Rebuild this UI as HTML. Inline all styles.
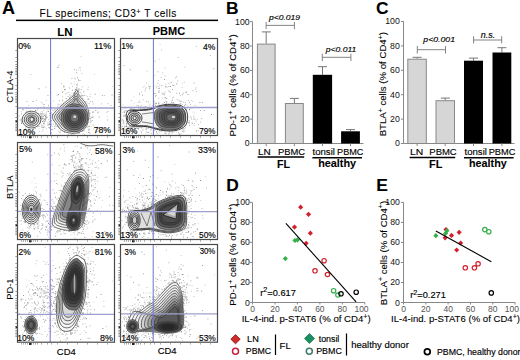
<!DOCTYPE html><html><head><meta charset="utf-8"><style>html,body{margin:0;padding:0;background:#fff;overflow:hidden}svg{display:block}</style></head><body><svg width="520" height="360" viewBox="0 0 520 360" font-family="Liberation Sans">
<style>text{stroke:#000;stroke-width:0.15px}text[font-weight=bold]{stroke-width:0.08px}</style>
<rect width="520" height="360" fill="#fff"/>
<text transform="translate(2.00,13.90)" font-size="18.00" font-weight="bold">A</text>
<text x="39.6" y="17.2" font-size="10.1" letter-spacing="0.5" style="stroke:#000;stroke-width:0.08px">FL specimens; CD3<tspan font-size="7.5" dy="-3.0">+</tspan><tspan dy="3.0"> T cells</tspan></text>
<rect x="16" y="19.6" width="202" height="1.5" fill="#000"/>
<text transform="translate(57.32,35.70) scale(1.077,1)" font-size="10.70" font-weight="bold">LN</text>
<text transform="translate(152.76,35.30) scale(1.049,1)" font-size="10.50" font-weight="bold">PBMC</text>
<path d="M69.2 97.3h0.9v0.9h-0.9zM32.4 116.8h0.9v0.9h-0.9zM78.8 100.5h0.9v0.9h-0.9zM87.7 113.6h0.9v0.9h-0.9zM69.0 94.4h0.9v0.9h-0.9zM74.5 93.9h0.9v0.9h-0.9zM84.9 122.3h0.9v0.9h-0.9zM89.5 112.8h0.9v0.9h-0.9zM58.2 126.9h0.9v0.9h-0.9zM63.4 85.6h0.9v0.9h-0.9zM80.8 89.2h0.9v0.9h-0.9zM86.5 104.8h0.9v0.9h-0.9zM67.4 101.9h0.9v0.9h-0.9zM53.3 110.4h0.9v0.9h-0.9zM72.1 133.3h0.9v0.9h-0.9zM71.5 77.9h0.9v0.9h-0.9zM50.1 117.9h0.9v0.9h-0.9zM85.1 127.1h0.9v0.9h-0.9zM63.1 103.2h0.9v0.9h-0.9zM56.1 111.3h0.9v0.9h-0.9zM63.0 129.5h0.9v0.9h-0.9zM61.9 99.7h0.9v0.9h-0.9zM111.6 94.5h0.9v0.9h-0.9zM55.4 116.9h0.9v0.9h-0.9zM88.4 98.4h0.9v0.9h-0.9zM83.5 127.2h0.9v0.9h-0.9zM64.0 131.0h0.9v0.9h-0.9zM83.7 105.7h0.9v0.9h-0.9zM77.1 77.3h0.9v0.9h-0.9zM85.5 101.3h0.9v0.9h-0.9zM72.2 89.8h0.9v0.9h-0.9zM72.7 131.9h0.9v0.9h-0.9zM58.9 126.6h0.9v0.9h-0.9zM88.8 125.8h0.9v0.9h-0.9zM50.2 132.1h0.9v0.9h-0.9zM97.4 112.3h0.9v0.9h-0.9zM92.7 116.5h0.9v0.9h-0.9zM59.1 128.2h0.9v0.9h-0.9zM87.0 119.5h0.9v0.9h-0.9zM56.6 126.2h0.9v0.9h-0.9zM78.1 79.6h0.9v0.9h-0.9zM78.9 132.7h0.9v0.9h-0.9zM72.6 97.7h0.9v0.9h-0.9zM107.3 119.5h0.9v0.9h-0.9zM86.9 126.7h0.9v0.9h-0.9zM50.7 112.4h0.9v0.9h-0.9zM63.4 86.6h0.9v0.9h-0.9zM51.9 117.3h0.9v0.9h-0.9zM95.0 107.4h0.9v0.9h-0.9zM89.9 118.2h0.9v0.9h-0.9zM55.1 124.5h0.9v0.9h-0.9zM82.3 95.0h0.9v0.9h-0.9zM88.5 131.8h0.9v0.9h-0.9zM59.5 132.3h0.9v0.9h-0.9zM53.4 113.7h0.9v0.9h-0.9zM72.2 133.3h0.9v0.9h-0.9zM70.7 133.9h0.9v0.9h-0.9zM52.2 114.1h0.9v0.9h-0.9zM64.6 89.0h0.9v0.9h-0.9zM58.3 130.7h0.9v0.9h-0.9zM92.6 111.3h0.9v0.9h-0.9z" fill="rgb(150,150,150)"/>
<path d="M79.7 98.6h0.9v0.9h-0.9zM83.4 91.3h0.9v0.9h-0.9zM89.8 118.4h0.9v0.9h-0.9zM96.7 130.9h0.9v0.9h-0.9zM57.2 110.1h0.9v0.9h-0.9zM88.3 132.2h0.9v0.9h-0.9zM70.1 97.9h0.9v0.9h-0.9zM57.8 121.7h0.9v0.9h-0.9zM49.4 114.9h0.9v0.9h-0.9zM73.9 92.5h0.9v0.9h-0.9zM87.8 98.9h0.9v0.9h-0.9zM63.2 130.1h0.9v0.9h-0.9zM48.5 127.0h0.9v0.9h-0.9zM43.6 104.0h0.9v0.9h-0.9zM84.9 125.4h0.9v0.9h-0.9zM54.0 113.5h0.9v0.9h-0.9zM53.8 119.8h0.9v0.9h-0.9zM90.8 120.7h0.9v0.9h-0.9zM48.3 124.3h0.9v0.9h-0.9zM77.6 89.6h0.9v0.9h-0.9zM58.1 94.1h0.9v0.9h-0.9zM49.8 116.3h0.9v0.9h-0.9zM88.3 129.5h0.9v0.9h-0.9zM82.1 130.6h0.9v0.9h-0.9zM78.8 132.1h0.9v0.9h-0.9zM94.9 132.5h0.9v0.9h-0.9zM75.1 89.1h0.9v0.9h-0.9zM85.8 124.3h0.9v0.9h-0.9zM95.4 110.1h0.9v0.9h-0.9zM81.8 97.9h0.9v0.9h-0.9zM49.9 125.6h0.9v0.9h-0.9zM70.0 95.7h0.9v0.9h-0.9zM52.5 114.7h0.9v0.9h-0.9zM76.3 72.4h0.9v0.9h-0.9zM82.2 130.0h0.9v0.9h-0.9zM77.0 90.3h0.9v0.9h-0.9zM64.1 89.3h0.9v0.9h-0.9zM51.7 129.0h0.9v0.9h-0.9zM62.1 91.9h0.9v0.9h-0.9zM49.7 109.7h0.9v0.9h-0.9zM78.2 91.0h0.9v0.9h-0.9zM56.6 94.7h0.9v0.9h-0.9zM94.6 93.8h0.9v0.9h-0.9zM81.9 129.7h0.9v0.9h-0.9zM75.8 88.8h0.9v0.9h-0.9zM78.3 93.9h0.9v0.9h-0.9zM52.9 116.9h0.9v0.9h-0.9zM87.5 89.2h0.9v0.9h-0.9zM45.3 115.3h0.9v0.9h-0.9zM65.7 98.1h0.9v0.9h-0.9z" fill="rgb(135,135,135)"/>
<path d="M54.4 126.0h0.9v0.9h-0.9zM90.8 116.8h0.9v0.9h-0.9zM71.0 100.2h0.9v0.9h-0.9zM69.0 87.5h0.9v0.9h-0.9zM89.9 100.9h0.9v0.9h-0.9zM55.0 112.3h0.9v0.9h-0.9zM73.8 94.2h0.9v0.9h-0.9zM52.3 117.1h0.9v0.9h-0.9zM80.4 131.0h0.9v0.9h-0.9zM53.3 119.3h0.9v0.9h-0.9zM90.3 122.1h0.9v0.9h-0.9zM60.7 108.6h0.9v0.9h-0.9zM77.2 90.1h0.9v0.9h-0.9zM88.2 121.9h0.9v0.9h-0.9zM55.2 122.9h0.9v0.9h-0.9zM51.2 123.4h0.9v0.9h-0.9zM78.3 88.9h0.9v0.9h-0.9zM78.3 80.4h0.9v0.9h-0.9zM49.3 127.9h0.9v0.9h-0.9zM48.4 119.3h0.9v0.9h-0.9zM62.5 90.9h0.9v0.9h-0.9zM83.9 133.9h0.9v0.9h-0.9zM82.5 98.7h0.9v0.9h-0.9zM98.7 116.6h0.9v0.9h-0.9zM76.8 84.6h0.9v0.9h-0.9zM51.1 129.0h0.9v0.9h-0.9zM79.9 91.9h0.9v0.9h-0.9zM42.3 112.7h0.9v0.9h-0.9zM50.5 124.6h0.9v0.9h-0.9zM74.1 92.5h0.9v0.9h-0.9zM45.7 99.7h0.9v0.9h-0.9zM90.4 120.4h0.9v0.9h-0.9zM49.2 122.8h0.9v0.9h-0.9zM41.1 107.1h0.9v0.9h-0.9zM107.7 103.3h0.9v0.9h-0.9zM77.5 90.5h0.9v0.9h-0.9zM87.7 118.8h0.9v0.9h-0.9zM33.9 124.5h0.9v0.9h-0.9zM81.6 99.8h0.9v0.9h-0.9zM92.0 120.2h0.9v0.9h-0.9zM45.5 114.2h0.9v0.9h-0.9zM76.8 132.9h0.9v0.9h-0.9zM65.7 102.2h0.9v0.9h-0.9zM47.5 109.3h0.9v0.9h-0.9zM54.1 128.0h0.9v0.9h-0.9zM91.6 117.1h0.9v0.9h-0.9zM56.6 125.6h0.9v0.9h-0.9zM79.6 80.0h0.9v0.9h-0.9zM88.8 110.1h0.9v0.9h-0.9zM80.5 129.1h0.9v0.9h-0.9zM67.5 96.0h0.9v0.9h-0.9zM82.3 130.5h0.9v0.9h-0.9zM77.6 88.4h0.9v0.9h-0.9zM57.0 106.6h0.9v0.9h-0.9zM53.1 120.1h0.9v0.9h-0.9zM69.2 98.3h0.9v0.9h-0.9zM67.8 133.9h0.9v0.9h-0.9zM50.8 132.6h0.9v0.9h-0.9zM101.2 103.4h0.9v0.9h-0.9zM88.6 132.0h0.9v0.9h-0.9zM47.5 95.1h0.9v0.9h-0.9zM81.6 128.0h0.9v0.9h-0.9zM84.2 129.7h0.9v0.9h-0.9zM62.2 100.2h0.9v0.9h-0.9zM76.1 87.3h0.9v0.9h-0.9zM42.4 129.3h0.9v0.9h-0.9zM80.5 95.3h0.9v0.9h-0.9zM84.0 106.5h0.9v0.9h-0.9zM81.8 86.4h0.9v0.9h-0.9zM86.0 106.3h0.9v0.9h-0.9zM88.6 114.1h0.9v0.9h-0.9zM64.1 131.9h0.9v0.9h-0.9zM76.1 84.6h0.9v0.9h-0.9zM45.7 112.5h0.9v0.9h-0.9zM88.7 129.3h0.9v0.9h-0.9zM56.0 110.5h0.9v0.9h-0.9zM83.7 95.0h0.9v0.9h-0.9zM103.9 94.9h0.9v0.9h-0.9zM101.9 95.0h0.9v0.9h-0.9zM57.7 108.0h0.9v0.9h-0.9zM79.8 98.4h0.9v0.9h-0.9zM86.3 122.9h0.9v0.9h-0.9z" fill="rgb(165,165,165)"/>
<path d="M52.2 126.2h0.9v0.9h-0.9zM75.7 92.8h0.9v0.9h-0.9zM89.5 120.4h0.9v0.9h-0.9zM87.8 86.8h0.9v0.9h-0.9zM42.3 103.2h0.9v0.9h-0.9zM61.6 104.7h0.9v0.9h-0.9zM53.0 114.1h0.9v0.9h-0.9zM93.1 103.6h0.9v0.9h-0.9zM74.8 79.2h0.9v0.9h-0.9zM89.3 115.8h0.9v0.9h-0.9zM78.8 89.7h0.9v0.9h-0.9zM88.8 126.3h0.9v0.9h-0.9zM86.9 96.1h0.9v0.9h-0.9zM78.1 89.3h0.9v0.9h-0.9zM78.7 88.3h0.9v0.9h-0.9zM79.5 131.2h0.9v0.9h-0.9zM49.9 124.9h0.9v0.9h-0.9zM57.7 104.5h0.9v0.9h-0.9zM91.6 117.6h0.9v0.9h-0.9zM89.2 115.4h0.9v0.9h-0.9zM50.8 117.9h0.9v0.9h-0.9zM80.8 93.6h0.9v0.9h-0.9zM31.2 120.7h0.9v0.9h-0.9zM53.9 117.5h0.9v0.9h-0.9zM56.0 110.1h0.9v0.9h-0.9zM87.2 99.1h0.9v0.9h-0.9zM74.1 81.7h0.9v0.9h-0.9zM88.6 112.1h0.9v0.9h-0.9zM92.6 124.1h0.9v0.9h-0.9zM72.9 91.9h0.9v0.9h-0.9zM76.7 86.6h0.9v0.9h-0.9zM61.2 103.6h0.9v0.9h-0.9zM60.7 105.5h0.9v0.9h-0.9zM82.1 128.5h0.9v0.9h-0.9zM77.0 83.2h0.9v0.9h-0.9zM87.3 108.9h0.9v0.9h-0.9zM54.6 127.7h0.9v0.9h-0.9zM42.4 113.3h0.9v0.9h-0.9zM83.1 130.4h0.9v0.9h-0.9zM89.3 118.6h0.9v0.9h-0.9zM81.1 99.3h0.9v0.9h-0.9zM73.8 84.2h0.9v0.9h-0.9zM90.0 93.8h0.9v0.9h-0.9zM65.2 101.7h0.9v0.9h-0.9zM48.3 106.3h0.9v0.9h-0.9zM82.5 103.1h0.9v0.9h-0.9zM52.6 106.7h0.9v0.9h-0.9zM40.7 112.9h0.9v0.9h-0.9zM43.2 120.7h0.9v0.9h-0.9zM52.7 116.0h0.9v0.9h-0.9zM42.6 114.0h0.9v0.9h-0.9zM107.0 116.2h0.9v0.9h-0.9zM85.5 94.9h0.9v0.9h-0.9zM96.3 126.6h0.9v0.9h-0.9zM89.5 96.0h0.9v0.9h-0.9zM47.8 111.1h0.9v0.9h-0.9zM68.0 133.8h0.9v0.9h-0.9zM88.7 103.1h0.9v0.9h-0.9zM67.5 103.2h0.9v0.9h-0.9zM45.1 118.2h0.9v0.9h-0.9zM90.1 107.7h0.9v0.9h-0.9zM57.7 103.5h0.9v0.9h-0.9zM80.6 95.6h0.9v0.9h-0.9z" fill="rgb(195,195,195)"/>
<path d="M98.3 111.6h0.9v0.9h-0.9zM88.6 115.4h0.9v0.9h-0.9zM79.6 96.4h0.9v0.9h-0.9zM81.0 95.5h0.9v0.9h-0.9zM49.4 117.4h0.9v0.9h-0.9zM58.2 110.8h0.9v0.9h-0.9zM40.2 107.0h0.9v0.9h-0.9zM57.8 124.5h0.9v0.9h-0.9zM82.7 127.5h0.9v0.9h-0.9zM70.7 83.1h0.9v0.9h-0.9zM82.2 101.1h0.9v0.9h-0.9zM42.8 116.3h0.9v0.9h-0.9zM38.8 130.8h0.9v0.9h-0.9zM78.7 95.8h0.9v0.9h-0.9zM51.5 112.9h0.9v0.9h-0.9zM72.0 97.7h0.9v0.9h-0.9zM64.1 104.0h0.9v0.9h-0.9zM106.5 111.9h0.9v0.9h-0.9zM52.0 109.7h0.9v0.9h-0.9zM62.1 96.3h0.9v0.9h-0.9zM50.9 120.7h0.9v0.9h-0.9zM43.3 118.1h0.9v0.9h-0.9zM89.3 117.9h0.9v0.9h-0.9zM69.1 131.7h0.9v0.9h-0.9zM93.5 128.6h0.9v0.9h-0.9zM93.5 125.3h0.9v0.9h-0.9zM82.4 133.4h0.9v0.9h-0.9zM62.7 130.6h0.9v0.9h-0.9zM43.7 113.5h0.9v0.9h-0.9zM71.3 94.7h0.9v0.9h-0.9zM73.4 133.8h0.9v0.9h-0.9zM110.6 105.0h0.9v0.9h-0.9zM72.5 93.5h0.9v0.9h-0.9zM49.8 107.8h0.9v0.9h-0.9zM59.4 104.2h0.9v0.9h-0.9zM89.5 132.9h0.9v0.9h-0.9zM78.0 132.5h0.9v0.9h-0.9zM72.1 85.9h0.9v0.9h-0.9zM80.4 99.9h0.9v0.9h-0.9zM107.1 133.9h0.9v0.9h-0.9zM74.4 89.7h0.9v0.9h-0.9zM58.9 100.3h0.9v0.9h-0.9zM75.8 87.7h0.9v0.9h-0.9zM88.8 128.4h0.9v0.9h-0.9zM53.2 100.4h0.9v0.9h-0.9zM55.3 119.6h0.9v0.9h-0.9zM80.5 56.2h0.9v0.9h-0.9zM93.5 111.7h0.9v0.9h-0.9zM85.2 106.2h0.9v0.9h-0.9zM87.4 102.5h0.9v0.9h-0.9zM75.4 91.3h0.9v0.9h-0.9zM56.7 125.3h0.9v0.9h-0.9zM86.5 123.7h0.9v0.9h-0.9zM60.3 129.8h0.9v0.9h-0.9zM87.9 126.0h0.9v0.9h-0.9zM61.0 83.3h0.9v0.9h-0.9zM73.8 92.5h0.9v0.9h-0.9zM74.0 69.1h0.9v0.9h-0.9zM63.0 102.7h0.9v0.9h-0.9zM90.5 125.7h0.9v0.9h-0.9zM52.7 114.0h0.9v0.9h-0.9zM78.4 92.2h0.9v0.9h-0.9zM40.9 117.5h0.9v0.9h-0.9zM50.4 114.6h0.9v0.9h-0.9zM58.7 127.2h0.9v0.9h-0.9zM71.5 132.9h0.9v0.9h-0.9zM78.4 89.6h0.9v0.9h-0.9zM67.9 101.1h0.9v0.9h-0.9zM45.5 86.6h0.9v0.9h-0.9zM82.5 100.4h0.9v0.9h-0.9z" fill="rgb(180,180,180)"/>
<path d="M86.0 118.6h0.9v0.9h-0.9zM94.0 74.0h0.9v0.9h-0.9zM85.9 131.5h0.9v0.9h-0.9zM70.7 92.3h0.9v0.9h-0.9zM68.6 91.7h0.9v0.9h-0.9zM78.8 132.2h0.9v0.9h-0.9zM67.9 92.0h0.9v0.9h-0.9zM89.7 100.7h0.9v0.9h-0.9zM89.4 117.8h0.9v0.9h-0.9zM46.2 128.1h0.9v0.9h-0.9zM76.9 92.7h0.9v0.9h-0.9zM84.1 102.3h0.9v0.9h-0.9zM88.8 103.7h0.9v0.9h-0.9zM74.7 94.0h0.9v0.9h-0.9zM82.5 96.6h0.9v0.9h-0.9zM50.8 108.6h0.9v0.9h-0.9zM53.6 121.4h0.9v0.9h-0.9zM59.9 131.3h0.9v0.9h-0.9zM50.0 114.1h0.9v0.9h-0.9zM98.8 116.4h0.9v0.9h-0.9zM87.2 124.6h0.9v0.9h-0.9zM50.4 125.3h0.9v0.9h-0.9zM88.2 110.2h0.9v0.9h-0.9zM92.2 115.5h0.9v0.9h-0.9zM49.9 114.1h0.9v0.9h-0.9z" fill="rgb(210,210,210)"/>
<path d="M88.9 112.5h0.9v0.9h-0.9zM50.2 103.0h0.9v0.9h-0.9zM50.1 77.9h0.9v0.9h-0.9zM49.9 81.4h0.9v0.9h-0.9zM81.5 73.1h0.9v0.9h-0.9zM81.2 100.7h0.9v0.9h-0.9z" fill="rgb(195,195,195)"/>
<path d="M65.2 93.3h0.9v0.9h-0.9zM78.9 116.0h0.9v0.9h-0.9zM58.7 64.7h0.9v0.9h-0.9zM112.0 85.9h0.9v0.9h-0.9zM58.1 65.4h0.9v0.9h-0.9zM35.8 99.8h0.9v0.9h-0.9zM66.6 92.5h0.9v0.9h-0.9zM30.3 74.1h0.9v0.9h-0.9zM37.9 88.2h0.9v0.9h-0.9zM39.0 88.5h0.9v0.9h-0.9z" fill="rgb(180,180,180)"/>
<path d="M77.9 69.6h0.9v0.9h-0.9z" fill="rgb(210,210,210)"/>
<path d="M57.5 67.1h0.9v0.9h-0.9zM75.9 69.7h0.9v0.9h-0.9zM74.5 77.7h0.9v0.9h-0.9z" fill="rgb(135,135,135)"/>
<path d="M107.4 110.9h0.9v0.9h-0.9zM92.2 111.9h0.9v0.9h-0.9zM79.5 67.3h0.9v0.9h-0.9z" fill="rgb(150,150,150)"/>
<path d="M79.9 69.7h0.9v0.9h-0.9zM64.9 108.1h0.9v0.9h-0.9zM92.0 101.3h0.9v0.9h-0.9zM76.3 100.4h0.9v0.9h-0.9zM24.6 45.6h0.9v0.9h-0.9z" fill="rgb(165,165,165)"/>
<path d="M40.4 121.2h0.9v0.9h-0.9zM42.0 127.2h0.9v0.9h-0.9zM23.6 117.2h0.9v0.9h-0.9zM43.8 121.7h0.9v0.9h-0.9zM26.5 101.1h0.9v0.9h-0.9zM26.2 111.2h0.9v0.9h-0.9zM54.4 109.0h0.9v0.9h-0.9zM25.1 113.4h0.9v0.9h-0.9zM29.4 128.9h0.9v0.9h-0.9zM44.7 119.8h0.9v0.9h-0.9zM35.1 112.0h0.9v0.9h-0.9zM41.5 113.4h0.9v0.9h-0.9zM22.0 118.5h0.9v0.9h-0.9zM40.7 113.8h0.9v0.9h-0.9zM39.7 122.7h0.9v0.9h-0.9zM21.4 118.7h0.9v0.9h-0.9zM22.6 109.4h0.9v0.9h-0.9zM41.5 117.7h0.9v0.9h-0.9zM44.7 119.1h0.9v0.9h-0.9zM22.4 119.1h0.9v0.9h-0.9zM21.2 121.8h0.9v0.9h-0.9zM23.7 117.6h0.9v0.9h-0.9zM23.2 133.2h0.9v0.9h-0.9zM44.0 121.0h0.9v0.9h-0.9zM26.4 129.6h0.9v0.9h-0.9zM24.6 124.2h0.9v0.9h-0.9z" fill="rgb(165,165,165)"/>
<path d="M40.6 113.5h0.9v0.9h-0.9zM41.6 131.2h0.9v0.9h-0.9zM22.2 119.6h0.9v0.9h-0.9zM23.7 131.5h0.9v0.9h-0.9zM29.7 109.9h0.9v0.9h-0.9zM35.6 110.7h0.9v0.9h-0.9zM36.4 124.7h0.9v0.9h-0.9zM34.9 128.0h0.9v0.9h-0.9zM18.8 115.6h0.9v0.9h-0.9zM37.4 125.0h0.9v0.9h-0.9zM43.5 118.6h0.9v0.9h-0.9zM42.1 125.5h0.9v0.9h-0.9zM26.8 112.0h0.9v0.9h-0.9zM40.4 113.8h0.9v0.9h-0.9zM26.6 110.9h0.9v0.9h-0.9zM37.3 107.6h0.9v0.9h-0.9zM28.2 111.2h0.9v0.9h-0.9zM30.8 130.6h0.9v0.9h-0.9z" fill="rgb(180,180,180)"/>
<path d="M37.2 126.4h0.9v0.9h-0.9zM38.2 120.9h0.9v0.9h-0.9zM35.2 128.2h0.9v0.9h-0.9zM26.3 127.2h0.9v0.9h-0.9zM28.2 105.2h0.9v0.9h-0.9zM25.3 112.1h0.9v0.9h-0.9zM37.7 113.5h0.9v0.9h-0.9zM20.9 119.9h0.9v0.9h-0.9zM20.6 111.3h0.9v0.9h-0.9zM39.5 116.4h0.9v0.9h-0.9zM30.8 113.2h0.9v0.9h-0.9zM32.5 130.0h0.9v0.9h-0.9zM41.1 119.7h0.9v0.9h-0.9zM35.6 124.3h0.9v0.9h-0.9zM23.1 116.7h0.9v0.9h-0.9zM30.7 111.5h0.9v0.9h-0.9zM37.8 122.6h0.9v0.9h-0.9zM40.0 115.4h0.9v0.9h-0.9zM40.1 112.8h0.9v0.9h-0.9zM26.1 125.2h0.9v0.9h-0.9zM20.8 118.5h0.9v0.9h-0.9zM36.2 124.8h0.9v0.9h-0.9z" fill="rgb(195,195,195)"/>
<path d="M29.0 114.9h0.9v0.9h-0.9zM42.0 121.1h0.9v0.9h-0.9zM32.7 101.1h0.9v0.9h-0.9zM38.6 125.8h0.9v0.9h-0.9zM22.5 109.3h0.9v0.9h-0.9zM46.5 106.9h0.9v0.9h-0.9zM42.6 115.6h0.9v0.9h-0.9zM28.5 128.6h0.9v0.9h-0.9zM45.1 116.2h0.9v0.9h-0.9zM40.3 117.2h0.9v0.9h-0.9zM21.0 123.1h0.9v0.9h-0.9zM21.4 120.8h0.9v0.9h-0.9zM23.9 129.8h0.9v0.9h-0.9zM26.4 107.5h0.9v0.9h-0.9z" fill="rgb(135,135,135)"/>
<path d="M24.2 129.4h0.9v0.9h-0.9zM20.6 119.4h0.9v0.9h-0.9zM39.0 122.0h0.9v0.9h-0.9zM40.8 124.0h0.9v0.9h-0.9zM35.5 111.6h0.9v0.9h-0.9zM38.7 127.9h0.9v0.9h-0.9zM29.2 110.9h0.9v0.9h-0.9zM46.2 110.9h0.9v0.9h-0.9zM25.6 110.0h0.9v0.9h-0.9z" fill="rgb(210,210,210)"/>
<path d="M40.9 118.6h0.9v0.9h-0.9zM38.3 113.1h0.9v0.9h-0.9zM21.1 113.6h0.9v0.9h-0.9zM40.0 121.9h0.9v0.9h-0.9zM40.9 101.7h0.9v0.9h-0.9zM22.0 117.5h0.9v0.9h-0.9zM19.7 119.6h0.9v0.9h-0.9zM31.2 112.4h0.9v0.9h-0.9zM26.8 125.8h0.9v0.9h-0.9zM40.3 117.6h0.9v0.9h-0.9zM33.5 112.1h0.9v0.9h-0.9zM33.5 128.1h0.9v0.9h-0.9zM25.2 127.7h0.9v0.9h-0.9z" fill="rgb(150,150,150)"/>
<path d="M42.3 118.1h0.9v0.9h-0.9zM39.9 121.1h0.9v0.9h-0.9zM40.5 112.8h0.9v0.9h-0.9zM45.0 114.4h0.9v0.9h-0.9zM40.8 127.1h0.9v0.9h-0.9zM35.5 123.5h0.9v0.9h-0.9z" fill="rgb(195,195,195)"/>
<path d="M41.8 116.4h0.9v0.9h-0.9zM44.2 118.9h0.9v0.9h-0.9zM47.4 122.3h0.9v0.9h-0.9zM42.9 119.8h0.9v0.9h-0.9zM44.9 120.7h0.9v0.9h-0.9zM44.4 118.4h0.9v0.9h-0.9zM43.6 123.0h0.9v0.9h-0.9zM37.7 113.1h0.9v0.9h-0.9zM53.6 117.9h0.9v0.9h-0.9zM38.0 121.2h0.9v0.9h-0.9zM42.8 116.3h0.9v0.9h-0.9zM43.3 125.7h0.9v0.9h-0.9zM37.3 116.0h0.9v0.9h-0.9zM46.5 116.7h0.9v0.9h-0.9z" fill="rgb(165,165,165)"/>
<path d="M45.1 118.4h0.9v0.9h-0.9zM45.3 119.0h0.9v0.9h-0.9zM47.0 124.5h0.9v0.9h-0.9zM48.1 104.8h0.9v0.9h-0.9zM49.1 112.8h0.9v0.9h-0.9zM48.8 127.1h0.9v0.9h-0.9zM37.1 109.3h0.9v0.9h-0.9zM43.4 106.0h0.9v0.9h-0.9zM46.7 117.2h0.9v0.9h-0.9zM40.2 116.8h0.9v0.9h-0.9zM49.7 124.1h0.9v0.9h-0.9zM51.3 107.0h0.9v0.9h-0.9zM43.2 110.2h0.9v0.9h-0.9zM41.5 111.1h0.9v0.9h-0.9zM45.8 115.2h0.9v0.9h-0.9zM48.7 123.9h0.9v0.9h-0.9z" fill="rgb(180,180,180)"/>
<path d="M39.4 115.9h0.9v0.9h-0.9zM47.9 111.1h0.9v0.9h-0.9zM44.4 126.6h0.9v0.9h-0.9zM41.0 115.6h0.9v0.9h-0.9zM50.7 120.0h0.9v0.9h-0.9zM43.0 122.8h0.9v0.9h-0.9zM44.0 107.5h0.9v0.9h-0.9zM44.2 115.1h0.9v0.9h-0.9zM41.0 125.4h0.9v0.9h-0.9zM43.6 123.7h0.9v0.9h-0.9zM45.7 117.6h0.9v0.9h-0.9zM41.7 118.4h0.9v0.9h-0.9z" fill="rgb(150,150,150)"/>
<path d="M38.5 120.2h0.9v0.9h-0.9zM52.8 123.7h0.9v0.9h-0.9zM44.6 108.4h0.9v0.9h-0.9zM44.7 119.4h0.9v0.9h-0.9zM35.1 110.0h0.9v0.9h-0.9zM49.4 121.3h0.9v0.9h-0.9zM46.1 116.7h0.9v0.9h-0.9zM41.8 118.1h0.9v0.9h-0.9zM43.2 126.9h0.9v0.9h-0.9zM39.7 116.1h0.9v0.9h-0.9zM48.8 123.8h0.9v0.9h-0.9zM45.6 117.3h0.9v0.9h-0.9z" fill="rgb(135,135,135)"/>
<ellipse cx="31.5" cy="119.6" rx="9.30" ry="8.40" fill="rgb(245,245,245)" stroke="#2a2a2a" stroke-width="0.7"/>
<ellipse cx="31.5" cy="119.6" rx="7.25" ry="6.55" fill="rgb(225,225,225)" stroke="#2a2a2a" stroke-width="0.7"/>
<ellipse cx="31.5" cy="119.6" rx="5.21" ry="4.70" fill="rgb(210,210,210)" stroke="#2a2a2a" stroke-width="0.7"/>
<ellipse cx="31.5" cy="119.6" rx="3.35" ry="3.02" fill="rgb(200,200,200)" stroke="#2a2a2a" stroke-width="0.7"/>
<ellipse cx="31.8" cy="119.4" rx="1.8" ry="2.2" fill="#eee" stroke="#222" stroke-width="0.7"/>
<path d="M76.5,90.3C77.6,90.3 78.0,93.9 79.5,96.0C81.0,98.1 84.0,100.3 85.5,103.0C87.0,105.7 88.1,109.0 88.6,112.0C89.0,115.0 88.8,118.2 88.2,121.0C87.6,123.8 86.7,126.5 85.0,128.5C83.3,130.4 80.5,131.9 78.0,132.7C75.5,133.4 72.7,133.4 70.0,133.0C67.3,132.6 64.2,131.9 62.0,130.5C59.8,129.1 58.6,126.7 57.0,124.5C55.4,122.3 52.6,119.6 52.3,117.5C52.0,115.4 53.5,113.9 55.0,112.0C56.5,110.1 58.8,108.0 61.0,106.0C63.2,104.0 66.0,101.7 68.0,100.0C70.0,98.3 71.6,97.6 73.0,96.0C74.4,94.4 75.4,90.3 76.5,90.3Z" fill="rgb(248,248,248)" stroke="#2a2a2a" stroke-width="0.65"/>
<path d="M76.3,93.0C77.3,93.0 77.7,96.2 79.0,98.1C80.4,100.0 83.1,102.0 84.4,104.4C85.8,106.8 86.8,109.8 87.2,112.5C87.6,115.2 87.4,118.1 86.9,120.6C86.3,123.1 85.5,125.6 84.0,127.3C82.4,129.1 79.9,130.5 77.7,131.1C75.4,131.8 72.9,131.7 70.5,131.4C68.1,131.1 65.2,130.4 63.3,129.2C61.3,127.9 60.2,125.7 58.8,123.8C57.3,121.8 54.8,119.3 54.5,117.5C54.2,115.6 55.7,114.2 57.0,112.5C58.3,110.8 60.4,108.9 62.4,107.1C64.3,105.3 66.9,103.2 68.7,101.7C70.5,100.2 71.9,99.6 73.2,98.1C74.4,96.6 75.3,93.0 76.3,93.0Z" fill="rgb(232,232,232)" stroke="#2a2a2a" stroke-width="0.65"/>
<path d="M76.1,95.6C77.0,95.6 77.3,98.5 78.5,100.2C79.7,101.9 82.1,103.7 83.3,105.8C84.6,107.9 85.5,110.6 85.8,113.0C86.2,115.4 86.0,118.0 85.5,120.2C85.0,122.4 84.3,124.6 82.9,126.2C81.6,127.8 79.3,129.0 77.3,129.6C75.3,130.2 73.1,130.1 70.9,129.8C68.8,129.5 66.3,128.9 64.5,127.8C62.8,126.7 61.8,124.7 60.5,123.0C59.2,121.3 57.0,119.1 56.8,117.4C56.5,115.7 57.8,114.5 58.9,113.0C60.1,111.5 62.0,109.8 63.7,108.2C65.5,106.6 67.7,104.7 69.3,103.4C70.9,102.1 72.2,101.5 73.3,100.2C74.5,98.9 75.3,95.6 76.1,95.6Z" fill="rgb(210,210,210)" stroke="#2a2a2a" stroke-width="0.65"/>
<path d="M76.0,98.3C76.7,98.3 77.0,100.8 78.1,102.3C79.1,103.8 81.2,105.3 82.3,107.2C83.3,109.1 84.1,111.4 84.4,113.5C84.7,115.6 84.6,117.9 84.2,119.8C83.7,121.7 83.1,123.7 81.9,125.0C80.7,126.4 78.8,127.5 77.0,128.0C75.3,128.5 73.3,128.5 71.4,128.2C69.5,127.9 67.3,127.4 65.8,126.5C64.3,125.5 63.4,123.8 62.3,122.2C61.2,120.7 59.3,118.8 59.0,117.3C58.8,115.9 59.9,114.8 60.9,113.5C61.9,112.2 63.6,110.7 65.1,109.3C66.6,107.9 68.6,106.3 70.0,105.1C71.4,103.9 72.5,103.4 73.5,102.3C74.5,101.2 75.2,98.3 76.0,98.3Z" fill="rgb(185,185,185)" stroke="#2a2a2a" stroke-width="0.65"/>
<ellipse cx="74.5" cy="117.8" rx="13.40" ry="14.00" fill="rgb(140,140,140)" stroke="#2a2a2a" stroke-width="0.6"/>
<ellipse cx="74.5" cy="117.8" rx="11.52" ry="12.04" fill="rgb(112,112,112)" stroke="#2a2a2a" stroke-width="0.6"/>
<ellipse cx="74.5" cy="117.8" rx="9.65" ry="10.08" fill="rgb(92,92,92)" stroke="#2a2a2a" stroke-width="0.6"/>
<ellipse cx="74.5" cy="117.8" rx="7.77" ry="8.12" fill="rgb(82,82,82)" stroke="#2a2a2a" stroke-width="0.6"/>
<ellipse cx="74.5" cy="117.8" rx="5.90" ry="6.16" fill="rgb(86,86,86)" stroke="#2a2a2a" stroke-width="0.6"/>
<ellipse cx="74.5" cy="117.8" rx="4.02" ry="4.20" fill="rgb(110,110,110)" stroke="#2a2a2a" stroke-width="0.6"/>
<ellipse cx="74.8" cy="116.8" rx="1.4" ry="1.2" fill="#ddd"/>
<path d="M17.5 108.0H114.5" stroke="#a0a0cc" stroke-width="1.3"/>
<path d="M50.6 38.5V135.5" stroke="#7070d0" stroke-width="1"/>
<rect x="17.5" y="38.5" width="97.0" height="97.0" fill="none" stroke="#4a4a4a" stroke-width="1.2"/>
<text transform="translate(18.15,48.80) scale(0.986,1)" font-size="8.90">0%</text>
<text transform="translate(93.93,48.80) scale(1.009,1)" font-size="8.90">11%</text>
<text transform="translate(17.96,134.50) scale(0.963,1)" font-size="8.90">10%</text>
<text transform="translate(93.74,133.10) scale(0.975,1)" font-size="8.90">78%</text>
<path d="M21.5 136.1v1.8M23.5 136.1v1.8M25.5 136.1v1.8M27.5 136.1v1.8M29.5 136.1v1.8M31.5 136.1v1.8M33.5 136.1v1.8M35.5 136.1v1.8M37.5 136.1v1.8M41.5 136.1v1.8M47.5 136.1v1.8M51.5 136.1v1.8M57.5 136.1v1.8M67.5 136.1v1.8M77.5 136.1v1.8M87.5 136.1v1.8M97.5 136.1v1.8M107.5 136.1v1.8" stroke="#888" stroke-width="0.7"/>
<rect x="29.0" y="136.3" width="2.4" height="2" fill="#222"/>
<rect x="15.6" y="120.0" width="1.5" height="2" fill="#222"/>
<path d="M15.3 50.5h2.2M15.3 57.5h2.2M15.3 61.5h2.2M15.3 64.5h2.2M15.3 66.5h2.2M15.3 68.5h2.2M15.3 70.0h2.2M15.3 71.5h2.2M15.3 73.0h2.2M15.3 74.5h2.2M15.3 78.5h2.2M15.3 85.5h2.2M15.3 89.5h2.2M15.3 92.5h2.2M15.3 94.5h2.2M15.3 96.5h2.2M15.3 98.0h2.2M15.3 99.5h2.2M15.3 101.0h2.2M15.3 102.5h2.2M15.3 106.5h2.2M15.3 113.5h2.2M15.3 117.5h2.2M15.3 120.5h2.2M15.3 122.5h2.2M15.3 124.5h2.2M15.3 126.0h2.2M15.3 127.5h2.2M15.3 129.0h2.2M15.3 130.5h2.2" stroke="#777" stroke-width="0.7"/>
<path d="M143.6 106.6h0.9v0.9h-0.9zM145.8 127.7h0.9v0.9h-0.9zM179.3 128.1h0.9v0.9h-0.9zM151.1 129.4h0.9v0.9h-0.9zM129.6 128.5h0.9v0.9h-0.9zM145.7 127.8h0.9v0.9h-0.9zM149.8 103.6h0.9v0.9h-0.9zM143.0 110.0h0.9v0.9h-0.9zM182.5 107.1h0.9v0.9h-0.9zM130.6 108.7h0.9v0.9h-0.9zM156.3 132.6h0.9v0.9h-0.9zM155.1 129.6h0.9v0.9h-0.9zM192.7 111.5h0.9v0.9h-0.9zM187.1 107.7h0.9v0.9h-0.9zM193.1 115.3h0.9v0.9h-0.9zM172.4 104.1h0.9v0.9h-0.9zM127.4 123.2h0.9v0.9h-0.9zM140.8 108.9h0.9v0.9h-0.9zM129.7 109.0h0.9v0.9h-0.9zM191.9 122.6h0.9v0.9h-0.9zM140.8 101.9h0.9v0.9h-0.9zM198.6 127.0h0.9v0.9h-0.9zM128.5 109.8h0.9v0.9h-0.9zM133.8 102.6h0.9v0.9h-0.9zM164.6 132.3h0.9v0.9h-0.9zM175.8 131.6h0.9v0.9h-0.9zM143.3 108.3h0.9v0.9h-0.9zM126.0 124.5h0.9v0.9h-0.9zM133.4 96.4h0.9v0.9h-0.9zM144.8 109.2h0.9v0.9h-0.9zM169.8 103.5h0.9v0.9h-0.9zM187.3 105.5h0.9v0.9h-0.9zM127.7 110.4h0.9v0.9h-0.9zM149.7 126.8h0.9v0.9h-0.9zM124.5 110.6h0.9v0.9h-0.9zM134.8 128.7h0.9v0.9h-0.9zM164.5 104.6h0.9v0.9h-0.9zM145.8 125.4h0.9v0.9h-0.9z" fill="rgb(210,210,210)"/>
<path d="M191.6 107.4h0.9v0.9h-0.9zM153.9 130.2h0.9v0.9h-0.9zM128.5 126.9h0.9v0.9h-0.9zM127.3 121.7h0.9v0.9h-0.9zM150.3 107.1h0.9v0.9h-0.9zM146.0 126.7h0.9v0.9h-0.9zM185.1 126.9h0.9v0.9h-0.9zM133.9 108.5h0.9v0.9h-0.9zM162.6 103.2h0.9v0.9h-0.9zM191.3 99.9h0.9v0.9h-0.9zM142.2 107.6h0.9v0.9h-0.9zM159.0 106.0h0.9v0.9h-0.9zM143.6 107.9h0.9v0.9h-0.9zM126.4 123.6h0.9v0.9h-0.9zM128.9 125.7h0.9v0.9h-0.9zM131.9 112.2h0.9v0.9h-0.9zM184.1 105.2h0.9v0.9h-0.9zM184.9 104.4h0.9v0.9h-0.9zM150.7 133.1h0.9v0.9h-0.9zM128.7 125.7h0.9v0.9h-0.9zM156.8 105.5h0.9v0.9h-0.9zM124.0 126.5h0.9v0.9h-0.9zM181.7 103.9h0.9v0.9h-0.9zM135.0 110.5h0.9v0.9h-0.9zM132.6 108.7h0.9v0.9h-0.9zM193.4 118.9h0.9v0.9h-0.9zM129.6 113.2h0.9v0.9h-0.9zM130.3 126.5h0.9v0.9h-0.9zM165.3 105.6h0.9v0.9h-0.9zM121.8 119.5h0.9v0.9h-0.9zM131.5 127.3h0.9v0.9h-0.9zM165.3 83.7h0.9v0.9h-0.9zM146.0 127.7h0.9v0.9h-0.9zM125.6 110.5h0.9v0.9h-0.9zM131.7 123.0h0.9v0.9h-0.9zM142.0 126.5h0.9v0.9h-0.9zM188.1 100.2h0.9v0.9h-0.9zM148.3 127.3h0.9v0.9h-0.9zM127.7 115.8h0.9v0.9h-0.9zM141.2 127.7h0.9v0.9h-0.9zM129.7 110.5h0.9v0.9h-0.9zM169.5 130.8h0.9v0.9h-0.9zM147.4 127.7h0.9v0.9h-0.9zM183.8 105.7h0.9v0.9h-0.9zM158.9 130.3h0.9v0.9h-0.9zM181.0 105.7h0.9v0.9h-0.9zM165.1 104.7h0.9v0.9h-0.9zM189.2 102.0h0.9v0.9h-0.9zM126.6 119.5h0.9v0.9h-0.9zM158.3 107.9h0.9v0.9h-0.9zM128.0 123.7h0.9v0.9h-0.9zM132.6 126.9h0.9v0.9h-0.9zM130.6 111.0h0.9v0.9h-0.9zM181.4 101.2h0.9v0.9h-0.9zM124.0 112.1h0.9v0.9h-0.9zM127.3 112.5h0.9v0.9h-0.9zM165.6 133.1h0.9v0.9h-0.9zM145.4 111.0h0.9v0.9h-0.9zM143.3 107.7h0.9v0.9h-0.9zM150.9 108.8h0.9v0.9h-0.9zM168.9 132.3h0.9v0.9h-0.9zM126.7 128.5h0.9v0.9h-0.9zM182.8 129.7h0.9v0.9h-0.9zM181.6 107.3h0.9v0.9h-0.9zM124.7 130.8h0.9v0.9h-0.9zM146.0 128.9h0.9v0.9h-0.9zM160.4 106.1h0.9v0.9h-0.9zM166.2 102.6h0.9v0.9h-0.9zM137.8 127.9h0.9v0.9h-0.9zM158.8 132.4h0.9v0.9h-0.9zM144.9 106.2h0.9v0.9h-0.9zM154.8 129.1h0.9v0.9h-0.9zM136.5 105.2h0.9v0.9h-0.9zM127.5 126.4h0.9v0.9h-0.9zM149.4 108.3h0.9v0.9h-0.9zM123.3 122.8h0.9v0.9h-0.9zM197.9 129.9h0.9v0.9h-0.9zM188.8 109.6h0.9v0.9h-0.9zM161.6 93.5h0.9v0.9h-0.9z" fill="rgb(165,165,165)"/>
<path d="M150.0 127.0h0.9v0.9h-0.9zM191.2 119.2h0.9v0.9h-0.9zM122.9 115.8h0.9v0.9h-0.9zM184.9 101.8h0.9v0.9h-0.9zM124.2 111.1h0.9v0.9h-0.9zM202.5 128.4h0.9v0.9h-0.9zM164.9 100.5h0.9v0.9h-0.9zM128.5 111.8h0.9v0.9h-0.9zM171.3 132.9h0.9v0.9h-0.9zM138.3 108.2h0.9v0.9h-0.9zM127.0 116.0h0.9v0.9h-0.9zM155.6 103.3h0.9v0.9h-0.9zM145.5 132.4h0.9v0.9h-0.9zM123.7 125.2h0.9v0.9h-0.9zM186.4 125.2h0.9v0.9h-0.9zM127.2 126.7h0.9v0.9h-0.9zM176.7 105.4h0.9v0.9h-0.9zM122.5 112.0h0.9v0.9h-0.9zM125.9 121.4h0.9v0.9h-0.9zM179.4 105.1h0.9v0.9h-0.9zM150.9 128.4h0.9v0.9h-0.9zM193.7 116.7h0.9v0.9h-0.9zM139.6 109.7h0.9v0.9h-0.9zM122.4 119.3h0.9v0.9h-0.9zM172.6 129.7h0.9v0.9h-0.9zM153.0 132.0h0.9v0.9h-0.9zM148.9 104.8h0.9v0.9h-0.9zM147.2 108.1h0.9v0.9h-0.9zM140.0 125.2h0.9v0.9h-0.9zM167.7 104.1h0.9v0.9h-0.9zM185.9 118.4h0.9v0.9h-0.9zM179.0 105.2h0.9v0.9h-0.9zM145.1 128.8h0.9v0.9h-0.9zM124.1 115.2h0.9v0.9h-0.9zM130.6 110.3h0.9v0.9h-0.9zM122.8 122.6h0.9v0.9h-0.9zM136.8 111.9h0.9v0.9h-0.9zM158.6 103.4h0.9v0.9h-0.9zM184.7 130.4h0.9v0.9h-0.9zM136.4 126.3h0.9v0.9h-0.9zM158.1 102.8h0.9v0.9h-0.9zM126.0 118.5h0.9v0.9h-0.9zM145.8 131.3h0.9v0.9h-0.9zM181.6 87.1h0.9v0.9h-0.9zM125.5 121.6h0.9v0.9h-0.9zM188.8 123.2h0.9v0.9h-0.9zM163.2 104.8h0.9v0.9h-0.9zM133.7 126.3h0.9v0.9h-0.9zM178.9 101.2h0.9v0.9h-0.9zM143.4 127.4h0.9v0.9h-0.9zM136.0 132.2h0.9v0.9h-0.9zM134.6 127.3h0.9v0.9h-0.9zM125.6 125.4h0.9v0.9h-0.9zM140.4 108.1h0.9v0.9h-0.9zM196.9 118.8h0.9v0.9h-0.9zM124.3 116.2h0.9v0.9h-0.9zM154.1 105.8h0.9v0.9h-0.9zM123.8 126.3h0.9v0.9h-0.9zM124.5 110.3h0.9v0.9h-0.9zM181.0 130.4h0.9v0.9h-0.9zM180.0 95.1h0.9v0.9h-0.9zM147.8 128.3h0.9v0.9h-0.9zM157.7 107.5h0.9v0.9h-0.9zM194.8 89.2h0.9v0.9h-0.9zM183.9 109.0h0.9v0.9h-0.9zM177.5 104.8h0.9v0.9h-0.9zM140.2 107.5h0.9v0.9h-0.9zM161.2 107.2h0.9v0.9h-0.9zM140.2 130.7h0.9v0.9h-0.9zM122.9 128.5h0.9v0.9h-0.9zM129.0 127.2h0.9v0.9h-0.9zM125.6 130.2h0.9v0.9h-0.9zM157.1 133.3h0.9v0.9h-0.9zM182.8 131.7h0.9v0.9h-0.9zM126.7 129.1h0.9v0.9h-0.9zM194.0 112.7h0.9v0.9h-0.9zM139.5 106.5h0.9v0.9h-0.9zM172.4 129.3h0.9v0.9h-0.9zM169.3 95.7h0.9v0.9h-0.9zM122.6 104.6h0.9v0.9h-0.9zM134.8 110.3h0.9v0.9h-0.9zM153.0 100.9h0.9v0.9h-0.9zM130.0 109.7h0.9v0.9h-0.9z" fill="rgb(195,195,195)"/>
<path d="M166.0 106.7h0.9v0.9h-0.9zM141.1 131.8h0.9v0.9h-0.9zM148.0 109.3h0.9v0.9h-0.9zM191.7 122.8h0.9v0.9h-0.9zM169.4 103.9h0.9v0.9h-0.9zM140.7 105.3h0.9v0.9h-0.9zM147.8 101.5h0.9v0.9h-0.9zM171.4 102.1h0.9v0.9h-0.9zM175.5 105.0h0.9v0.9h-0.9zM140.4 107.9h0.9v0.9h-0.9zM186.4 107.0h0.9v0.9h-0.9zM142.5 129.5h0.9v0.9h-0.9zM149.7 107.3h0.9v0.9h-0.9zM178.1 132.2h0.9v0.9h-0.9zM151.4 126.7h0.9v0.9h-0.9zM178.6 133.5h0.9v0.9h-0.9zM188.7 120.4h0.9v0.9h-0.9zM163.6 105.1h0.9v0.9h-0.9zM186.2 109.3h0.9v0.9h-0.9zM155.3 104.9h0.9v0.9h-0.9zM181.4 125.9h0.9v0.9h-0.9zM195.6 120.7h0.9v0.9h-0.9zM122.9 121.7h0.9v0.9h-0.9zM125.5 133.9h0.9v0.9h-0.9zM138.6 126.2h0.9v0.9h-0.9zM155.2 108.8h0.9v0.9h-0.9zM131.3 110.7h0.9v0.9h-0.9zM185.6 92.1h0.9v0.9h-0.9zM124.8 114.3h0.9v0.9h-0.9zM190.8 117.6h0.9v0.9h-0.9zM194.7 105.2h0.9v0.9h-0.9zM200.2 121.7h0.9v0.9h-0.9zM180.4 102.8h0.9v0.9h-0.9zM166.3 98.1h0.9v0.9h-0.9zM132.9 129.2h0.9v0.9h-0.9zM123.4 115.4h0.9v0.9h-0.9zM150.3 129.5h0.9v0.9h-0.9zM130.0 109.6h0.9v0.9h-0.9zM164.6 132.8h0.9v0.9h-0.9zM185.3 103.8h0.9v0.9h-0.9zM187.9 122.3h0.9v0.9h-0.9zM164.2 104.3h0.9v0.9h-0.9zM126.1 126.0h0.9v0.9h-0.9zM133.3 132.1h0.9v0.9h-0.9zM183.1 92.7h0.9v0.9h-0.9zM140.5 109.7h0.9v0.9h-0.9zM168.4 133.3h0.9v0.9h-0.9zM129.9 127.7h0.9v0.9h-0.9zM136.5 126.8h0.9v0.9h-0.9zM179.3 133.9h0.9v0.9h-0.9zM126.8 110.6h0.9v0.9h-0.9zM151.6 109.1h0.9v0.9h-0.9zM199.5 102.0h0.9v0.9h-0.9zM180.4 100.7h0.9v0.9h-0.9zM131.2 128.0h0.9v0.9h-0.9zM173.0 128.2h0.9v0.9h-0.9zM130.5 126.4h0.9v0.9h-0.9zM124.6 108.2h0.9v0.9h-0.9zM125.4 126.3h0.9v0.9h-0.9zM134.9 111.8h0.9v0.9h-0.9zM155.5 102.6h0.9v0.9h-0.9zM121.8 126.2h0.9v0.9h-0.9zM175.3 105.6h0.9v0.9h-0.9zM130.0 111.0h0.9v0.9h-0.9zM147.1 107.8h0.9v0.9h-0.9zM195.9 91.2h0.9v0.9h-0.9zM175.6 105.4h0.9v0.9h-0.9zM201.9 102.1h0.9v0.9h-0.9zM176.4 104.8h0.9v0.9h-0.9zM189.0 109.1h0.9v0.9h-0.9zM183.5 128.5h0.9v0.9h-0.9zM184.3 112.7h0.9v0.9h-0.9zM184.9 107.9h0.9v0.9h-0.9zM138.1 128.7h0.9v0.9h-0.9z" fill="rgb(150,150,150)"/>
<path d="M166.4 107.0h0.9v0.9h-0.9zM153.0 105.0h0.9v0.9h-0.9zM165.8 103.4h0.9v0.9h-0.9zM147.6 132.1h0.9v0.9h-0.9zM177.2 105.6h0.9v0.9h-0.9zM195.9 130.5h0.9v0.9h-0.9zM160.8 106.2h0.9v0.9h-0.9zM189.1 121.7h0.9v0.9h-0.9zM179.2 126.0h0.9v0.9h-0.9zM138.3 127.6h0.9v0.9h-0.9zM153.7 101.2h0.9v0.9h-0.9zM165.5 104.4h0.9v0.9h-0.9zM183.5 131.2h0.9v0.9h-0.9zM182.4 128.6h0.9v0.9h-0.9zM189.7 107.5h0.9v0.9h-0.9zM137.1 127.9h0.9v0.9h-0.9zM147.1 108.9h0.9v0.9h-0.9zM185.5 119.1h0.9v0.9h-0.9zM125.7 115.4h0.9v0.9h-0.9zM153.5 106.5h0.9v0.9h-0.9zM160.8 130.8h0.9v0.9h-0.9zM126.0 122.9h0.9v0.9h-0.9zM123.1 120.5h0.9v0.9h-0.9zM166.3 101.3h0.9v0.9h-0.9zM194.5 118.7h0.9v0.9h-0.9zM157.3 129.1h0.9v0.9h-0.9zM201.3 118.2h0.9v0.9h-0.9zM132.4 125.9h0.9v0.9h-0.9zM171.9 99.8h0.9v0.9h-0.9zM133.4 109.7h0.9v0.9h-0.9zM146.6 109.8h0.9v0.9h-0.9zM130.7 110.0h0.9v0.9h-0.9zM157.4 106.9h0.9v0.9h-0.9zM143.6 109.6h0.9v0.9h-0.9zM128.9 122.7h0.9v0.9h-0.9zM172.8 96.7h0.9v0.9h-0.9zM156.1 131.6h0.9v0.9h-0.9zM147.0 109.2h0.9v0.9h-0.9zM158.3 103.3h0.9v0.9h-0.9zM136.2 109.7h0.9v0.9h-0.9zM131.4 108.2h0.9v0.9h-0.9zM189.0 124.7h0.9v0.9h-0.9zM170.1 86.1h0.9v0.9h-0.9zM184.0 108.6h0.9v0.9h-0.9zM211.0 114.1h0.9v0.9h-0.9zM164.1 102.1h0.9v0.9h-0.9zM134.3 126.4h0.9v0.9h-0.9zM138.1 112.0h0.9v0.9h-0.9zM200.2 110.2h0.9v0.9h-0.9zM140.6 127.1h0.9v0.9h-0.9z" fill="rgb(135,135,135)"/>
<path d="M182.0 131.1h0.9v0.9h-0.9zM180.7 133.4h0.9v0.9h-0.9zM183.2 108.0h0.9v0.9h-0.9zM158.5 101.7h0.9v0.9h-0.9zM146.0 106.7h0.9v0.9h-0.9zM182.8 126.5h0.9v0.9h-0.9zM172.0 97.7h0.9v0.9h-0.9zM124.7 128.8h0.9v0.9h-0.9zM185.4 121.8h0.9v0.9h-0.9zM179.4 133.8h0.9v0.9h-0.9zM126.5 115.1h0.9v0.9h-0.9zM132.9 126.8h0.9v0.9h-0.9zM135.2 109.5h0.9v0.9h-0.9zM186.0 109.3h0.9v0.9h-0.9zM141.9 124.9h0.9v0.9h-0.9zM161.9 128.3h0.9v0.9h-0.9zM166.9 105.3h0.9v0.9h-0.9zM127.0 112.9h0.9v0.9h-0.9zM126.5 110.0h0.9v0.9h-0.9zM193.2 117.2h0.9v0.9h-0.9zM139.0 126.8h0.9v0.9h-0.9zM174.6 104.8h0.9v0.9h-0.9zM162.1 105.1h0.9v0.9h-0.9zM144.5 126.6h0.9v0.9h-0.9zM128.1 127.5h0.9v0.9h-0.9zM126.6 116.6h0.9v0.9h-0.9zM166.1 105.4h0.9v0.9h-0.9zM185.4 111.7h0.9v0.9h-0.9zM189.8 116.3h0.9v0.9h-0.9zM148.5 131.4h0.9v0.9h-0.9zM176.3 92.8h0.9v0.9h-0.9zM153.4 130.4h0.9v0.9h-0.9zM184.3 128.2h0.9v0.9h-0.9zM129.8 108.2h0.9v0.9h-0.9zM136.2 127.7h0.9v0.9h-0.9zM134.0 128.1h0.9v0.9h-0.9zM157.8 130.4h0.9v0.9h-0.9zM156.1 131.3h0.9v0.9h-0.9zM194.2 123.0h0.9v0.9h-0.9zM176.3 105.0h0.9v0.9h-0.9zM121.5 109.3h0.9v0.9h-0.9zM174.9 128.4h0.9v0.9h-0.9zM189.8 106.9h0.9v0.9h-0.9zM131.3 127.7h0.9v0.9h-0.9zM187.4 120.4h0.9v0.9h-0.9zM127.5 118.9h0.9v0.9h-0.9zM156.1 94.9h0.9v0.9h-0.9zM129.8 110.8h0.9v0.9h-0.9zM126.0 119.9h0.9v0.9h-0.9zM197.9 124.1h0.9v0.9h-0.9zM130.8 100.1h0.9v0.9h-0.9zM143.9 108.2h0.9v0.9h-0.9zM186.6 117.8h0.9v0.9h-0.9zM170.9 101.4h0.9v0.9h-0.9zM192.6 101.4h0.9v0.9h-0.9zM176.8 99.1h0.9v0.9h-0.9zM145.7 106.8h0.9v0.9h-0.9zM123.6 110.7h0.9v0.9h-0.9zM172.3 132.0h0.9v0.9h-0.9zM136.1 110.6h0.9v0.9h-0.9zM178.7 100.0h0.9v0.9h-0.9zM138.5 108.5h0.9v0.9h-0.9zM169.6 129.6h0.9v0.9h-0.9zM126.6 120.9h0.9v0.9h-0.9zM126.1 124.5h0.9v0.9h-0.9zM145.3 108.4h0.9v0.9h-0.9z" fill="rgb(180,180,180)"/>
<path d="M145.7 87.0h0.9v0.9h-0.9zM164.6 109.1h0.9v0.9h-0.9zM146.0 82.5h0.9v0.9h-0.9zM172.2 84.5h0.9v0.9h-0.9zM139.0 100.5h0.9v0.9h-0.9zM162.4 92.2h0.9v0.9h-0.9zM164.1 94.5h0.9v0.9h-0.9zM157.9 91.6h0.9v0.9h-0.9zM176.3 83.9h0.9v0.9h-0.9zM153.0 97.6h0.9v0.9h-0.9zM144.3 85.7h0.9v0.9h-0.9zM169.3 83.7h0.9v0.9h-0.9zM164.8 91.3h0.9v0.9h-0.9zM148.3 84.7h0.9v0.9h-0.9zM168.3 82.8h0.9v0.9h-0.9zM172.7 103.3h0.9v0.9h-0.9zM161.7 97.6h0.9v0.9h-0.9zM142.7 86.5h0.9v0.9h-0.9zM137.8 102.0h0.9v0.9h-0.9zM159.0 112.9h0.9v0.9h-0.9zM141.0 91.8h0.9v0.9h-0.9zM165.2 86.0h0.9v0.9h-0.9zM184.2 112.2h0.9v0.9h-0.9z" fill="rgb(195,195,195)"/>
<path d="M158.2 79.9h0.9v0.9h-0.9zM157.7 85.9h0.9v0.9h-0.9zM179.8 104.4h0.9v0.9h-0.9zM138.9 94.0h0.9v0.9h-0.9zM183.8 81.7h0.9v0.9h-0.9zM177.3 80.6h0.9v0.9h-0.9zM168.4 86.1h0.9v0.9h-0.9zM164.3 105.0h0.9v0.9h-0.9zM144.6 90.3h0.9v0.9h-0.9zM158.5 90.2h0.9v0.9h-0.9zM142.8 99.4h0.9v0.9h-0.9zM162.3 72.4h0.9v0.9h-0.9zM173.2 102.1h0.9v0.9h-0.9zM145.7 101.0h0.9v0.9h-0.9zM148.6 86.0h0.9v0.9h-0.9zM193.5 82.5h0.9v0.9h-0.9zM161.3 85.0h0.9v0.9h-0.9z" fill="rgb(165,165,165)"/>
<path d="M153.8 93.3h0.9v0.9h-0.9zM179.5 103.7h0.9v0.9h-0.9zM158.6 91.6h0.9v0.9h-0.9zM184.8 113.2h0.9v0.9h-0.9zM155.8 102.9h0.9v0.9h-0.9zM168.6 90.6h0.9v0.9h-0.9zM145.4 88.4h0.9v0.9h-0.9zM179.0 92.8h0.9v0.9h-0.9zM164.2 79.0h0.9v0.9h-0.9zM154.5 103.5h0.9v0.9h-0.9zM155.2 95.6h0.9v0.9h-0.9zM169.7 91.7h0.9v0.9h-0.9zM170.7 81.8h0.9v0.9h-0.9zM142.0 94.7h0.9v0.9h-0.9zM157.6 71.4h0.9v0.9h-0.9z" fill="rgb(135,135,135)"/>
<path d="M185.8 91.5h0.9v0.9h-0.9zM187.5 94.1h0.9v0.9h-0.9zM175.2 77.4h0.9v0.9h-0.9zM165.4 86.3h0.9v0.9h-0.9zM137.9 105.6h0.9v0.9h-0.9zM181.9 94.3h0.9v0.9h-0.9zM163.2 106.4h0.9v0.9h-0.9zM172.8 84.9h0.9v0.9h-0.9zM159.0 87.8h0.9v0.9h-0.9zM164.9 97.3h0.9v0.9h-0.9zM155.3 93.2h0.9v0.9h-0.9zM163.4 93.4h0.9v0.9h-0.9zM176.3 83.2h0.9v0.9h-0.9zM160.7 76.9h0.9v0.9h-0.9zM172.1 89.0h0.9v0.9h-0.9z" fill="rgb(150,150,150)"/>
<path d="M149.2 88.3h0.9v0.9h-0.9zM155.7 87.3h0.9v0.9h-0.9zM149.0 87.3h0.9v0.9h-0.9zM162.8 93.8h0.9v0.9h-0.9zM190.1 104.2h0.9v0.9h-0.9zM163.3 106.3h0.9v0.9h-0.9zM149.9 86.1h0.9v0.9h-0.9zM154.5 75.2h0.9v0.9h-0.9zM184.5 107.5h0.9v0.9h-0.9zM164.5 75.6h0.9v0.9h-0.9zM153.4 85.8h0.9v0.9h-0.9zM158.4 97.8h0.9v0.9h-0.9zM164.5 109.1h0.9v0.9h-0.9zM176.0 76.3h0.9v0.9h-0.9zM151.9 104.9h0.9v0.9h-0.9zM166.5 86.8h0.9v0.9h-0.9zM164.0 93.3h0.9v0.9h-0.9zM183.3 101.8h0.9v0.9h-0.9zM173.5 85.0h0.9v0.9h-0.9z" fill="rgb(180,180,180)"/>
<path d="M157.9 91.9h0.9v0.9h-0.9z" fill="rgb(210,210,210)"/>
<path d="M195.6 87.5h0.9v0.9h-0.9zM154.6 60.8h0.9v0.9h-0.9zM164.4 67.7h0.9v0.9h-0.9zM184.4 66.7h0.9v0.9h-0.9zM213.3 68.3h0.9v0.9h-0.9zM196.2 46.2h0.9v0.9h-0.9zM164.5 97.6h0.9v0.9h-0.9zM192.5 90.3h0.9v0.9h-0.9zM158.9 84.7h0.9v0.9h-0.9z" fill="rgb(165,165,165)"/>
<path d="M157.4 82.5h0.9v0.9h-0.9zM139.1 92.6h0.9v0.9h-0.9zM161.2 49.5h0.9v0.9h-0.9zM193.5 124.8h0.9v0.9h-0.9zM146.8 70.7h0.9v0.9h-0.9zM158.8 58.7h0.9v0.9h-0.9zM157.9 88.1h0.9v0.9h-0.9zM159.7 121.9h0.9v0.9h-0.9zM138.8 101.6h0.9v0.9h-0.9z" fill="rgb(180,180,180)"/>
<path d="M186.9 122.1h0.9v0.9h-0.9zM159.6 44.0h0.9v0.9h-0.9zM147.6 113.4h0.9v0.9h-0.9zM155.6 85.3h0.9v0.9h-0.9z" fill="rgb(195,195,195)"/>
<path d="M203.8 110.0h0.9v0.9h-0.9zM177.8 56.9h0.9v0.9h-0.9zM129.8 69.3h0.9v0.9h-0.9zM209.9 54.9h0.9v0.9h-0.9z" fill="rgb(150,150,150)"/>
<path d="M181.9 82.8h0.9v0.9h-0.9z" fill="rgb(210,210,210)"/>
<path d="M123.6 65.2h0.9v0.9h-0.9z" fill="rgb(135,135,135)"/>
<path d="M127.0,112.0C127.8,110.5 129.2,110.3 131.0,110.0C132.8,109.7 135.5,110.1 138.0,110.0C140.5,109.9 143.5,109.8 146.0,109.5C148.5,109.2 150.7,108.7 153.0,108.0C155.3,107.3 157.2,106.1 160.0,105.5C162.8,104.9 166.7,104.3 170.0,104.3C173.3,104.3 177.3,104.3 180.0,105.3C182.7,106.2 184.7,107.9 186.0,110.0C187.3,112.1 187.8,115.3 187.6,118.0C187.4,120.7 186.9,123.9 185.0,126.0C183.1,128.1 179.5,129.7 176.0,130.5C172.5,131.3 167.7,131.0 164.0,130.7C160.3,130.4 157.0,129.2 154.0,128.5C151.0,127.8 148.7,126.9 146.0,126.5C143.3,126.1 140.7,126.5 138.0,126.3C135.3,126.1 131.9,126.7 130.0,125.5C128.1,124.3 127.0,121.2 126.5,119.0C126.0,116.8 126.2,113.5 127.0,112.0Z" fill="rgb(250,250,250)" stroke="#111" stroke-width="0.8"/>
<path d="M129.3,112.4C130.0,111.0 131.3,110.9 133.0,110.5C134.7,110.2 137.2,110.6 139.5,110.5C141.9,110.5 144.7,110.4 147.0,110.1C149.3,109.8 151.3,109.3 153.5,108.7C155.7,108.1 157.4,106.9 160.0,106.4C162.6,105.8 166.2,105.3 169.3,105.2C172.4,105.2 176.1,105.3 178.6,106.2C181.1,107.1 183.0,108.6 184.2,110.5C185.4,112.5 185.8,115.5 185.7,118.0C185.5,120.5 185.0,123.5 183.2,125.4C181.5,127.4 178.1,128.9 174.9,129.6C171.6,130.3 167.1,130.1 163.7,129.8C160.3,129.5 157.2,128.4 154.4,127.8C151.6,127.1 149.5,126.2 147.0,125.9C144.5,125.6 142.0,125.9 139.5,125.7C137.1,125.5 133.9,126.1 132.1,125.0C130.3,123.8 129.3,121.0 128.8,118.9C128.4,116.8 128.6,113.8 129.3,112.4Z" fill="rgb(245,245,245)" stroke="#111" stroke-width="0.8"/>
<ellipse cx="134.6" cy="118.0" rx="7.40" ry="6.60" fill="rgb(235,235,235)" stroke="#111" stroke-width="0.75"/>
<ellipse cx="134.6" cy="118.0" rx="5.55" ry="4.95" fill="rgb(215,215,215)" stroke="#111" stroke-width="0.75"/>
<ellipse cx="134.6" cy="118.0" rx="3.70" ry="3.30" fill="rgb(225,225,225)" stroke="#111" stroke-width="0.75"/>
<ellipse cx="134.6" cy="118" rx="1.7" ry="1.7" fill="#fff" stroke="#111" stroke-width="0.8"/>
<path d="M142,114 C146,113.5 150,113 154,112.5 M142,122 C146,122.5 150,123 154,124" fill="none" stroke="#333" stroke-width="0.6"/>
<path d="M156.0,110.0C157.4,108.8 160.3,107.6 163.0,107.0C165.7,106.4 169.0,106.2 172.0,106.3C175.0,106.4 178.8,106.5 181.0,107.8C183.2,109.1 184.4,111.5 185.0,114.0C185.6,116.5 185.8,120.6 184.6,123.0C183.4,125.4 180.8,127.5 178.0,128.6C175.2,129.7 171.2,129.5 168.0,129.3C164.8,129.1 161.2,128.7 159.0,127.3C156.8,125.9 155.8,123.2 155.0,121.0C154.2,118.8 154.3,115.8 154.5,114.0C154.7,112.2 154.6,111.2 156.0,110.0Z" fill="rgb(135,135,135)" stroke="#2a2a2a" stroke-width="0.6"/>
<path d="M158.2,111.0C159.5,110.0 162.0,109.0 164.3,108.4C166.6,107.9 169.4,107.7 172.0,107.8C174.6,108.0 177.9,108.0 179.7,109.1C181.6,110.2 182.7,112.3 183.2,114.5C183.7,116.6 183.8,120.1 182.8,122.2C181.8,124.3 179.5,126.1 177.2,127.0C174.8,127.9 171.3,127.8 168.6,127.6C165.8,127.4 162.7,127.1 160.8,125.9C159.0,124.7 158.0,122.4 157.4,120.5C156.7,118.6 156.8,116.0 156.9,114.5C157.1,112.9 157.0,112.0 158.2,111.0Z" fill="rgb(108,108,108)" stroke="#2a2a2a" stroke-width="0.6"/>
<path d="M160.5,112.0C161.5,111.2 163.6,110.3 165.5,109.9C167.4,109.4 169.8,109.3 172.0,109.4C174.2,109.5 176.9,109.5 178.5,110.5C180.0,111.4 180.9,113.1 181.4,114.9C181.8,116.7 181.9,119.7 181.1,121.4C180.2,123.2 178.3,124.7 176.3,125.4C174.3,126.2 171.4,126.1 169.1,125.9C166.8,125.8 164.2,125.5 162.6,124.5C161.1,123.5 160.3,121.6 159.8,120.0C159.2,118.4 159.3,116.2 159.4,114.9C159.5,113.6 159.5,112.9 160.5,112.0Z" fill="rgb(88,88,88)" stroke="#2a2a2a" stroke-width="0.6"/>
<path d="M162.7,113.1C163.5,112.4 165.2,111.7 166.8,111.3C168.3,111.0 170.3,110.8 172.0,110.9C173.7,111.0 176.0,111.0 177.2,111.8C178.5,112.5 179.2,113.9 179.5,115.4C179.9,116.9 180.0,119.2 179.3,120.6C178.6,122.0 177.1,123.2 175.5,123.9C173.9,124.5 171.5,124.4 169.7,124.3C167.8,124.1 165.7,123.9 164.5,123.1C163.2,122.3 162.6,120.7 162.1,119.4C161.7,118.2 161.8,116.4 161.8,115.4C161.9,114.3 161.9,113.7 162.7,113.1Z" fill="rgb(78,78,78)" stroke="#2a2a2a" stroke-width="0.6"/>
<path d="M165.0,114.1C165.6,113.6 166.9,113.0 168.0,112.8C169.2,112.5 170.7,112.4 172.0,112.5C173.3,112.5 175.0,112.6 176.0,113.1C176.9,113.7 177.5,114.7 177.7,115.8C178.0,117.0 178.1,118.7 177.5,119.8C177.0,120.9 175.9,121.8 174.6,122.3C173.4,122.7 171.6,122.7 170.2,122.6C168.8,122.5 167.2,122.3 166.3,121.7C165.3,121.1 164.9,119.9 164.5,118.9C164.2,118.0 164.2,116.7 164.3,115.8C164.4,115.0 164.3,114.6 165.0,114.1Z" fill="rgb(82,82,82)" stroke="#2a2a2a" stroke-width="0.6"/>
<path d="M167.2,115.1C167.6,114.8 168.5,114.4 169.3,114.2C170.1,114.0 171.1,114.0 172.0,114.0C172.9,114.0 174.0,114.1 174.7,114.5C175.3,114.8 175.7,115.6 175.9,116.3C176.1,117.1 176.1,118.3 175.8,119.0C175.4,119.7 174.6,120.4 173.8,120.7C173.0,121.0 171.8,121.0 170.8,120.9C169.9,120.8 168.8,120.7 168.1,120.3C167.4,119.9 167.1,119.1 166.9,118.4C166.7,117.7 166.7,116.9 166.8,116.3C166.8,115.8 166.8,115.5 167.2,115.1Z" fill="rgb(105,105,105)" stroke="#2a2a2a" stroke-width="0.6"/>
<ellipse cx="173.5" cy="117" rx="1.8" ry="1.1" fill="#ddd"/>
<path d="M120.5 107.5H217.5" stroke="#a0a0cc" stroke-width="1.3"/>
<path d="M153.4 38.5V135.5" stroke="#7070d0" stroke-width="1"/>
<rect x="120.5" y="38.5" width="97.0" height="97.0" fill="none" stroke="#4a4a4a" stroke-width="1.2"/>
<text transform="translate(121.16,49.00) scale(0.953,1)" font-size="8.90">1%</text>
<text transform="translate(203.11,49.80) scale(0.957,1)" font-size="8.90">4%</text>
<text transform="translate(120.88,134.00) scale(0.933,1)" font-size="8.90">16%</text>
<text transform="translate(199.28,134.00) scale(0.905,1)" font-size="8.90">79%</text>
<path d="M124.5 136.1v1.8M126.5 136.1v1.8M128.5 136.1v1.8M130.5 136.1v1.8M132.5 136.1v1.8M134.5 136.1v1.8M136.5 136.1v1.8M138.5 136.1v1.8M140.5 136.1v1.8M144.5 136.1v1.8M150.5 136.1v1.8M154.5 136.1v1.8M160.5 136.1v1.8M170.5 136.1v1.8M180.5 136.1v1.8M190.5 136.1v1.8M200.5 136.1v1.8M210.5 136.1v1.8" stroke="#888" stroke-width="0.7"/>
<rect x="132.0" y="136.3" width="2.4" height="2" fill="#222"/>
<rect x="118.6" y="120.0" width="1.5" height="2" fill="#222"/>
<path d="M118.3 50.5h2.2M118.3 57.5h2.2M118.3 61.5h2.2M118.3 64.5h2.2M118.3 66.5h2.2M118.3 68.5h2.2M118.3 70.0h2.2M118.3 71.5h2.2M118.3 73.0h2.2M118.3 74.5h2.2M118.3 78.5h2.2M118.3 85.5h2.2M118.3 89.5h2.2M118.3 92.5h2.2M118.3 94.5h2.2M118.3 96.5h2.2M118.3 98.0h2.2M118.3 99.5h2.2M118.3 101.0h2.2M118.3 102.5h2.2M118.3 106.5h2.2M118.3 113.5h2.2M118.3 117.5h2.2M118.3 120.5h2.2M118.3 122.5h2.2M118.3 124.5h2.2M118.3 126.0h2.2M118.3 127.5h2.2M118.3 129.0h2.2M118.3 130.5h2.2" stroke="#777" stroke-width="0.7"/>
<path d="M83.0 170.9h0.9v0.9h-0.9zM92.5 160.3h0.9v0.9h-0.9zM51.5 218.5h0.9v0.9h-0.9zM81.6 171.0h0.9v0.9h-0.9zM63.4 186.2h0.9v0.9h-0.9zM76.6 166.0h0.9v0.9h-0.9zM90.2 209.9h0.9v0.9h-0.9zM52.0 222.0h0.9v0.9h-0.9zM90.3 179.4h0.9v0.9h-0.9zM55.7 214.4h0.9v0.9h-0.9zM69.9 178.9h0.9v0.9h-0.9zM62.9 229.9h0.9v0.9h-0.9zM54.1 202.4h0.9v0.9h-0.9zM66.8 187.7h0.9v0.9h-0.9zM92.3 164.3h0.9v0.9h-0.9zM87.8 174.6h0.9v0.9h-0.9zM76.2 167.7h0.9v0.9h-0.9zM59.4 227.3h0.9v0.9h-0.9zM92.4 215.9h0.9v0.9h-0.9zM75.0 165.7h0.9v0.9h-0.9zM89.7 175.9h0.9v0.9h-0.9zM87.1 227.6h0.9v0.9h-0.9zM83.1 171.9h0.9v0.9h-0.9zM67.1 173.0h0.9v0.9h-0.9zM98.2 160.3h0.9v0.9h-0.9zM58.9 231.0h0.9v0.9h-0.9zM45.0 226.3h0.9v0.9h-0.9zM46.3 227.2h0.9v0.9h-0.9zM88.0 191.6h0.9v0.9h-0.9zM77.4 233.6h0.9v0.9h-0.9zM60.4 199.4h0.9v0.9h-0.9zM56.5 173.6h0.9v0.9h-0.9zM92.3 179.5h0.9v0.9h-0.9zM48.3 236.4h0.9v0.9h-0.9zM98.0 193.7h0.9v0.9h-0.9zM62.6 175.1h0.9v0.9h-0.9zM52.6 200.8h0.9v0.9h-0.9zM78.5 169.9h0.9v0.9h-0.9zM72.8 230.1h0.9v0.9h-0.9zM46.2 226.5h0.9v0.9h-0.9zM53.8 173.0h0.9v0.9h-0.9zM97.1 176.7h0.9v0.9h-0.9zM55.5 212.8h0.9v0.9h-0.9zM89.5 181.7h0.9v0.9h-0.9zM40.0 232.5h0.9v0.9h-0.9zM65.6 187.2h0.9v0.9h-0.9zM69.6 172.6h0.9v0.9h-0.9zM52.8 222.9h0.9v0.9h-0.9zM82.4 167.3h0.9v0.9h-0.9zM79.7 170.6h0.9v0.9h-0.9zM88.5 210.0h0.9v0.9h-0.9zM78.2 166.5h0.9v0.9h-0.9zM60.8 184.4h0.9v0.9h-0.9zM88.1 164.4h0.9v0.9h-0.9zM75.7 169.5h0.9v0.9h-0.9zM55.9 179.8h0.9v0.9h-0.9zM90.1 163.6h0.9v0.9h-0.9zM91.8 221.9h0.9v0.9h-0.9zM93.5 194.6h0.9v0.9h-0.9zM80.1 169.4h0.9v0.9h-0.9zM70.5 155.8h0.9v0.9h-0.9zM82.0 164.1h0.9v0.9h-0.9zM77.8 165.0h0.9v0.9h-0.9zM71.5 161.3h0.9v0.9h-0.9zM46.2 213.2h0.9v0.9h-0.9zM64.2 185.3h0.9v0.9h-0.9zM87.8 171.4h0.9v0.9h-0.9zM56.1 192.2h0.9v0.9h-0.9zM92.6 185.1h0.9v0.9h-0.9zM79.9 225.4h0.9v0.9h-0.9zM91.1 185.0h0.9v0.9h-0.9zM60.1 189.8h0.9v0.9h-0.9zM80.8 168.9h0.9v0.9h-0.9zM88.1 177.7h0.9v0.9h-0.9zM56.6 204.7h0.9v0.9h-0.9zM56.7 211.5h0.9v0.9h-0.9zM72.1 174.4h0.9v0.9h-0.9zM84.5 223.5h0.9v0.9h-0.9zM43.9 215.7h0.9v0.9h-0.9zM66.4 230.4h0.9v0.9h-0.9zM52.2 198.8h0.9v0.9h-0.9zM76.3 229.0h0.9v0.9h-0.9zM55.3 232.8h0.9v0.9h-0.9zM83.0 158.2h0.9v0.9h-0.9zM83.1 228.6h0.9v0.9h-0.9zM87.0 190.9h0.9v0.9h-0.9z" fill="rgb(195,195,195)"/>
<path d="M51.9 221.9h0.9v0.9h-0.9zM80.7 167.9h0.9v0.9h-0.9zM51.8 215.4h0.9v0.9h-0.9zM79.7 167.1h0.9v0.9h-0.9zM98.0 167.5h0.9v0.9h-0.9zM76.9 234.4h0.9v0.9h-0.9zM82.4 227.0h0.9v0.9h-0.9zM75.3 156.7h0.9v0.9h-0.9zM88.7 208.3h0.9v0.9h-0.9zM52.3 208.1h0.9v0.9h-0.9zM92.4 231.4h0.9v0.9h-0.9zM81.2 165.3h0.9v0.9h-0.9zM77.7 229.0h0.9v0.9h-0.9zM80.2 168.4h0.9v0.9h-0.9zM78.5 227.9h0.9v0.9h-0.9zM96.5 210.6h0.9v0.9h-0.9zM66.9 180.0h0.9v0.9h-0.9zM75.5 169.9h0.9v0.9h-0.9zM89.0 193.0h0.9v0.9h-0.9zM74.2 170.0h0.9v0.9h-0.9zM69.2 172.7h0.9v0.9h-0.9zM55.1 206.4h0.9v0.9h-0.9zM77.8 169.3h0.9v0.9h-0.9zM89.3 174.4h0.9v0.9h-0.9zM93.5 189.0h0.9v0.9h-0.9zM85.8 206.3h0.9v0.9h-0.9zM65.5 187.6h0.9v0.9h-0.9zM88.0 169.9h0.9v0.9h-0.9zM51.1 226.6h0.9v0.9h-0.9zM73.8 231.7h0.9v0.9h-0.9zM91.7 236.2h0.9v0.9h-0.9zM62.3 228.2h0.9v0.9h-0.9zM91.0 193.6h0.9v0.9h-0.9zM59.3 200.1h0.9v0.9h-0.9zM58.9 198.4h0.9v0.9h-0.9zM50.9 210.3h0.9v0.9h-0.9zM88.5 199.0h0.9v0.9h-0.9zM82.4 168.8h0.9v0.9h-0.9zM64.8 187.2h0.9v0.9h-0.9zM73.8 177.1h0.9v0.9h-0.9zM79.2 232.3h0.9v0.9h-0.9zM88.3 175.5h0.9v0.9h-0.9zM49.3 224.2h0.9v0.9h-0.9zM50.8 230.2h0.9v0.9h-0.9zM58.6 230.0h0.9v0.9h-0.9zM58.3 208.8h0.9v0.9h-0.9zM89.2 176.0h0.9v0.9h-0.9zM109.2 204.8h0.9v0.9h-0.9zM80.0 164.7h0.9v0.9h-0.9zM61.6 176.5h0.9v0.9h-0.9zM56.4 231.3h0.9v0.9h-0.9zM39.1 231.3h0.9v0.9h-0.9zM77.3 170.2h0.9v0.9h-0.9zM104.5 231.1h0.9v0.9h-0.9zM88.5 221.8h0.9v0.9h-0.9zM94.7 166.9h0.9v0.9h-0.9zM47.5 219.9h0.9v0.9h-0.9zM94.9 162.3h0.9v0.9h-0.9zM93.2 211.7h0.9v0.9h-0.9zM81.9 166.2h0.9v0.9h-0.9zM87.2 176.8h0.9v0.9h-0.9zM83.5 218.3h0.9v0.9h-0.9zM90.3 200.3h0.9v0.9h-0.9zM61.3 199.6h0.9v0.9h-0.9zM82.3 230.9h0.9v0.9h-0.9zM68.0 174.5h0.9v0.9h-0.9zM53.7 226.7h0.9v0.9h-0.9zM88.9 208.1h0.9v0.9h-0.9zM73.3 170.8h0.9v0.9h-0.9zM38.3 225.4h0.9v0.9h-0.9zM63.1 167.5h0.9v0.9h-0.9zM94.1 203.0h0.9v0.9h-0.9zM86.4 223.9h0.9v0.9h-0.9zM82.2 226.4h0.9v0.9h-0.9zM89.2 193.1h0.9v0.9h-0.9zM54.4 222.5h0.9v0.9h-0.9zM89.0 211.2h0.9v0.9h-0.9zM53.4 206.3h0.9v0.9h-0.9zM91.9 174.7h0.9v0.9h-0.9zM81.0 232.8h0.9v0.9h-0.9zM86.4 207.4h0.9v0.9h-0.9zM83.2 171.9h0.9v0.9h-0.9z" fill="rgb(165,165,165)"/>
<path d="M74.5 229.6h0.9v0.9h-0.9zM79.3 160.8h0.9v0.9h-0.9zM43.4 209.1h0.9v0.9h-0.9zM47.4 229.5h0.9v0.9h-0.9zM97.0 191.3h0.9v0.9h-0.9zM65.8 186.2h0.9v0.9h-0.9zM50.0 226.1h0.9v0.9h-0.9zM81.9 171.4h0.9v0.9h-0.9zM55.2 223.7h0.9v0.9h-0.9zM87.2 193.4h0.9v0.9h-0.9zM93.6 174.8h0.9v0.9h-0.9zM56.3 226.4h0.9v0.9h-0.9zM68.1 228.5h0.9v0.9h-0.9zM82.8 233.0h0.9v0.9h-0.9zM87.3 153.4h0.9v0.9h-0.9zM60.6 233.4h0.9v0.9h-0.9zM50.9 229.1h0.9v0.9h-0.9zM98.7 197.4h0.9v0.9h-0.9zM85.6 213.2h0.9v0.9h-0.9zM64.5 182.6h0.9v0.9h-0.9zM85.7 163.4h0.9v0.9h-0.9zM95.9 196.1h0.9v0.9h-0.9zM50.4 218.3h0.9v0.9h-0.9zM94.8 199.7h0.9v0.9h-0.9zM72.6 155.0h0.9v0.9h-0.9zM91.1 154.1h0.9v0.9h-0.9zM72.3 160.5h0.9v0.9h-0.9zM94.7 179.1h0.9v0.9h-0.9zM55.9 212.3h0.9v0.9h-0.9zM95.1 183.4h0.9v0.9h-0.9zM91.8 162.8h0.9v0.9h-0.9zM94.5 218.8h0.9v0.9h-0.9zM84.4 221.9h0.9v0.9h-0.9zM52.3 189.4h0.9v0.9h-0.9zM84.7 162.5h0.9v0.9h-0.9zM100.1 213.4h0.9v0.9h-0.9zM89.2 193.8h0.9v0.9h-0.9zM85.2 146.0h0.9v0.9h-0.9zM51.9 222.7h0.9v0.9h-0.9zM60.4 233.6h0.9v0.9h-0.9zM76.6 145.7h0.9v0.9h-0.9zM86.1 216.7h0.9v0.9h-0.9zM83.9 213.8h0.9v0.9h-0.9zM59.0 154.7h0.9v0.9h-0.9zM48.9 227.6h0.9v0.9h-0.9zM81.0 158.2h0.9v0.9h-0.9zM50.4 221.0h0.9v0.9h-0.9zM78.0 228.8h0.9v0.9h-0.9zM72.5 175.4h0.9v0.9h-0.9zM69.7 180.1h0.9v0.9h-0.9zM77.1 230.4h0.9v0.9h-0.9zM92.4 190.3h0.9v0.9h-0.9zM55.4 205.7h0.9v0.9h-0.9zM67.9 231.2h0.9v0.9h-0.9zM79.7 168.8h0.9v0.9h-0.9zM57.3 230.3h0.9v0.9h-0.9zM60.0 228.8h0.9v0.9h-0.9zM63.4 185.5h0.9v0.9h-0.9zM60.3 196.6h0.9v0.9h-0.9zM47.0 204.1h0.9v0.9h-0.9zM51.5 223.4h0.9v0.9h-0.9zM62.6 173.2h0.9v0.9h-0.9zM90.8 205.5h0.9v0.9h-0.9zM72.5 174.7h0.9v0.9h-0.9zM63.4 187.5h0.9v0.9h-0.9zM51.6 225.5h0.9v0.9h-0.9zM52.2 220.9h0.9v0.9h-0.9zM49.4 208.6h0.9v0.9h-0.9zM54.7 235.8h0.9v0.9h-0.9zM86.4 210.8h0.9v0.9h-0.9zM73.8 167.0h0.9v0.9h-0.9zM94.8 187.3h0.9v0.9h-0.9zM52.1 206.8h0.9v0.9h-0.9zM90.9 172.1h0.9v0.9h-0.9z" fill="rgb(150,150,150)"/>
<path d="M91.0 184.5h0.9v0.9h-0.9zM72.6 232.4h0.9v0.9h-0.9zM90.3 204.6h0.9v0.9h-0.9zM60.7 170.8h0.9v0.9h-0.9zM63.6 233.3h0.9v0.9h-0.9zM80.6 163.8h0.9v0.9h-0.9zM58.7 190.0h0.9v0.9h-0.9zM81.7 168.0h0.9v0.9h-0.9zM84.9 220.7h0.9v0.9h-0.9zM90.0 192.3h0.9v0.9h-0.9zM89.2 151.9h0.9v0.9h-0.9zM54.1 220.8h0.9v0.9h-0.9zM47.9 230.4h0.9v0.9h-0.9zM81.7 163.9h0.9v0.9h-0.9zM86.2 162.4h0.9v0.9h-0.9zM73.2 164.6h0.9v0.9h-0.9zM93.7 186.7h0.9v0.9h-0.9zM90.2 211.3h0.9v0.9h-0.9zM64.9 184.4h0.9v0.9h-0.9zM84.9 220.4h0.9v0.9h-0.9zM65.0 181.9h0.9v0.9h-0.9zM57.6 231.2h0.9v0.9h-0.9zM83.0 228.7h0.9v0.9h-0.9zM52.7 218.7h0.9v0.9h-0.9zM74.4 226.6h0.9v0.9h-0.9zM57.3 232.2h0.9v0.9h-0.9zM57.6 197.8h0.9v0.9h-0.9zM84.4 172.6h0.9v0.9h-0.9zM74.4 161.3h0.9v0.9h-0.9zM86.7 174.7h0.9v0.9h-0.9zM78.2 167.3h0.9v0.9h-0.9zM78.2 167.3h0.9v0.9h-0.9zM54.0 180.5h0.9v0.9h-0.9zM70.6 231.3h0.9v0.9h-0.9zM82.6 229.1h0.9v0.9h-0.9zM91.0 186.1h0.9v0.9h-0.9zM81.9 171.3h0.9v0.9h-0.9zM91.1 180.6h0.9v0.9h-0.9zM92.7 212.8h0.9v0.9h-0.9zM75.8 172.8h0.9v0.9h-0.9zM87.4 212.7h0.9v0.9h-0.9zM46.2 189.8h0.9v0.9h-0.9zM64.8 233.0h0.9v0.9h-0.9zM83.3 219.7h0.9v0.9h-0.9zM56.5 198.8h0.9v0.9h-0.9zM87.8 223.2h0.9v0.9h-0.9zM70.0 180.0h0.9v0.9h-0.9zM60.0 230.6h0.9v0.9h-0.9zM58.4 197.8h0.9v0.9h-0.9zM81.1 159.3h0.9v0.9h-0.9zM90.2 201.7h0.9v0.9h-0.9zM106.5 176.6h0.9v0.9h-0.9zM80.2 159.8h0.9v0.9h-0.9zM53.3 203.2h0.9v0.9h-0.9zM53.5 224.7h0.9v0.9h-0.9zM80.8 146.7h0.9v0.9h-0.9zM54.6 226.6h0.9v0.9h-0.9zM91.2 180.1h0.9v0.9h-0.9zM90.5 176.4h0.9v0.9h-0.9zM74.6 237.5h0.9v0.9h-0.9zM89.4 195.9h0.9v0.9h-0.9zM75.9 168.9h0.9v0.9h-0.9zM60.9 185.5h0.9v0.9h-0.9zM88.5 180.5h0.9v0.9h-0.9zM91.1 178.3h0.9v0.9h-0.9zM55.0 223.2h0.9v0.9h-0.9zM91.4 170.2h0.9v0.9h-0.9zM53.1 212.7h0.9v0.9h-0.9zM79.6 232.7h0.9v0.9h-0.9zM60.9 193.5h0.9v0.9h-0.9zM104.8 177.0h0.9v0.9h-0.9zM69.7 173.9h0.9v0.9h-0.9zM97.4 180.9h0.9v0.9h-0.9zM85.3 223.5h0.9v0.9h-0.9zM94.5 180.7h0.9v0.9h-0.9zM46.9 234.3h0.9v0.9h-0.9zM81.9 158.5h0.9v0.9h-0.9zM74.3 229.4h0.9v0.9h-0.9zM50.9 199.5h0.9v0.9h-0.9zM73.1 165.6h0.9v0.9h-0.9z" fill="rgb(180,180,180)"/>
<path d="M89.5 178.7h0.9v0.9h-0.9zM74.0 234.0h0.9v0.9h-0.9zM57.0 230.6h0.9v0.9h-0.9zM86.0 169.9h0.9v0.9h-0.9zM36.9 218.3h0.9v0.9h-0.9zM58.9 225.6h0.9v0.9h-0.9zM75.2 164.4h0.9v0.9h-0.9zM79.9 162.3h0.9v0.9h-0.9zM59.9 198.3h0.9v0.9h-0.9zM62.9 231.6h0.9v0.9h-0.9zM55.4 235.1h0.9v0.9h-0.9zM76.2 229.0h0.9v0.9h-0.9zM70.0 234.5h0.9v0.9h-0.9zM80.5 164.9h0.9v0.9h-0.9zM85.4 223.9h0.9v0.9h-0.9zM95.5 180.4h0.9v0.9h-0.9zM76.5 163.2h0.9v0.9h-0.9zM80.3 225.0h0.9v0.9h-0.9zM85.7 229.0h0.9v0.9h-0.9zM80.5 158.6h0.9v0.9h-0.9zM93.7 198.5h0.9v0.9h-0.9zM86.0 220.8h0.9v0.9h-0.9zM52.8 216.9h0.9v0.9h-0.9zM84.2 171.9h0.9v0.9h-0.9zM101.0 206.6h0.9v0.9h-0.9zM89.6 159.4h0.9v0.9h-0.9zM74.9 231.3h0.9v0.9h-0.9z" fill="rgb(210,210,210)"/>
<path d="M48.0 222.8h0.9v0.9h-0.9zM93.3 178.9h0.9v0.9h-0.9zM84.1 225.6h0.9v0.9h-0.9zM106.8 160.6h0.9v0.9h-0.9zM84.2 219.9h0.9v0.9h-0.9zM88.4 166.9h0.9v0.9h-0.9zM87.7 173.9h0.9v0.9h-0.9zM55.1 196.8h0.9v0.9h-0.9zM87.6 169.8h0.9v0.9h-0.9zM60.6 190.0h0.9v0.9h-0.9zM80.6 166.3h0.9v0.9h-0.9zM50.9 205.8h0.9v0.9h-0.9zM69.1 230.8h0.9v0.9h-0.9zM55.8 215.3h0.9v0.9h-0.9zM79.2 161.6h0.9v0.9h-0.9zM77.8 171.3h0.9v0.9h-0.9zM77.8 231.9h0.9v0.9h-0.9zM81.8 158.2h0.9v0.9h-0.9zM92.5 220.6h0.9v0.9h-0.9zM46.5 220.8h0.9v0.9h-0.9zM83.5 171.4h0.9v0.9h-0.9zM58.5 201.4h0.9v0.9h-0.9zM40.6 228.8h0.9v0.9h-0.9zM50.7 209.9h0.9v0.9h-0.9zM44.9 216.4h0.9v0.9h-0.9zM49.0 231.5h0.9v0.9h-0.9zM45.2 229.3h0.9v0.9h-0.9zM84.1 223.1h0.9v0.9h-0.9zM81.3 169.7h0.9v0.9h-0.9zM64.0 229.9h0.9v0.9h-0.9zM65.5 165.2h0.9v0.9h-0.9zM95.8 166.7h0.9v0.9h-0.9zM88.2 199.6h0.9v0.9h-0.9zM83.8 168.9h0.9v0.9h-0.9zM47.3 231.7h0.9v0.9h-0.9zM60.9 190.9h0.9v0.9h-0.9zM54.7 206.0h0.9v0.9h-0.9zM91.1 172.8h0.9v0.9h-0.9zM89.6 200.8h0.9v0.9h-0.9zM87.9 192.5h0.9v0.9h-0.9zM84.4 236.8h0.9v0.9h-0.9zM83.4 172.0h0.9v0.9h-0.9zM52.6 208.6h0.9v0.9h-0.9zM57.9 200.0h0.9v0.9h-0.9z" fill="rgb(135,135,135)"/>
<path d="M62.0 171.8h0.9v0.9h-0.9zM74.5 145.9h0.9v0.9h-0.9zM57.2 184.2h0.9v0.9h-0.9zM89.5 159.2h0.9v0.9h-0.9zM64.0 163.0h0.9v0.9h-0.9zM68.8 163.9h0.9v0.9h-0.9zM80.8 159.4h0.9v0.9h-0.9zM76.5 163.2h0.9v0.9h-0.9z" fill="rgb(195,195,195)"/>
<path d="M73.1 150.5h0.9v0.9h-0.9zM78.5 159.3h0.9v0.9h-0.9zM80.8 147.6h0.9v0.9h-0.9zM77.2 172.1h0.9v0.9h-0.9zM71.8 156.8h0.9v0.9h-0.9zM80.7 165.3h0.9v0.9h-0.9zM74.5 167.2h0.9v0.9h-0.9zM71.3 173.9h0.9v0.9h-0.9zM72.6 151.1h0.9v0.9h-0.9zM68.7 163.0h0.9v0.9h-0.9zM63.8 164.1h0.9v0.9h-0.9zM62.7 187.5h0.9v0.9h-0.9zM73.6 162.4h0.9v0.9h-0.9zM77.3 171.5h0.9v0.9h-0.9z" fill="rgb(135,135,135)"/>
<path d="M64.8 163.9h0.9v0.9h-0.9zM72.0 158.5h0.9v0.9h-0.9zM71.0 174.0h0.9v0.9h-0.9zM78.7 153.1h0.9v0.9h-0.9zM64.3 147.4h0.9v0.9h-0.9zM86.0 158.0h0.9v0.9h-0.9zM78.9 166.2h0.9v0.9h-0.9zM53.9 152.5h0.9v0.9h-0.9zM75.2 171.4h0.9v0.9h-0.9zM69.5 159.4h0.9v0.9h-0.9zM75.3 157.5h0.9v0.9h-0.9zM79.6 156.3h0.9v0.9h-0.9z" fill="rgb(165,165,165)"/>
<path d="M71.4 155.6h0.9v0.9h-0.9zM63.4 144.3h0.9v0.9h-0.9zM77.4 151.0h0.9v0.9h-0.9zM77.3 151.6h0.9v0.9h-0.9zM73.7 154.5h0.9v0.9h-0.9zM71.0 159.2h0.9v0.9h-0.9zM87.4 145.7h0.9v0.9h-0.9zM86.8 147.5h0.9v0.9h-0.9z" fill="rgb(150,150,150)"/>
<path d="M74.2 183.9h0.9v0.9h-0.9zM58.9 165.0h0.9v0.9h-0.9zM63.9 150.6h0.9v0.9h-0.9zM59.9 148.6h0.9v0.9h-0.9zM70.8 176.8h0.9v0.9h-0.9zM80.5 170.8h0.9v0.9h-0.9zM79.4 154.5h0.9v0.9h-0.9zM72.2 160.4h0.9v0.9h-0.9zM58.0 153.0h0.9v0.9h-0.9zM76.3 153.5h0.9v0.9h-0.9zM74.6 167.8h0.9v0.9h-0.9z" fill="rgb(180,180,180)"/>
<path d="M87.1 220.4h0.9v0.9h-0.9zM51.3 154.9h0.9v0.9h-0.9zM51.8 164.4h0.9v0.9h-0.9zM41.7 227.5h0.9v0.9h-0.9zM95.1 174.7h0.9v0.9h-0.9zM46.2 226.5h0.9v0.9h-0.9z" fill="rgb(150,150,150)"/>
<path d="M101.8 199.9h0.9v0.9h-0.9zM36.1 186.4h0.9v0.9h-0.9zM50.4 234.7h0.9v0.9h-0.9zM50.7 181.0h0.9v0.9h-0.9zM45.5 203.4h0.9v0.9h-0.9zM68.7 176.9h0.9v0.9h-0.9zM109.5 186.9h0.9v0.9h-0.9zM68.7 186.8h0.9v0.9h-0.9zM79.8 147.5h0.9v0.9h-0.9z" fill="rgb(195,195,195)"/>
<path d="M112.3 205.2h0.9v0.9h-0.9zM23.1 195.2h0.9v0.9h-0.9zM89.7 149.6h0.9v0.9h-0.9zM60.0 199.0h0.9v0.9h-0.9zM96.0 196.1h0.9v0.9h-0.9zM47.4 173.8h0.9v0.9h-0.9zM54.2 192.8h0.9v0.9h-0.9zM108.9 196.0h0.9v0.9h-0.9zM56.2 183.1h0.9v0.9h-0.9z" fill="rgb(165,165,165)"/>
<path d="M41.6 223.0h0.9v0.9h-0.9zM47.3 154.3h0.9v0.9h-0.9zM31.8 161.6h0.9v0.9h-0.9z" fill="rgb(180,180,180)"/>
<path d="M43.6 214.8h0.9v0.9h-0.9zM100.8 163.1h0.9v0.9h-0.9zM87.7 209.3h0.9v0.9h-0.9z" fill="rgb(135,135,135)"/>
<path d="M33.7 228.8h0.9v0.9h-0.9zM43.0 214.4h0.9v0.9h-0.9zM27.4 227.1h0.9v0.9h-0.9zM46.5 202.2h0.9v0.9h-0.9zM38.8 205.8h0.9v0.9h-0.9zM36.9 235.8h0.9v0.9h-0.9zM20.9 198.0h0.9v0.9h-0.9zM35.9 192.5h0.9v0.9h-0.9zM41.6 208.0h0.9v0.9h-0.9zM43.2 218.7h0.9v0.9h-0.9zM39.7 194.2h0.9v0.9h-0.9zM29.9 196.1h0.9v0.9h-0.9zM33.9 224.3h0.9v0.9h-0.9zM24.8 222.1h0.9v0.9h-0.9zM38.0 200.3h0.9v0.9h-0.9zM43.2 216.9h0.9v0.9h-0.9zM23.0 215.3h0.9v0.9h-0.9zM25.2 216.2h0.9v0.9h-0.9zM38.1 227.8h0.9v0.9h-0.9zM23.9 201.4h0.9v0.9h-0.9zM28.6 227.9h0.9v0.9h-0.9zM36.2 198.7h0.9v0.9h-0.9zM40.4 196.3h0.9v0.9h-0.9z" fill="rgb(165,165,165)"/>
<path d="M26.8 197.0h0.9v0.9h-0.9zM30.6 195.1h0.9v0.9h-0.9zM41.1 203.3h0.9v0.9h-0.9zM50.1 196.8h0.9v0.9h-0.9zM35.2 227.3h0.9v0.9h-0.9zM27.8 224.5h0.9v0.9h-0.9zM43.4 199.5h0.9v0.9h-0.9zM23.0 217.6h0.9v0.9h-0.9zM31.0 193.9h0.9v0.9h-0.9zM45.5 221.3h0.9v0.9h-0.9zM37.5 223.2h0.9v0.9h-0.9zM26.0 197.3h0.9v0.9h-0.9zM34.3 177.6h0.9v0.9h-0.9zM33.1 193.5h0.9v0.9h-0.9zM35.3 182.9h0.9v0.9h-0.9zM38.5 224.4h0.9v0.9h-0.9zM20.9 223.8h0.9v0.9h-0.9zM19.7 210.7h0.9v0.9h-0.9zM22.9 218.2h0.9v0.9h-0.9zM26.0 195.2h0.9v0.9h-0.9zM21.3 205.2h0.9v0.9h-0.9zM24.6 214.9h0.9v0.9h-0.9zM35.3 191.1h0.9v0.9h-0.9zM32.9 225.9h0.9v0.9h-0.9zM30.2 226.4h0.9v0.9h-0.9zM27.1 196.1h0.9v0.9h-0.9zM34.0 224.0h0.9v0.9h-0.9zM23.0 221.3h0.9v0.9h-0.9zM20.3 205.1h0.9v0.9h-0.9zM47.3 224.7h0.9v0.9h-0.9zM40.9 215.1h0.9v0.9h-0.9zM42.2 214.2h0.9v0.9h-0.9zM24.7 219.9h0.9v0.9h-0.9z" fill="rgb(195,195,195)"/>
<path d="M33.3 224.0h0.9v0.9h-0.9zM34.8 197.2h0.9v0.9h-0.9zM34.5 186.9h0.9v0.9h-0.9zM37.1 223.5h0.9v0.9h-0.9zM34.6 196.3h0.9v0.9h-0.9zM39.7 199.5h0.9v0.9h-0.9zM37.2 226.7h0.9v0.9h-0.9zM41.6 211.3h0.9v0.9h-0.9zM25.4 197.0h0.9v0.9h-0.9zM38.2 202.3h0.9v0.9h-0.9zM27.8 201.3h0.9v0.9h-0.9zM36.7 221.7h0.9v0.9h-0.9zM41.4 201.7h0.9v0.9h-0.9zM22.2 218.2h0.9v0.9h-0.9zM53.9 209.3h0.9v0.9h-0.9zM22.0 195.3h0.9v0.9h-0.9zM53.5 214.8h0.9v0.9h-0.9zM37.6 201.1h0.9v0.9h-0.9zM36.5 222.5h0.9v0.9h-0.9zM22.4 229.6h0.9v0.9h-0.9zM40.4 194.5h0.9v0.9h-0.9zM37.5 226.0h0.9v0.9h-0.9zM26.9 231.1h0.9v0.9h-0.9zM19.7 211.0h0.9v0.9h-0.9zM21.1 220.3h0.9v0.9h-0.9zM36.1 196.3h0.9v0.9h-0.9zM36.7 228.2h0.9v0.9h-0.9z" fill="rgb(180,180,180)"/>
<path d="M30.0 225.0h0.9v0.9h-0.9zM44.6 199.9h0.9v0.9h-0.9zM22.2 203.4h0.9v0.9h-0.9zM24.1 218.7h0.9v0.9h-0.9zM36.7 219.4h0.9v0.9h-0.9zM25.0 220.6h0.9v0.9h-0.9zM40.8 204.6h0.9v0.9h-0.9zM22.5 199.4h0.9v0.9h-0.9zM29.1 193.4h0.9v0.9h-0.9zM21.4 209.0h0.9v0.9h-0.9zM24.0 221.5h0.9v0.9h-0.9zM24.8 192.9h0.9v0.9h-0.9zM27.6 196.2h0.9v0.9h-0.9zM58.0 225.2h0.9v0.9h-0.9zM38.6 213.7h0.9v0.9h-0.9zM20.2 213.7h0.9v0.9h-0.9zM38.4 221.6h0.9v0.9h-0.9zM38.2 219.9h0.9v0.9h-0.9zM35.1 221.5h0.9v0.9h-0.9zM21.8 214.7h0.9v0.9h-0.9zM29.0 226.3h0.9v0.9h-0.9zM41.6 225.0h0.9v0.9h-0.9zM42.2 215.6h0.9v0.9h-0.9zM24.8 221.6h0.9v0.9h-0.9zM21.9 216.6h0.9v0.9h-0.9zM42.4 224.3h0.9v0.9h-0.9zM47.2 214.6h0.9v0.9h-0.9z" fill="rgb(150,150,150)"/>
<path d="M19.6 220.4h0.9v0.9h-0.9zM33.7 228.0h0.9v0.9h-0.9zM24.4 201.5h0.9v0.9h-0.9zM22.8 204.9h0.9v0.9h-0.9zM26.5 199.4h0.9v0.9h-0.9zM24.2 215.6h0.9v0.9h-0.9zM48.2 222.9h0.9v0.9h-0.9zM24.8 220.6h0.9v0.9h-0.9zM34.1 224.4h0.9v0.9h-0.9zM36.6 223.5h0.9v0.9h-0.9zM18.8 191.7h0.9v0.9h-0.9zM39.0 199.2h0.9v0.9h-0.9z" fill="rgb(135,135,135)"/>
<path d="M40.0 216.0h0.9v0.9h-0.9zM30.8 226.4h0.9v0.9h-0.9zM31.5 181.8h0.9v0.9h-0.9zM32.9 189.5h0.9v0.9h-0.9zM32.0 196.9h0.9v0.9h-0.9z" fill="rgb(210,210,210)"/>
<ellipse cx="31.3" cy="209.6" rx="9.20" ry="14.50" fill="rgb(250,250,250)" stroke="#1a1a1a" stroke-width="0.7"/>
<ellipse cx="31.3" cy="209.6" rx="7.91" ry="12.47" fill="rgb(238,238,238)" stroke="#1a1a1a" stroke-width="0.7"/>
<ellipse cx="31.3" cy="209.6" rx="6.62" ry="10.44" fill="rgb(226,226,226)" stroke="#1a1a1a" stroke-width="0.7"/>
<ellipse cx="31.3" cy="209.6" rx="5.34" ry="8.41" fill="rgb(214,214,214)" stroke="#1a1a1a" stroke-width="0.7"/>
<ellipse cx="31.3" cy="209.6" rx="4.05" ry="6.38" fill="rgb(204,204,204)" stroke="#1a1a1a" stroke-width="0.7"/>
<ellipse cx="31.3" cy="209.6" rx="2.76" ry="4.35" fill="rgb(200,200,200)" stroke="#1a1a1a" stroke-width="0.7"/>
<ellipse cx="31.3" cy="209.6" rx="1.2" ry="1.8" fill="#333"/>
<path d="M80.0,169.5C81.8,169.3 83.2,170.1 84.5,171.0C85.8,171.9 86.8,173.2 87.5,175.0C88.2,176.8 88.6,179.2 88.8,182.0C89.0,184.8 88.8,188.2 88.5,192.0C88.2,195.8 87.6,201.0 87.0,205.0C86.4,209.0 85.8,212.7 85.0,216.0C84.2,219.3 83.7,222.8 82.5,225.0C81.3,227.2 80.1,228.6 78.0,229.5C75.9,230.4 73.0,230.6 70.0,230.5C67.0,230.4 62.8,229.8 60.0,229.0C57.2,228.2 54.8,227.3 53.5,226.0C52.2,224.7 52.2,223.3 52.5,221.0C52.8,218.7 53.9,215.3 55.0,212.0C56.1,208.7 57.7,204.7 59.0,201.0C60.3,197.3 61.5,193.5 63.0,190.0C64.5,186.5 66.2,183.0 68.0,180.0C69.8,177.0 72.0,173.8 74.0,172.0C76.0,170.2 78.2,169.7 80.0,169.5Z" fill="rgb(250,250,250)" stroke="#2a2a2a" stroke-width="0.65"/>
<path d="M79.8,172.0C81.4,171.9 82.8,172.6 83.9,173.4C85.1,174.2 86.0,175.4 86.7,177.1C87.3,178.8 87.7,180.9 87.9,183.5C88.0,186.1 87.9,189.2 87.6,192.7C87.3,196.2 86.7,201.0 86.2,204.7C85.7,208.4 85.0,211.7 84.4,214.8C83.7,217.9 83.1,221.0 82.1,223.1C81.0,225.2 79.8,226.4 77.9,227.2C76.0,228.1 73.3,228.2 70.6,228.1C67.8,228.1 63.9,227.4 61.4,226.8C58.8,226.1 56.5,225.2 55.4,224.0C54.2,222.8 54.2,221.5 54.5,219.4C54.7,217.3 55.8,214.2 56.8,211.1C57.8,208.1 59.2,204.4 60.4,201.0C61.7,197.6 62.7,194.1 64.1,190.9C65.5,187.7 67.0,184.4 68.7,181.7C70.4,178.9 72.4,175.9 74.2,174.3C76.1,172.7 78.2,172.2 79.8,172.0Z" fill="rgb(244,244,244)" stroke="#2a2a2a" stroke-width="0.65"/>
<path d="M79.5,174.5C81.0,174.4 82.2,175.0 83.3,175.8C84.3,176.6 85.2,177.6 85.8,179.2C86.4,180.7 86.8,182.7 86.9,185.0C87.1,187.4 86.9,190.2 86.7,193.4C86.4,196.7 85.9,201.0 85.4,204.4C84.9,207.7 84.3,210.8 83.7,213.6C83.1,216.4 82.6,219.3 81.6,221.2C80.6,223.1 79.6,224.2 77.8,224.9C76.1,225.7 73.6,225.8 71.1,225.8C68.6,225.7 65.0,225.2 62.7,224.5C60.4,223.9 58.3,223.1 57.3,222.0C56.2,220.9 56.2,219.8 56.4,217.8C56.6,215.8 57.6,213.0 58.5,210.2C59.4,207.4 60.8,204.1 61.9,201.0C63.0,197.9 64.0,194.7 65.2,191.8C66.5,188.8 67.9,185.9 69.4,183.4C71.0,180.8 72.8,178.1 74.5,176.6C76.2,175.2 78.0,174.7 79.5,174.5Z" fill="rgb(232,232,232)" stroke="#2a2a2a" stroke-width="0.65"/>
<path d="M79.3,177.1C80.6,176.9 81.8,177.5 82.7,178.2C83.7,178.9 84.4,179.8 85.0,181.2C85.5,182.6 85.8,184.4 86.0,186.6C86.1,188.7 86.0,191.2 85.7,194.2C85.5,197.1 85.0,201.0 84.6,204.0C84.2,207.1 83.6,209.9 83.1,212.4C82.5,214.9 82.1,217.5 81.2,219.2C80.3,221.0 79.3,222.0 77.8,222.7C76.2,223.4 74.0,223.5 71.7,223.4C69.4,223.4 66.2,222.8 64.1,222.3C62.0,221.7 60.1,221.0 59.1,220.0C58.2,219.0 58.2,218.0 58.4,216.2C58.6,214.4 59.5,211.9 60.3,209.4C61.1,206.8 62.3,203.8 63.3,201.0C64.3,198.2 65.2,195.3 66.4,192.6C67.5,190.0 68.8,187.3 70.2,185.0C71.6,182.8 73.2,180.3 74.7,179.0C76.2,177.6 78.0,177.2 79.3,177.1Z" fill="rgb(200,200,200)" stroke="#2a2a2a" stroke-width="0.65"/>
<path d="M79.0,179.6C80.2,179.5 81.2,180.0 82.1,180.6C82.9,181.2 83.7,182.1 84.1,183.3C84.6,184.6 84.9,186.2 85.0,188.1C85.1,190.0 85.0,192.3 84.8,194.9C84.6,197.5 84.2,201.0 83.8,203.7C83.4,206.4 83.0,208.9 82.4,211.2C81.9,213.5 81.5,215.8 80.7,217.3C79.9,218.8 79.1,219.8 77.7,220.4C76.3,221.0 74.3,221.1 72.2,221.1C70.2,221.0 67.3,220.5 65.4,220.0C63.6,219.5 61.9,218.9 61.0,218.0C60.2,217.1 60.2,216.2 60.3,214.6C60.5,213.0 61.3,210.7 62.0,208.5C62.8,206.2 63.9,203.5 64.8,201.0C65.7,198.5 66.5,195.9 67.5,193.5C68.5,191.1 69.6,188.8 70.9,186.7C72.1,184.7 73.6,182.5 75.0,181.3C76.3,180.1 77.9,179.7 79.0,179.6Z" fill="rgb(165,165,165)" stroke="#2a2a2a" stroke-width="0.65"/>
<path d="M78.8,182.1C79.8,182.0 80.8,182.4 81.5,183.0C82.2,183.6 82.9,184.3 83.3,185.4C83.7,186.5 84.0,187.9 84.1,189.6C84.2,191.3 84.1,193.3 83.9,195.6C83.7,197.9 83.3,201.0 83.0,203.4C82.7,205.8 82.2,208.0 81.8,210.0C81.3,212.0 81.0,214.1 80.3,215.4C79.6,216.8 78.8,217.6 77.6,218.1C76.3,218.6 74.6,218.8 72.8,218.7C71.0,218.6 68.5,218.2 66.8,217.8C65.1,217.4 63.6,216.8 62.9,216.0C62.1,215.2 62.1,214.4 62.3,213.0C62.4,211.6 63.1,209.6 63.8,207.6C64.5,205.6 65.4,203.2 66.2,201.0C67.0,198.8 67.7,196.5 68.6,194.4C69.5,192.3 70.5,190.2 71.6,188.4C72.7,186.6 74.0,184.7 75.2,183.6C76.4,182.5 77.8,182.2 78.8,182.1Z" fill="rgb(135,135,135)" stroke="#2a2a2a" stroke-width="0.65"/>
<path d="M79.0,176.0C80.8,176.0 82.2,178.8 83.0,182.0C83.8,185.2 83.8,191.2 83.5,195.0C83.2,198.8 81.6,202.2 81.0,205.0C80.4,207.8 80.1,209.2 80.0,212.0C79.9,214.8 80.8,219.2 80.5,222.0C80.2,224.8 79.8,227.7 78.0,229.0C76.2,230.3 71.9,230.8 70.0,230.0C68.1,229.2 66.9,226.7 66.5,224.0C66.1,221.3 66.8,217.2 67.5,214.0C68.2,210.8 70.4,208.2 71.0,205.0C71.6,201.8 70.8,198.8 71.0,195.0C71.2,191.2 70.7,185.2 72.0,182.0C73.3,178.8 77.2,176.0 79.0,176.0Z" fill="rgb(105,105,105)" stroke="#2a2a2a" stroke-width="0.5"/>
<path d="M78.5,180.3C80.0,180.3 81.2,182.8 81.9,185.4C82.5,188.1 82.6,193.2 82.3,196.5C82.0,199.8 80.7,202.6 80.2,205.0C79.7,207.4 79.4,208.5 79.3,210.9C79.3,213.4 80.0,217.0 79.8,219.4C79.5,221.9 79.1,224.3 77.6,225.4C76.1,226.5 72.5,227.0 70.8,226.2C69.2,225.5 68.2,223.4 67.8,221.2C67.5,218.9 68.1,215.3 68.7,212.7C69.3,210.0 71.2,207.7 71.7,205.0C72.2,202.3 71.5,199.8 71.7,196.5C71.8,193.2 71.4,188.1 72.5,185.4C73.7,182.8 76.9,180.3 78.5,180.3Z" fill="rgb(88,88,88)" stroke="#2a2a2a" stroke-width="0.5"/>
<ellipse cx="77.2" cy="191.0" rx="5.50" ry="13.00" transform="rotate(8 77.2 191.0)" fill="rgb(72,72,72)" stroke="#2a2a2a" stroke-width="0.5"/>
<ellipse cx="77.2" cy="191.0" rx="3.85" ry="9.10" transform="rotate(8 77.2 191.0)" fill="rgb(52,52,52)" stroke="#2a2a2a" stroke-width="0.5"/>
<ellipse cx="77.2" cy="191.0" rx="2.20" ry="5.20" transform="rotate(8 77.2 191.0)" fill="rgb(70,70,70)" stroke="#2a2a2a" stroke-width="0.5"/>
<ellipse cx="73.6" cy="221.0" rx="6.00" ry="8.50" fill="rgb(72,72,72)" stroke="#2a2a2a" stroke-width="0.5"/>
<ellipse cx="73.6" cy="221.0" rx="4.20" ry="5.95" fill="rgb(52,52,52)" stroke="#2a2a2a" stroke-width="0.5"/>
<ellipse cx="73.6" cy="221.0" rx="2.40" ry="3.40" fill="rgb(70,70,70)" stroke="#2a2a2a" stroke-width="0.5"/>
<ellipse cx="77.2" cy="189" rx="0.9" ry="3.5" fill="#aaa" transform="rotate(8 77.2 189)"/>
<ellipse cx="73.6" cy="220" rx="1" ry="1.6" fill="#aaa"/>
<path d="M80,142.6 C84,146 92,146.5 98,145 C104,143.8 108,146 113,146" fill="none" stroke="#333" stroke-width="0.7"/>
<path d="M17.5 211.3H114.5" stroke="#a0a0cc" stroke-width="1.3"/>
<path d="M50.2 142.5V239.5" stroke="#7070d0" stroke-width="1"/>
<rect x="17.5" y="142.5" width="97.0" height="97.0" fill="none" stroke="#4a4a4a" stroke-width="1.2"/>
<text transform="translate(18.94,151.80) scale(1.019,1)" font-size="8.90">5%</text>
<text transform="translate(95.06,153.80) scale(0.969,1)" font-size="8.90">58%</text>
<text transform="translate(18.88,237.80) scale(0.944,1)" font-size="8.90">6%</text>
<text transform="translate(95.47,237.80) scale(0.979,1)" font-size="8.90">31%</text>
<path d="M21.5 240.1v1.8M23.5 240.1v1.8M25.5 240.1v1.8M27.5 240.1v1.8M29.5 240.1v1.8M31.5 240.1v1.8M33.5 240.1v1.8M35.5 240.1v1.8M37.5 240.1v1.8M41.5 240.1v1.8M47.5 240.1v1.8M51.5 240.1v1.8M57.5 240.1v1.8M67.5 240.1v1.8M77.5 240.1v1.8M87.5 240.1v1.8M97.5 240.1v1.8M107.5 240.1v1.8" stroke="#888" stroke-width="0.7"/>
<rect x="29.0" y="240.3" width="2.4" height="2" fill="#222"/>
<rect x="15.6" y="224.0" width="1.5" height="2" fill="#222"/>
<path d="M15.3 154.5h2.2M15.3 161.5h2.2M15.3 165.5h2.2M15.3 168.5h2.2M15.3 170.5h2.2M15.3 172.5h2.2M15.3 174.0h2.2M15.3 175.5h2.2M15.3 177.0h2.2M15.3 178.5h2.2M15.3 182.5h2.2M15.3 189.5h2.2M15.3 193.5h2.2M15.3 196.5h2.2M15.3 198.5h2.2M15.3 200.5h2.2M15.3 202.0h2.2M15.3 203.5h2.2M15.3 205.0h2.2M15.3 206.5h2.2M15.3 210.5h2.2M15.3 217.5h2.2M15.3 221.5h2.2M15.3 224.5h2.2M15.3 226.5h2.2M15.3 228.5h2.2M15.3 230.0h2.2M15.3 231.5h2.2M15.3 233.0h2.2M15.3 234.5h2.2" stroke="#777" stroke-width="0.7"/>
<path d="M175.7 196.3h0.9v0.9h-0.9zM154.0 233.2h0.9v0.9h-0.9zM133.9 231.8h0.9v0.9h-0.9zM149.0 230.5h0.9v0.9h-0.9zM148.8 233.1h0.9v0.9h-0.9zM133.4 210.0h0.9v0.9h-0.9zM188.3 225.3h0.9v0.9h-0.9zM148.7 232.4h0.9v0.9h-0.9zM188.5 194.8h0.9v0.9h-0.9zM162.4 234.2h0.9v0.9h-0.9zM132.3 237.4h0.9v0.9h-0.9zM195.3 210.8h0.9v0.9h-0.9zM154.1 201.2h0.9v0.9h-0.9zM167.3 196.8h0.9v0.9h-0.9zM149.2 180.2h0.9v0.9h-0.9zM185.4 232.2h0.9v0.9h-0.9zM174.9 182.4h0.9v0.9h-0.9zM163.3 234.4h0.9v0.9h-0.9zM129.4 209.4h0.9v0.9h-0.9zM124.5 223.7h0.9v0.9h-0.9zM182.4 228.4h0.9v0.9h-0.9zM128.0 209.2h0.9v0.9h-0.9zM127.4 206.3h0.9v0.9h-0.9zM170.5 232.9h0.9v0.9h-0.9zM180.4 234.1h0.9v0.9h-0.9zM165.9 191.6h0.9v0.9h-0.9zM145.4 207.3h0.9v0.9h-0.9zM171.5 173.5h0.9v0.9h-0.9zM181.0 194.7h0.9v0.9h-0.9zM128.1 210.6h0.9v0.9h-0.9zM174.4 231.4h0.9v0.9h-0.9zM142.6 229.8h0.9v0.9h-0.9zM156.3 200.0h0.9v0.9h-0.9zM147.7 236.9h0.9v0.9h-0.9zM148.8 206.9h0.9v0.9h-0.9zM187.4 227.8h0.9v0.9h-0.9zM158.0 232.5h0.9v0.9h-0.9zM192.9 231.6h0.9v0.9h-0.9zM135.4 229.2h0.9v0.9h-0.9zM125.5 216.7h0.9v0.9h-0.9zM184.8 197.9h0.9v0.9h-0.9zM192.6 186.4h0.9v0.9h-0.9zM129.9 227.4h0.9v0.9h-0.9zM125.6 221.4h0.9v0.9h-0.9zM122.2 209.6h0.9v0.9h-0.9zM136.1 230.7h0.9v0.9h-0.9zM182.8 193.4h0.9v0.9h-0.9zM190.1 197.1h0.9v0.9h-0.9zM143.6 204.6h0.9v0.9h-0.9zM188.6 209.6h0.9v0.9h-0.9zM178.3 187.4h0.9v0.9h-0.9zM180.7 233.2h0.9v0.9h-0.9zM143.8 208.1h0.9v0.9h-0.9zM191.8 217.1h0.9v0.9h-0.9zM182.2 228.6h0.9v0.9h-0.9zM191.6 185.0h0.9v0.9h-0.9zM135.2 233.9h0.9v0.9h-0.9zM125.7 212.0h0.9v0.9h-0.9zM160.4 202.2h0.9v0.9h-0.9zM133.8 209.5h0.9v0.9h-0.9zM191.0 190.7h0.9v0.9h-0.9zM175.1 231.2h0.9v0.9h-0.9zM143.4 235.9h0.9v0.9h-0.9zM152.0 233.5h0.9v0.9h-0.9zM188.5 201.6h0.9v0.9h-0.9zM191.7 195.0h0.9v0.9h-0.9zM144.0 232.4h0.9v0.9h-0.9zM181.3 184.4h0.9v0.9h-0.9zM206.0 187.5h0.9v0.9h-0.9zM183.3 234.2h0.9v0.9h-0.9zM175.2 187.7h0.9v0.9h-0.9zM141.1 230.3h0.9v0.9h-0.9zM186.4 192.4h0.9v0.9h-0.9zM158.0 231.0h0.9v0.9h-0.9zM182.9 236.4h0.9v0.9h-0.9zM149.7 202.1h0.9v0.9h-0.9zM191.7 189.7h0.9v0.9h-0.9zM133.8 203.8h0.9v0.9h-0.9z" fill="rgb(165,165,165)"/>
<path d="M135.1 209.5h0.9v0.9h-0.9zM170.1 184.5h0.9v0.9h-0.9zM125.2 214.7h0.9v0.9h-0.9zM143.1 232.5h0.9v0.9h-0.9zM129.0 213.1h0.9v0.9h-0.9zM151.8 207.3h0.9v0.9h-0.9zM182.5 195.4h0.9v0.9h-0.9zM140.7 230.0h0.9v0.9h-0.9zM148.7 229.0h0.9v0.9h-0.9zM152.7 233.6h0.9v0.9h-0.9zM188.3 212.8h0.9v0.9h-0.9zM143.9 198.4h0.9v0.9h-0.9zM186.8 218.0h0.9v0.9h-0.9zM165.9 198.9h0.9v0.9h-0.9zM154.5 196.0h0.9v0.9h-0.9zM202.5 218.0h0.9v0.9h-0.9zM129.8 213.8h0.9v0.9h-0.9zM167.7 198.1h0.9v0.9h-0.9zM169.2 197.9h0.9v0.9h-0.9zM185.7 228.5h0.9v0.9h-0.9zM175.3 195.8h0.9v0.9h-0.9zM127.1 224.9h0.9v0.9h-0.9zM149.9 204.6h0.9v0.9h-0.9zM143.1 236.1h0.9v0.9h-0.9zM164.0 232.2h0.9v0.9h-0.9zM148.4 204.4h0.9v0.9h-0.9zM160.0 201.5h0.9v0.9h-0.9zM137.1 230.2h0.9v0.9h-0.9zM152.8 203.6h0.9v0.9h-0.9zM160.8 202.1h0.9v0.9h-0.9zM138.4 212.3h0.9v0.9h-0.9zM129.2 210.5h0.9v0.9h-0.9zM197.8 222.9h0.9v0.9h-0.9zM124.5 224.4h0.9v0.9h-0.9zM174.1 233.4h0.9v0.9h-0.9zM128.3 221.0h0.9v0.9h-0.9zM188.6 222.0h0.9v0.9h-0.9zM138.6 211.0h0.9v0.9h-0.9zM141.5 229.4h0.9v0.9h-0.9zM167.6 232.7h0.9v0.9h-0.9zM159.6 233.5h0.9v0.9h-0.9zM140.6 210.6h0.9v0.9h-0.9zM182.3 231.3h0.9v0.9h-0.9zM135.5 232.2h0.9v0.9h-0.9zM123.0 194.9h0.9v0.9h-0.9zM145.7 193.1h0.9v0.9h-0.9zM185.0 197.4h0.9v0.9h-0.9zM188.7 224.9h0.9v0.9h-0.9zM125.8 218.0h0.9v0.9h-0.9zM129.9 231.1h0.9v0.9h-0.9zM188.4 206.1h0.9v0.9h-0.9zM185.0 214.0h0.9v0.9h-0.9zM138.7 229.4h0.9v0.9h-0.9zM145.2 202.4h0.9v0.9h-0.9zM186.3 232.0h0.9v0.9h-0.9zM121.7 212.3h0.9v0.9h-0.9zM151.2 208.9h0.9v0.9h-0.9zM134.0 229.3h0.9v0.9h-0.9zM125.7 216.2h0.9v0.9h-0.9zM178.2 190.1h0.9v0.9h-0.9zM131.1 210.5h0.9v0.9h-0.9zM168.6 182.4h0.9v0.9h-0.9zM186.1 207.6h0.9v0.9h-0.9zM130.1 209.9h0.9v0.9h-0.9zM149.9 204.5h0.9v0.9h-0.9zM135.1 208.0h0.9v0.9h-0.9zM128.2 215.7h0.9v0.9h-0.9zM169.2 196.0h0.9v0.9h-0.9zM127.4 230.0h0.9v0.9h-0.9zM174.4 164.2h0.9v0.9h-0.9z" fill="rgb(195,195,195)"/>
<path d="M171.1 193.3h0.9v0.9h-0.9zM205.4 176.4h0.9v0.9h-0.9zM183.5 193.0h0.9v0.9h-0.9zM169.8 197.2h0.9v0.9h-0.9zM156.3 204.1h0.9v0.9h-0.9zM195.1 201.1h0.9v0.9h-0.9zM190.5 200.7h0.9v0.9h-0.9zM176.7 229.1h0.9v0.9h-0.9zM202.0 215.3h0.9v0.9h-0.9zM137.2 213.0h0.9v0.9h-0.9zM131.7 228.7h0.9v0.9h-0.9zM184.6 192.2h0.9v0.9h-0.9zM128.9 211.6h0.9v0.9h-0.9zM128.2 210.3h0.9v0.9h-0.9zM126.0 210.2h0.9v0.9h-0.9zM188.5 227.4h0.9v0.9h-0.9zM127.4 213.2h0.9v0.9h-0.9zM186.1 190.9h0.9v0.9h-0.9zM183.0 236.5h0.9v0.9h-0.9zM127.7 220.2h0.9v0.9h-0.9zM136.8 233.1h0.9v0.9h-0.9zM148.5 208.5h0.9v0.9h-0.9zM133.0 237.3h0.9v0.9h-0.9zM200.3 200.2h0.9v0.9h-0.9zM144.3 208.3h0.9v0.9h-0.9zM152.8 236.2h0.9v0.9h-0.9zM184.0 189.5h0.9v0.9h-0.9zM157.9 198.4h0.9v0.9h-0.9zM121.6 211.8h0.9v0.9h-0.9zM190.5 204.7h0.9v0.9h-0.9zM185.6 192.9h0.9v0.9h-0.9zM151.8 231.5h0.9v0.9h-0.9zM191.0 213.8h0.9v0.9h-0.9zM185.5 219.5h0.9v0.9h-0.9zM147.3 207.9h0.9v0.9h-0.9zM140.3 211.0h0.9v0.9h-0.9zM135.2 228.9h0.9v0.9h-0.9zM131.6 234.4h0.9v0.9h-0.9zM165.8 193.9h0.9v0.9h-0.9zM142.9 233.2h0.9v0.9h-0.9zM144.1 229.9h0.9v0.9h-0.9zM167.9 235.9h0.9v0.9h-0.9zM130.4 210.1h0.9v0.9h-0.9zM182.6 193.9h0.9v0.9h-0.9zM148.0 232.5h0.9v0.9h-0.9zM166.0 195.0h0.9v0.9h-0.9zM194.3 218.3h0.9v0.9h-0.9zM181.9 232.3h0.9v0.9h-0.9zM137.4 208.3h0.9v0.9h-0.9zM188.5 194.9h0.9v0.9h-0.9zM175.6 195.7h0.9v0.9h-0.9zM199.1 195.1h0.9v0.9h-0.9zM132.8 230.1h0.9v0.9h-0.9zM186.2 189.5h0.9v0.9h-0.9zM139.3 199.0h0.9v0.9h-0.9zM189.7 190.2h0.9v0.9h-0.9zM182.7 227.3h0.9v0.9h-0.9zM139.7 201.6h0.9v0.9h-0.9zM173.2 193.6h0.9v0.9h-0.9zM194.6 214.9h0.9v0.9h-0.9zM194.9 231.0h0.9v0.9h-0.9zM152.3 183.5h0.9v0.9h-0.9zM169.2 184.3h0.9v0.9h-0.9zM152.0 200.9h0.9v0.9h-0.9zM141.8 237.1h0.9v0.9h-0.9zM135.5 210.6h0.9v0.9h-0.9zM182.3 192.6h0.9v0.9h-0.9zM130.1 230.0h0.9v0.9h-0.9zM201.5 208.0h0.9v0.9h-0.9zM147.0 197.4h0.9v0.9h-0.9zM132.3 231.3h0.9v0.9h-0.9zM130.3 227.4h0.9v0.9h-0.9zM193.6 189.0h0.9v0.9h-0.9zM166.5 198.9h0.9v0.9h-0.9zM163.0 230.1h0.9v0.9h-0.9zM129.4 229.4h0.9v0.9h-0.9zM134.1 230.9h0.9v0.9h-0.9zM131.2 213.0h0.9v0.9h-0.9zM138.5 209.7h0.9v0.9h-0.9zM131.8 206.6h0.9v0.9h-0.9zM158.9 204.8h0.9v0.9h-0.9zM190.0 192.8h0.9v0.9h-0.9zM183.6 189.9h0.9v0.9h-0.9zM151.0 201.6h0.9v0.9h-0.9zM151.1 204.0h0.9v0.9h-0.9zM192.8 211.4h0.9v0.9h-0.9zM150.1 228.1h0.9v0.9h-0.9zM183.7 196.3h0.9v0.9h-0.9zM166.9 188.8h0.9v0.9h-0.9zM153.6 195.8h0.9v0.9h-0.9zM188.3 216.1h0.9v0.9h-0.9zM170.9 235.9h0.9v0.9h-0.9zM121.7 220.3h0.9v0.9h-0.9zM138.1 229.8h0.9v0.9h-0.9zM153.2 206.0h0.9v0.9h-0.9zM139.5 234.0h0.9v0.9h-0.9zM180.0 192.1h0.9v0.9h-0.9zM123.0 226.1h0.9v0.9h-0.9z" fill="rgb(180,180,180)"/>
<path d="M160.0 190.0h0.9v0.9h-0.9zM188.8 202.1h0.9v0.9h-0.9zM132.2 236.9h0.9v0.9h-0.9zM129.4 212.6h0.9v0.9h-0.9zM150.8 227.2h0.9v0.9h-0.9zM185.1 216.3h0.9v0.9h-0.9zM145.1 193.2h0.9v0.9h-0.9zM155.0 199.9h0.9v0.9h-0.9zM137.2 207.8h0.9v0.9h-0.9zM148.6 233.2h0.9v0.9h-0.9zM131.9 211.9h0.9v0.9h-0.9zM142.0 199.7h0.9v0.9h-0.9zM130.3 209.6h0.9v0.9h-0.9zM128.6 219.5h0.9v0.9h-0.9zM152.1 202.6h0.9v0.9h-0.9zM170.0 195.3h0.9v0.9h-0.9zM184.6 199.3h0.9v0.9h-0.9zM158.1 236.5h0.9v0.9h-0.9zM169.1 234.8h0.9v0.9h-0.9zM190.4 217.4h0.9v0.9h-0.9zM187.1 199.8h0.9v0.9h-0.9zM180.3 194.5h0.9v0.9h-0.9zM197.3 229.2h0.9v0.9h-0.9zM151.4 203.1h0.9v0.9h-0.9zM145.0 208.7h0.9v0.9h-0.9zM167.1 187.7h0.9v0.9h-0.9zM122.5 209.7h0.9v0.9h-0.9zM184.9 227.9h0.9v0.9h-0.9zM187.8 197.7h0.9v0.9h-0.9zM162.5 191.5h0.9v0.9h-0.9zM151.3 231.0h0.9v0.9h-0.9zM150.9 206.5h0.9v0.9h-0.9zM136.8 209.6h0.9v0.9h-0.9zM184.2 187.3h0.9v0.9h-0.9zM191.1 198.8h0.9v0.9h-0.9zM129.4 197.5h0.9v0.9h-0.9zM186.8 213.2h0.9v0.9h-0.9zM187.5 226.8h0.9v0.9h-0.9zM147.7 204.6h0.9v0.9h-0.9zM140.5 228.8h0.9v0.9h-0.9zM186.3 198.4h0.9v0.9h-0.9zM121.6 232.7h0.9v0.9h-0.9zM139.4 210.8h0.9v0.9h-0.9zM124.0 210.0h0.9v0.9h-0.9zM166.8 199.2h0.9v0.9h-0.9zM188.8 198.8h0.9v0.9h-0.9zM187.9 180.1h0.9v0.9h-0.9zM143.6 233.5h0.9v0.9h-0.9zM167.3 197.8h0.9v0.9h-0.9zM190.6 200.4h0.9v0.9h-0.9zM148.0 199.0h0.9v0.9h-0.9zM182.5 196.6h0.9v0.9h-0.9zM181.1 192.7h0.9v0.9h-0.9zM152.9 231.0h0.9v0.9h-0.9zM185.4 227.9h0.9v0.9h-0.9zM168.7 198.2h0.9v0.9h-0.9zM153.7 198.3h0.9v0.9h-0.9zM183.2 185.0h0.9v0.9h-0.9zM153.1 206.7h0.9v0.9h-0.9zM190.8 200.5h0.9v0.9h-0.9zM188.1 210.9h0.9v0.9h-0.9zM151.6 204.2h0.9v0.9h-0.9zM133.3 207.3h0.9v0.9h-0.9zM183.8 229.3h0.9v0.9h-0.9zM164.9 197.0h0.9v0.9h-0.9zM131.6 221.8h0.9v0.9h-0.9zM143.9 210.4h0.9v0.9h-0.9zM151.8 205.2h0.9v0.9h-0.9zM167.5 195.5h0.9v0.9h-0.9zM127.3 217.2h0.9v0.9h-0.9zM122.0 227.5h0.9v0.9h-0.9zM137.8 208.3h0.9v0.9h-0.9zM192.2 224.4h0.9v0.9h-0.9zM184.1 190.4h0.9v0.9h-0.9z" fill="rgb(150,150,150)"/>
<path d="M196.7 228.5h0.9v0.9h-0.9zM131.9 209.4h0.9v0.9h-0.9zM152.5 203.2h0.9v0.9h-0.9zM125.9 210.8h0.9v0.9h-0.9zM129.6 213.7h0.9v0.9h-0.9zM154.4 201.4h0.9v0.9h-0.9zM125.8 222.1h0.9v0.9h-0.9zM137.1 197.9h0.9v0.9h-0.9zM152.0 200.4h0.9v0.9h-0.9zM139.2 233.1h0.9v0.9h-0.9zM155.8 194.1h0.9v0.9h-0.9zM165.9 191.2h0.9v0.9h-0.9zM135.2 232.2h0.9v0.9h-0.9zM195.9 187.0h0.9v0.9h-0.9zM155.7 204.7h0.9v0.9h-0.9zM171.7 235.3h0.9v0.9h-0.9zM133.5 212.8h0.9v0.9h-0.9zM185.4 220.6h0.9v0.9h-0.9zM194.6 223.3h0.9v0.9h-0.9zM144.6 233.7h0.9v0.9h-0.9zM164.8 233.9h0.9v0.9h-0.9zM192.6 236.0h0.9v0.9h-0.9zM130.7 228.9h0.9v0.9h-0.9zM144.3 205.0h0.9v0.9h-0.9zM138.6 211.8h0.9v0.9h-0.9zM131.3 231.3h0.9v0.9h-0.9zM181.4 229.0h0.9v0.9h-0.9zM135.5 206.7h0.9v0.9h-0.9zM188.1 223.9h0.9v0.9h-0.9zM190.8 226.9h0.9v0.9h-0.9zM186.4 202.3h0.9v0.9h-0.9zM127.3 207.0h0.9v0.9h-0.9zM190.6 207.9h0.9v0.9h-0.9zM165.6 236.2h0.9v0.9h-0.9zM123.3 231.9h0.9v0.9h-0.9zM128.1 218.0h0.9v0.9h-0.9zM176.6 234.4h0.9v0.9h-0.9zM184.9 197.8h0.9v0.9h-0.9zM190.6 233.6h0.9v0.9h-0.9zM180.7 229.6h0.9v0.9h-0.9zM168.5 195.6h0.9v0.9h-0.9zM151.3 204.7h0.9v0.9h-0.9zM162.7 199.0h0.9v0.9h-0.9zM127.5 217.1h0.9v0.9h-0.9zM187.7 231.9h0.9v0.9h-0.9zM131.2 212.7h0.9v0.9h-0.9zM139.6 210.5h0.9v0.9h-0.9zM127.4 208.1h0.9v0.9h-0.9zM200.1 180.0h0.9v0.9h-0.9zM128.1 221.0h0.9v0.9h-0.9zM144.5 206.8h0.9v0.9h-0.9zM166.4 235.4h0.9v0.9h-0.9zM186.9 237.0h0.9v0.9h-0.9zM188.2 231.0h0.9v0.9h-0.9zM180.5 192.2h0.9v0.9h-0.9z" fill="rgb(135,135,135)"/>
<path d="M158.3 200.9h0.9v0.9h-0.9zM159.8 194.6h0.9v0.9h-0.9zM159.3 200.8h0.9v0.9h-0.9zM146.6 196.0h0.9v0.9h-0.9zM147.3 192.3h0.9v0.9h-0.9zM177.8 191.9h0.9v0.9h-0.9zM185.9 193.3h0.9v0.9h-0.9zM195.1 211.1h0.9v0.9h-0.9zM171.0 185.6h0.9v0.9h-0.9zM193.5 181.3h0.9v0.9h-0.9zM132.3 212.0h0.9v0.9h-0.9zM162.6 193.6h0.9v0.9h-0.9zM131.6 223.7h0.9v0.9h-0.9zM164.4 181.6h0.9v0.9h-0.9zM178.7 187.4h0.9v0.9h-0.9zM124.6 212.6h0.9v0.9h-0.9zM169.2 188.6h0.9v0.9h-0.9zM158.4 234.3h0.9v0.9h-0.9zM123.2 208.6h0.9v0.9h-0.9zM186.8 212.4h0.9v0.9h-0.9zM159.5 192.3h0.9v0.9h-0.9zM156.4 230.9h0.9v0.9h-0.9zM156.1 202.9h0.9v0.9h-0.9z" fill="rgb(210,210,210)"/>
<path d="M153.5 208.6h0.9v0.9h-0.9zM156.1 187.5h0.9v0.9h-0.9zM136.7 203.3h0.9v0.9h-0.9zM143.1 178.1h0.9v0.9h-0.9zM163.3 216.5h0.9v0.9h-0.9zM140.8 194.6h0.9v0.9h-0.9zM136.1 208.1h0.9v0.9h-0.9zM145.8 185.0h0.9v0.9h-0.9zM140.0 211.1h0.9v0.9h-0.9zM150.7 196.0h0.9v0.9h-0.9zM132.0 204.9h0.9v0.9h-0.9zM142.8 205.7h0.9v0.9h-0.9z" fill="rgb(135,135,135)"/>
<path d="M144.5 202.8h0.9v0.9h-0.9zM146.2 200.7h0.9v0.9h-0.9zM143.3 205.9h0.9v0.9h-0.9zM137.2 207.3h0.9v0.9h-0.9zM123.4 190.2h0.9v0.9h-0.9zM128.2 190.9h0.9v0.9h-0.9zM134.4 187.9h0.9v0.9h-0.9zM153.8 203.6h0.9v0.9h-0.9zM143.0 193.8h0.9v0.9h-0.9zM124.4 202.1h0.9v0.9h-0.9zM152.3 198.0h0.9v0.9h-0.9zM134.7 208.1h0.9v0.9h-0.9zM142.3 210.8h0.9v0.9h-0.9zM143.4 219.5h0.9v0.9h-0.9zM154.9 186.4h0.9v0.9h-0.9zM152.3 204.3h0.9v0.9h-0.9zM143.2 202.1h0.9v0.9h-0.9z" fill="rgb(195,195,195)"/>
<path d="M144.7 203.3h0.9v0.9h-0.9zM127.5 199.7h0.9v0.9h-0.9zM124.8 216.1h0.9v0.9h-0.9zM139.2 211.2h0.9v0.9h-0.9zM147.2 206.2h0.9v0.9h-0.9zM164.1 202.6h0.9v0.9h-0.9zM142.5 203.7h0.9v0.9h-0.9zM146.4 198.0h0.9v0.9h-0.9zM142.4 186.4h0.9v0.9h-0.9zM141.8 204.5h0.9v0.9h-0.9zM130.5 201.9h0.9v0.9h-0.9zM147.8 189.1h0.9v0.9h-0.9zM151.4 195.3h0.9v0.9h-0.9zM139.4 195.7h0.9v0.9h-0.9zM145.2 189.8h0.9v0.9h-0.9zM134.9 196.9h0.9v0.9h-0.9zM127.5 204.0h0.9v0.9h-0.9zM154.2 214.1h0.9v0.9h-0.9zM167.0 202.9h0.9v0.9h-0.9zM125.4 200.1h0.9v0.9h-0.9zM125.3 206.5h0.9v0.9h-0.9zM131.0 210.5h0.9v0.9h-0.9zM148.1 211.1h0.9v0.9h-0.9zM142.4 196.6h0.9v0.9h-0.9zM158.0 194.7h0.9v0.9h-0.9zM132.0 210.9h0.9v0.9h-0.9zM136.7 202.2h0.9v0.9h-0.9z" fill="rgb(180,180,180)"/>
<path d="M152.1 199.7h0.9v0.9h-0.9zM151.4 192.3h0.9v0.9h-0.9zM143.7 191.0h0.9v0.9h-0.9zM132.5 205.8h0.9v0.9h-0.9zM141.4 192.8h0.9v0.9h-0.9zM138.9 192.6h0.9v0.9h-0.9zM135.5 197.2h0.9v0.9h-0.9zM151.1 208.0h0.9v0.9h-0.9zM143.0 205.1h0.9v0.9h-0.9zM135.0 207.6h0.9v0.9h-0.9z" fill="rgb(165,165,165)"/>
<path d="M136.1 203.5h0.9v0.9h-0.9zM151.6 208.2h0.9v0.9h-0.9zM146.9 197.6h0.9v0.9h-0.9zM132.3 195.9h0.9v0.9h-0.9zM147.1 211.4h0.9v0.9h-0.9zM138.1 176.9h0.9v0.9h-0.9zM137.0 219.7h0.9v0.9h-0.9zM152.5 174.9h0.9v0.9h-0.9zM129.6 205.4h0.9v0.9h-0.9zM131.6 216.6h0.9v0.9h-0.9zM142.2 207.5h0.9v0.9h-0.9zM149.2 188.9h0.9v0.9h-0.9zM136.5 199.6h0.9v0.9h-0.9zM152.1 199.4h0.9v0.9h-0.9zM147.8 206.0h0.9v0.9h-0.9zM143.9 210.5h0.9v0.9h-0.9zM124.4 201.4h0.9v0.9h-0.9zM141.5 196.8h0.9v0.9h-0.9z" fill="rgb(150,150,150)"/>
<path d="M158.3 196.3h0.9v0.9h-0.9z" fill="rgb(210,210,210)"/>
<path d="M160.7 170.3h0.9v0.9h-0.9zM160.8 234.4h0.9v0.9h-0.9zM171.8 180.6h0.9v0.9h-0.9zM148.0 167.2h0.9v0.9h-0.9zM126.7 169.4h0.9v0.9h-0.9zM133.3 175.1h0.9v0.9h-0.9zM188.7 151.6h0.9v0.9h-0.9z" fill="rgb(165,165,165)"/>
<path d="M170.8 186.7h0.9v0.9h-0.9zM152.4 204.1h0.9v0.9h-0.9zM157.4 177.5h0.9v0.9h-0.9zM176.6 186.5h0.9v0.9h-0.9zM137.1 150.6h0.9v0.9h-0.9z" fill="rgb(195,195,195)"/>
<path d="M139.2 182.9h0.9v0.9h-0.9zM171.1 237.8h0.9v0.9h-0.9zM154.8 199.2h0.9v0.9h-0.9zM132.9 161.2h0.9v0.9h-0.9zM192.1 180.5h0.9v0.9h-0.9zM152.5 192.3h0.9v0.9h-0.9zM179.7 199.1h0.9v0.9h-0.9zM170.7 195.1h0.9v0.9h-0.9zM195.1 172.8h0.9v0.9h-0.9zM149.4 189.2h0.9v0.9h-0.9zM170.8 198.5h0.9v0.9h-0.9zM136.8 214.3h0.9v0.9h-0.9zM152.8 183.9h0.9v0.9h-0.9zM149.2 198.0h0.9v0.9h-0.9z" fill="rgb(150,150,150)"/>
<path d="M148.6 219.4h0.9v0.9h-0.9zM139.8 174.4h0.9v0.9h-0.9zM169.2 144.8h0.9v0.9h-0.9zM193.5 224.6h0.9v0.9h-0.9zM123.1 196.6h0.9v0.9h-0.9zM160.6 215.4h0.9v0.9h-0.9z" fill="rgb(180,180,180)"/>
<path d="M157.5 156.5h0.9v0.9h-0.9zM144.8 159.7h0.9v0.9h-0.9zM149.9 176.3h0.9v0.9h-0.9z" fill="rgb(135,135,135)"/>
<path d="M176.1 234.5h0.9v0.9h-0.9z" fill="rgb(210,210,210)"/>
<path d="M129.0,213.0C129.8,211.2 130.8,211.5 133.0,211.0C135.2,210.5 139.2,210.6 142.0,210.0C144.8,209.4 147.3,208.8 150.0,207.5C152.7,206.2 155.0,203.6 158.0,202.0C161.0,200.4 164.7,199.1 168.0,198.0C171.3,196.9 175.3,195.8 178.0,195.5C180.7,195.2 182.6,195.1 184.0,196.5C185.4,197.9 186.2,200.9 186.6,204.0C187.0,207.1 186.7,211.3 186.6,215.0C186.5,218.7 187.1,223.3 186.0,226.0C184.9,228.7 183.0,229.9 180.0,231.0C177.0,232.1 172.0,232.8 168.0,232.8C164.0,232.8 159.3,231.6 156.0,231.0C152.7,230.4 150.7,229.7 148.0,229.5C145.3,229.3 142.8,230.0 140.0,230.0C137.2,230.0 133.0,230.8 131.0,229.5C129.0,228.2 128.3,224.8 128.0,222.0C127.7,219.2 128.2,214.8 129.0,213.0Z" fill="rgb(248,248,248)" stroke="#111" stroke-width="0.7"/>
<path d="M131.2,213.3C131.9,211.6 132.9,211.9 134.9,211.4C137.0,210.9 140.7,211.0 143.4,210.5C146.0,209.9 148.4,209.4 150.9,208.1C153.4,206.9 155.6,204.4 158.4,203.0C161.2,201.5 164.7,200.2 167.8,199.2C171.0,198.2 174.7,197.1 177.2,196.8C179.7,196.6 181.5,196.5 182.9,197.8C184.2,199.1 184.9,201.9 185.3,204.8C185.7,207.7 185.4,211.7 185.3,215.2C185.2,218.6 185.8,223.0 184.7,225.5C183.7,228.0 181.9,229.2 179.1,230.2C176.3,231.3 171.6,231.9 167.8,231.9C164.1,231.9 159.7,230.7 156.5,230.2C153.4,229.7 151.5,229.0 149.0,228.8C146.5,228.7 144.2,229.3 141.5,229.3C138.8,229.3 134.9,230.1 133.0,228.8C131.2,227.6 130.5,224.3 130.2,221.8C129.9,219.2 130.4,215.0 131.2,213.3Z" fill="rgb(235,235,235)" stroke="#111" stroke-width="0.7"/>
<path d="M133.3,213.6C134.1,212.0 134.9,212.3 136.8,211.8C138.7,211.4 142.3,211.5 144.8,211.0C147.3,210.4 149.5,209.9 151.8,208.8C154.1,207.6 156.2,205.3 158.8,203.9C161.5,202.5 164.7,201.4 167.6,200.4C170.6,199.4 174.1,198.4 176.4,198.2C178.8,198.0 180.5,197.8 181.7,199.1C183.0,200.3 183.6,203.0 184.0,205.7C184.4,208.4 184.1,212.1 184.0,215.4C183.9,218.6 184.4,222.7 183.5,225.0C182.5,227.4 180.8,228.4 178.2,229.4C175.6,230.4 171.2,231.0 167.6,231.0C164.1,231.0 160.0,229.9 157.1,229.4C154.1,229.0 152.4,228.3 150.0,228.1C147.7,228.0 145.5,228.6 143.0,228.6C140.5,228.6 136.8,229.3 135.1,228.1C133.3,226.9 132.7,223.9 132.4,221.5C132.1,219.1 132.6,215.2 133.3,213.6Z" fill="rgb(222,222,222)" stroke="#111" stroke-width="0.7"/>
<ellipse cx="134.6" cy="220.2" rx="5.60" ry="9.20" fill="rgb(230,230,230)" stroke="#111" stroke-width="0.7"/>
<ellipse cx="134.6" cy="220.2" rx="4.48" ry="7.36" fill="rgb(210,210,210)" stroke="#111" stroke-width="0.7"/>
<ellipse cx="134.6" cy="220.2" rx="3.36" ry="5.52" fill="rgb(195,195,195)" stroke="#111" stroke-width="0.7"/>
<ellipse cx="134.6" cy="220.2" rx="2.24" ry="3.68" fill="rgb(205,205,205)" stroke="#111" stroke-width="0.7"/>
<path d="M141,213 L147,226 L151,212 L155,226" fill="none" stroke="#333" stroke-width="0.6"/>
<path d="M156.0,207.0C157.5,204.7 161.3,203.3 164.0,202.0C166.7,200.7 169.3,199.8 172.0,199.0C174.7,198.2 178.0,197.0 180.0,197.3C182.0,197.6 183.4,198.6 184.2,201.0C185.0,203.4 184.6,208.3 184.6,212.0C184.6,215.7 185.1,220.2 184.0,223.0C182.9,225.8 181.0,227.6 178.0,228.7C175.0,229.8 169.5,230.0 166.0,229.6C162.5,229.2 158.8,228.3 157.0,226.0C155.2,223.7 155.2,219.2 155.0,216.0C154.8,212.8 154.5,209.3 156.0,207.0Z" fill="rgb(120,120,120)" stroke="#2a2a2a" stroke-width="0.6"/>
<path d="M158.1,207.8C159.4,205.8 162.7,204.7 165.0,203.5C167.3,202.4 169.6,201.6 171.9,201.0C174.2,200.3 177.0,199.2 178.7,199.5C180.5,199.8 181.7,200.6 182.4,202.7C183.0,204.8 182.7,209.0 182.7,212.1C182.7,215.3 183.1,219.2 182.2,221.6C181.2,224.0 179.6,225.6 177.0,226.5C174.4,227.4 169.7,227.7 166.7,227.3C163.7,226.9 160.5,226.1 159.0,224.2C157.4,222.2 157.4,218.3 157.2,215.6C157.1,212.9 156.8,209.8 158.1,207.8Z" fill="rgb(85,85,85)" stroke="#2a2a2a" stroke-width="0.6"/>
<path d="M160.2,208.7C161.3,207.0 164.0,206.0 166.0,205.1C167.9,204.1 169.8,203.5 171.7,202.9C173.6,202.4 176.0,201.5 177.5,201.7C178.9,201.9 180.0,202.6 180.5,204.4C181.1,206.1 180.8,209.6 180.8,212.3C180.8,214.9 181.2,218.2 180.4,220.2C179.6,222.2 178.2,223.5 176.0,224.3C173.9,225.1 169.9,225.3 167.4,225.0C164.9,224.6 162.2,224.0 160.9,222.4C159.6,220.7 159.6,217.4 159.5,215.2C159.4,212.9 159.1,210.4 160.2,208.7Z" fill="rgb(65,65,65)" stroke="#2a2a2a" stroke-width="0.6"/>
<path d="M162.3,209.5C163.2,208.2 165.4,207.4 166.9,206.6C168.5,205.8 170.0,205.3 171.6,204.9C173.1,204.4 175.0,203.7 176.2,203.9C177.4,204.1 178.2,204.6 178.7,206.0C179.1,207.5 178.9,210.3 178.9,212.4C178.9,214.5 179.2,217.2 178.5,218.8C177.9,220.4 176.8,221.5 175.1,222.1C173.3,222.7 170.1,222.9 168.1,222.6C166.1,222.4 163.9,221.9 162.9,220.5C161.8,219.2 161.8,216.6 161.7,214.7C161.6,212.9 161.4,210.9 162.3,209.5Z" fill="rgb(75,75,75)" stroke="#2a2a2a" stroke-width="0.6"/>
<path d="M163,215 L178,203.5 L176,219 Z" fill="#a8a8a8" stroke="#111" stroke-width="0.7"/>
<path d="M167.5,213.5 L175.5,208 L174.5,216 Z" fill="#d8d8d8"/>
<path d="M120.5 211.6H217.5" stroke="#a0a0cc" stroke-width="1.3"/>
<path d="M153.2 142.5V239.5" stroke="#7070d0" stroke-width="1"/>
<rect x="120.5" y="142.5" width="97.0" height="97.0" fill="none" stroke="#4a4a4a" stroke-width="1.2"/>
<text transform="translate(122.58,152.80) scale(0.968,1)" font-size="8.90">3%</text>
<text transform="translate(198.07,152.80) scale(0.997,1)" font-size="8.90">33%</text>
<text transform="translate(120.24,237.80) scale(0.993,1)" font-size="8.90">13%</text>
<text transform="translate(199.07,237.80) scale(0.940,1)" font-size="8.90">50%</text>
<path d="M124.5 240.1v1.8M126.5 240.1v1.8M128.5 240.1v1.8M130.5 240.1v1.8M132.5 240.1v1.8M134.5 240.1v1.8M136.5 240.1v1.8M138.5 240.1v1.8M140.5 240.1v1.8M144.5 240.1v1.8M150.5 240.1v1.8M154.5 240.1v1.8M160.5 240.1v1.8M170.5 240.1v1.8M180.5 240.1v1.8M190.5 240.1v1.8M200.5 240.1v1.8M210.5 240.1v1.8" stroke="#888" stroke-width="0.7"/>
<rect x="132.0" y="240.3" width="2.4" height="2" fill="#222"/>
<rect x="118.6" y="224.0" width="1.5" height="2" fill="#222"/>
<path d="M118.3 154.5h2.2M118.3 161.5h2.2M118.3 165.5h2.2M118.3 168.5h2.2M118.3 170.5h2.2M118.3 172.5h2.2M118.3 174.0h2.2M118.3 175.5h2.2M118.3 177.0h2.2M118.3 178.5h2.2M118.3 182.5h2.2M118.3 189.5h2.2M118.3 193.5h2.2M118.3 196.5h2.2M118.3 198.5h2.2M118.3 200.5h2.2M118.3 202.0h2.2M118.3 203.5h2.2M118.3 205.0h2.2M118.3 206.5h2.2M118.3 210.5h2.2M118.3 217.5h2.2M118.3 221.5h2.2M118.3 224.5h2.2M118.3 226.5h2.2M118.3 228.5h2.2M118.3 230.0h2.2M118.3 231.5h2.2M118.3 233.0h2.2M118.3 234.5h2.2" stroke="#777" stroke-width="0.7"/>
<path d="M66.6 333.9h0.9v0.9h-0.9zM81.9 311.9h0.9v0.9h-0.9zM88.0 286.9h0.9v0.9h-0.9zM58.9 337.2h0.9v0.9h-0.9zM56.5 314.6h0.9v0.9h-0.9zM79.0 257.1h0.9v0.9h-0.9zM84.0 309.1h0.9v0.9h-0.9zM58.8 324.8h0.9v0.9h-0.9zM85.2 265.9h0.9v0.9h-0.9zM97.2 282.2h0.9v0.9h-0.9zM57.4 321.8h0.9v0.9h-0.9zM76.7 325.4h0.9v0.9h-0.9zM54.7 323.1h0.9v0.9h-0.9zM69.0 262.7h0.9v0.9h-0.9zM77.3 247.8h0.9v0.9h-0.9zM60.4 329.7h0.9v0.9h-0.9zM56.2 317.7h0.9v0.9h-0.9zM72.5 329.6h0.9v0.9h-0.9zM82.2 318.8h0.9v0.9h-0.9zM46.3 314.5h0.9v0.9h-0.9zM57.8 321.2h0.9v0.9h-0.9zM66.8 337.7h0.9v0.9h-0.9zM89.2 272.9h0.9v0.9h-0.9zM57.6 334.0h0.9v0.9h-0.9zM86.1 304.2h0.9v0.9h-0.9zM65.2 334.5h0.9v0.9h-0.9zM80.6 312.5h0.9v0.9h-0.9zM61.2 328.1h0.9v0.9h-0.9zM82.7 258.1h0.9v0.9h-0.9zM86.9 311.7h0.9v0.9h-0.9zM47.8 264.0h0.9v0.9h-0.9zM54.6 319.6h0.9v0.9h-0.9zM82.9 262.0h0.9v0.9h-0.9zM80.8 257.5h0.9v0.9h-0.9zM46.0 282.1h0.9v0.9h-0.9zM73.4 258.4h0.9v0.9h-0.9zM91.7 247.2h0.9v0.9h-0.9zM90.5 260.8h0.9v0.9h-0.9zM62.6 334.0h0.9v0.9h-0.9zM55.2 323.8h0.9v0.9h-0.9zM87.3 310.0h0.9v0.9h-0.9zM79.7 333.8h0.9v0.9h-0.9zM89.8 337.9h0.9v0.9h-0.9zM83.9 330.4h0.9v0.9h-0.9zM83.2 250.1h0.9v0.9h-0.9zM50.7 331.3h0.9v0.9h-0.9zM61.8 333.7h0.9v0.9h-0.9zM43.5 286.2h0.9v0.9h-0.9zM78.7 321.0h0.9v0.9h-0.9zM86.4 289.6h0.9v0.9h-0.9zM70.1 330.8h0.9v0.9h-0.9zM73.7 252.3h0.9v0.9h-0.9zM83.5 260.1h0.9v0.9h-0.9zM64.1 331.5h0.9v0.9h-0.9zM69.4 329.3h0.9v0.9h-0.9zM54.2 308.5h0.9v0.9h-0.9zM85.0 301.5h0.9v0.9h-0.9zM76.6 254.8h0.9v0.9h-0.9zM73.2 328.0h0.9v0.9h-0.9zM61.2 278.7h0.9v0.9h-0.9zM86.9 313.5h0.9v0.9h-0.9zM86.6 271.9h0.9v0.9h-0.9zM77.0 325.8h0.9v0.9h-0.9zM57.9 282.4h0.9v0.9h-0.9zM52.2 325.0h0.9v0.9h-0.9zM48.6 330.9h0.9v0.9h-0.9zM45.4 306.3h0.9v0.9h-0.9zM89.6 251.1h0.9v0.9h-0.9zM35.4 263.4h0.9v0.9h-0.9zM81.2 245.6h0.9v0.9h-0.9zM57.6 330.7h0.9v0.9h-0.9zM51.6 286.4h0.9v0.9h-0.9zM84.1 261.2h0.9v0.9h-0.9z" fill="rgb(180,180,180)"/>
<path d="M78.7 326.3h0.9v0.9h-0.9zM48.2 327.8h0.9v0.9h-0.9zM85.6 251.2h0.9v0.9h-0.9zM93.5 301.8h0.9v0.9h-0.9zM31.4 306.4h0.9v0.9h-0.9zM76.9 258.0h0.9v0.9h-0.9zM52.2 260.0h0.9v0.9h-0.9zM88.6 251.5h0.9v0.9h-0.9zM65.6 258.9h0.9v0.9h-0.9zM62.7 269.6h0.9v0.9h-0.9zM83.2 258.4h0.9v0.9h-0.9zM60.4 329.5h0.9v0.9h-0.9zM87.2 267.8h0.9v0.9h-0.9zM92.2 251.8h0.9v0.9h-0.9zM56.1 281.4h0.9v0.9h-0.9zM87.0 275.6h0.9v0.9h-0.9zM112.1 280.5h0.9v0.9h-0.9zM78.3 325.4h0.9v0.9h-0.9zM63.2 262.9h0.9v0.9h-0.9zM58.3 252.2h0.9v0.9h-0.9zM50.2 306.2h0.9v0.9h-0.9zM68.7 330.6h0.9v0.9h-0.9zM63.5 339.3h0.9v0.9h-0.9zM87.9 302.0h0.9v0.9h-0.9zM74.1 324.5h0.9v0.9h-0.9zM85.1 266.3h0.9v0.9h-0.9zM81.9 315.0h0.9v0.9h-0.9z" fill="rgb(210,210,210)"/>
<path d="M77.4 247.6h0.9v0.9h-0.9zM71.7 332.4h0.9v0.9h-0.9zM65.1 329.7h0.9v0.9h-0.9zM86.0 276.2h0.9v0.9h-0.9zM59.8 271.8h0.9v0.9h-0.9zM83.5 254.1h0.9v0.9h-0.9zM85.0 294.8h0.9v0.9h-0.9zM54.1 300.7h0.9v0.9h-0.9zM62.8 271.5h0.9v0.9h-0.9zM70.8 333.8h0.9v0.9h-0.9zM67.3 338.4h0.9v0.9h-0.9zM43.4 306.0h0.9v0.9h-0.9zM80.9 254.9h0.9v0.9h-0.9zM70.7 260.8h0.9v0.9h-0.9zM86.4 303.3h0.9v0.9h-0.9zM82.6 267.5h0.9v0.9h-0.9zM77.0 326.1h0.9v0.9h-0.9zM50.2 325.3h0.9v0.9h-0.9zM85.6 281.5h0.9v0.9h-0.9zM90.6 308.9h0.9v0.9h-0.9zM70.3 260.3h0.9v0.9h-0.9zM59.3 323.8h0.9v0.9h-0.9zM78.1 326.4h0.9v0.9h-0.9zM96.2 284.2h0.9v0.9h-0.9zM73.3 252.7h0.9v0.9h-0.9zM58.3 281.8h0.9v0.9h-0.9zM79.3 313.8h0.9v0.9h-0.9zM66.0 262.5h0.9v0.9h-0.9zM70.2 332.5h0.9v0.9h-0.9zM55.0 322.6h0.9v0.9h-0.9zM74.4 330.2h0.9v0.9h-0.9zM80.2 316.4h0.9v0.9h-0.9zM90.0 271.1h0.9v0.9h-0.9zM58.7 316.2h0.9v0.9h-0.9zM78.1 252.6h0.9v0.9h-0.9zM53.9 297.1h0.9v0.9h-0.9zM86.1 266.5h0.9v0.9h-0.9zM70.2 326.2h0.9v0.9h-0.9zM75.4 327.1h0.9v0.9h-0.9zM77.7 325.4h0.9v0.9h-0.9zM59.1 289.7h0.9v0.9h-0.9zM92.8 261.4h0.9v0.9h-0.9zM94.1 309.3h0.9v0.9h-0.9zM72.6 249.2h0.9v0.9h-0.9zM84.1 247.0h0.9v0.9h-0.9zM77.2 249.9h0.9v0.9h-0.9zM56.7 319.9h0.9v0.9h-0.9zM93.2 284.5h0.9v0.9h-0.9zM59.6 297.6h0.9v0.9h-0.9zM49.2 314.1h0.9v0.9h-0.9zM54.8 293.0h0.9v0.9h-0.9zM83.9 275.9h0.9v0.9h-0.9zM68.6 261.9h0.9v0.9h-0.9zM100.7 294.0h0.9v0.9h-0.9zM86.4 282.0h0.9v0.9h-0.9zM90.3 263.4h0.9v0.9h-0.9zM88.9 279.4h0.9v0.9h-0.9zM85.9 318.0h0.9v0.9h-0.9zM59.5 288.9h0.9v0.9h-0.9zM82.4 323.7h0.9v0.9h-0.9zM87.8 280.6h0.9v0.9h-0.9zM82.4 313.3h0.9v0.9h-0.9zM87.5 277.8h0.9v0.9h-0.9zM55.4 303.5h0.9v0.9h-0.9zM54.8 311.1h0.9v0.9h-0.9zM86.6 270.4h0.9v0.9h-0.9zM89.7 305.5h0.9v0.9h-0.9zM44.1 310.1h0.9v0.9h-0.9zM59.5 328.8h0.9v0.9h-0.9zM88.7 281.7h0.9v0.9h-0.9zM58.8 322.7h0.9v0.9h-0.9zM89.5 279.8h0.9v0.9h-0.9zM72.5 259.4h0.9v0.9h-0.9zM85.9 269.4h0.9v0.9h-0.9zM78.8 251.0h0.9v0.9h-0.9z" fill="rgb(150,150,150)"/>
<path d="M102.4 328.1h0.9v0.9h-0.9zM93.8 274.4h0.9v0.9h-0.9zM87.5 263.8h0.9v0.9h-0.9zM83.3 308.1h0.9v0.9h-0.9zM69.0 258.8h0.9v0.9h-0.9zM84.5 259.3h0.9v0.9h-0.9zM58.9 266.8h0.9v0.9h-0.9zM86.8 263.2h0.9v0.9h-0.9zM53.1 326.4h0.9v0.9h-0.9zM65.0 328.9h0.9v0.9h-0.9zM70.3 333.6h0.9v0.9h-0.9zM82.7 312.5h0.9v0.9h-0.9zM69.2 254.9h0.9v0.9h-0.9zM75.7 324.6h0.9v0.9h-0.9zM70.5 332.3h0.9v0.9h-0.9zM85.7 318.4h0.9v0.9h-0.9zM44.9 263.7h0.9v0.9h-0.9zM81.4 253.1h0.9v0.9h-0.9zM50.8 288.4h0.9v0.9h-0.9zM87.8 289.0h0.9v0.9h-0.9zM89.7 263.6h0.9v0.9h-0.9zM79.8 257.4h0.9v0.9h-0.9zM62.4 278.0h0.9v0.9h-0.9zM85.9 301.9h0.9v0.9h-0.9zM56.8 311.6h0.9v0.9h-0.9zM52.0 280.3h0.9v0.9h-0.9zM55.4 309.4h0.9v0.9h-0.9zM75.8 325.0h0.9v0.9h-0.9zM91.7 281.4h0.9v0.9h-0.9zM60.3 280.0h0.9v0.9h-0.9zM61.4 276.7h0.9v0.9h-0.9zM75.6 252.1h0.9v0.9h-0.9zM70.1 258.9h0.9v0.9h-0.9zM59.9 340.5h0.9v0.9h-0.9zM84.0 254.7h0.9v0.9h-0.9zM85.1 296.3h0.9v0.9h-0.9zM85.8 326.6h0.9v0.9h-0.9zM87.7 337.8h0.9v0.9h-0.9zM63.5 268.8h0.9v0.9h-0.9zM88.5 289.6h0.9v0.9h-0.9zM76.5 246.6h0.9v0.9h-0.9zM87.4 293.3h0.9v0.9h-0.9zM57.5 278.4h0.9v0.9h-0.9zM86.9 281.0h0.9v0.9h-0.9zM24.4 330.1h0.9v0.9h-0.9zM55.3 268.1h0.9v0.9h-0.9zM71.4 329.8h0.9v0.9h-0.9zM82.3 261.0h0.9v0.9h-0.9zM56.4 284.2h0.9v0.9h-0.9zM69.7 257.3h0.9v0.9h-0.9zM83.9 259.2h0.9v0.9h-0.9zM70.3 329.9h0.9v0.9h-0.9zM79.4 257.8h0.9v0.9h-0.9z" fill="rgb(135,135,135)"/>
<path d="M80.0 339.1h0.9v0.9h-0.9zM65.2 266.3h0.9v0.9h-0.9zM48.5 306.3h0.9v0.9h-0.9zM54.8 309.5h0.9v0.9h-0.9zM74.4 332.5h0.9v0.9h-0.9zM76.1 327.5h0.9v0.9h-0.9zM87.6 257.2h0.9v0.9h-0.9zM47.0 285.6h0.9v0.9h-0.9zM56.9 314.5h0.9v0.9h-0.9zM86.4 270.8h0.9v0.9h-0.9zM92.8 270.3h0.9v0.9h-0.9zM75.0 257.0h0.9v0.9h-0.9zM64.9 274.7h0.9v0.9h-0.9zM66.5 263.2h0.9v0.9h-0.9zM63.7 331.6h0.9v0.9h-0.9zM71.7 263.1h0.9v0.9h-0.9zM76.7 329.8h0.9v0.9h-0.9zM77.1 324.5h0.9v0.9h-0.9zM88.9 302.0h0.9v0.9h-0.9zM75.3 257.1h0.9v0.9h-0.9zM89.4 280.6h0.9v0.9h-0.9zM76.1 254.5h0.9v0.9h-0.9zM83.4 250.5h0.9v0.9h-0.9zM56.6 291.5h0.9v0.9h-0.9zM76.7 318.1h0.9v0.9h-0.9zM87.4 295.7h0.9v0.9h-0.9zM82.6 260.1h0.9v0.9h-0.9zM60.0 331.7h0.9v0.9h-0.9zM78.8 256.2h0.9v0.9h-0.9zM57.1 322.2h0.9v0.9h-0.9zM87.1 270.3h0.9v0.9h-0.9zM51.9 306.0h0.9v0.9h-0.9zM54.5 332.0h0.9v0.9h-0.9zM58.6 290.0h0.9v0.9h-0.9zM77.2 249.4h0.9v0.9h-0.9zM56.8 326.8h0.9v0.9h-0.9zM73.4 257.6h0.9v0.9h-0.9zM82.7 248.1h0.9v0.9h-0.9zM67.9 248.1h0.9v0.9h-0.9zM65.7 339.4h0.9v0.9h-0.9zM84.9 283.2h0.9v0.9h-0.9zM95.8 254.4h0.9v0.9h-0.9zM65.4 270.4h0.9v0.9h-0.9zM72.0 332.7h0.9v0.9h-0.9zM59.3 316.0h0.9v0.9h-0.9zM86.0 271.8h0.9v0.9h-0.9zM63.6 265.8h0.9v0.9h-0.9zM69.5 247.4h0.9v0.9h-0.9zM52.8 292.5h0.9v0.9h-0.9zM77.0 323.3h0.9v0.9h-0.9zM47.8 296.1h0.9v0.9h-0.9zM51.6 270.5h0.9v0.9h-0.9zM84.7 317.4h0.9v0.9h-0.9zM87.6 297.3h0.9v0.9h-0.9zM58.7 279.3h0.9v0.9h-0.9zM83.1 317.3h0.9v0.9h-0.9zM57.9 299.1h0.9v0.9h-0.9zM82.5 258.2h0.9v0.9h-0.9zM84.2 254.6h0.9v0.9h-0.9zM90.2 313.2h0.9v0.9h-0.9zM68.2 253.0h0.9v0.9h-0.9zM77.2 256.6h0.9v0.9h-0.9zM67.1 329.9h0.9v0.9h-0.9zM57.6 281.8h0.9v0.9h-0.9zM79.0 251.4h0.9v0.9h-0.9zM58.7 278.5h0.9v0.9h-0.9zM80.7 262.7h0.9v0.9h-0.9zM85.3 303.7h0.9v0.9h-0.9zM56.2 325.5h0.9v0.9h-0.9zM91.6 281.3h0.9v0.9h-0.9z" fill="rgb(165,165,165)"/>
<path d="M87.7 258.9h0.9v0.9h-0.9zM74.8 331.8h0.9v0.9h-0.9zM68.4 259.8h0.9v0.9h-0.9zM36.3 280.0h0.9v0.9h-0.9zM76.5 253.6h0.9v0.9h-0.9zM84.5 253.6h0.9v0.9h-0.9zM81.8 256.6h0.9v0.9h-0.9zM59.9 295.3h0.9v0.9h-0.9zM78.9 314.6h0.9v0.9h-0.9zM91.5 273.6h0.9v0.9h-0.9zM66.2 332.8h0.9v0.9h-0.9zM90.0 311.9h0.9v0.9h-0.9zM58.5 321.8h0.9v0.9h-0.9zM86.7 285.0h0.9v0.9h-0.9zM54.9 323.4h0.9v0.9h-0.9zM89.6 313.0h0.9v0.9h-0.9zM75.7 324.7h0.9v0.9h-0.9zM85.8 253.6h0.9v0.9h-0.9zM55.7 335.4h0.9v0.9h-0.9zM85.5 263.1h0.9v0.9h-0.9zM86.6 263.3h0.9v0.9h-0.9zM84.6 323.2h0.9v0.9h-0.9zM57.7 291.2h0.9v0.9h-0.9zM69.8 246.3h0.9v0.9h-0.9zM60.6 275.1h0.9v0.9h-0.9zM85.4 282.7h0.9v0.9h-0.9zM70.3 329.8h0.9v0.9h-0.9zM87.3 306.0h0.9v0.9h-0.9zM87.5 252.6h0.9v0.9h-0.9zM63.1 275.6h0.9v0.9h-0.9zM62.1 328.6h0.9v0.9h-0.9zM61.5 333.3h0.9v0.9h-0.9zM88.0 294.3h0.9v0.9h-0.9zM75.4 330.3h0.9v0.9h-0.9zM84.4 318.3h0.9v0.9h-0.9zM67.2 250.9h0.9v0.9h-0.9zM87.5 308.5h0.9v0.9h-0.9zM56.9 312.8h0.9v0.9h-0.9zM57.5 331.0h0.9v0.9h-0.9zM56.0 306.6h0.9v0.9h-0.9zM54.9 309.3h0.9v0.9h-0.9zM91.5 274.2h0.9v0.9h-0.9zM93.2 267.4h0.9v0.9h-0.9zM66.6 330.0h0.9v0.9h-0.9zM81.6 314.7h0.9v0.9h-0.9zM86.5 293.4h0.9v0.9h-0.9zM55.4 278.2h0.9v0.9h-0.9zM58.7 301.7h0.9v0.9h-0.9zM66.4 337.0h0.9v0.9h-0.9zM88.0 282.5h0.9v0.9h-0.9zM58.8 289.2h0.9v0.9h-0.9zM57.7 321.9h0.9v0.9h-0.9zM69.7 258.7h0.9v0.9h-0.9zM93.8 277.8h0.9v0.9h-0.9zM87.7 291.9h0.9v0.9h-0.9zM86.7 296.3h0.9v0.9h-0.9zM94.7 264.2h0.9v0.9h-0.9z" fill="rgb(195,195,195)"/>
<path d="M37.6 308.2h0.9v0.9h-0.9zM28.1 298.1h0.9v0.9h-0.9zM51.1 303.5h0.9v0.9h-0.9zM55.0 298.5h0.9v0.9h-0.9zM55.1 307.3h0.9v0.9h-0.9zM50.2 300.9h0.9v0.9h-0.9zM49.4 280.3h0.9v0.9h-0.9zM36.6 305.1h0.9v0.9h-0.9zM46.4 287.7h0.9v0.9h-0.9zM26.1 286.6h0.9v0.9h-0.9zM27.0 284.7h0.9v0.9h-0.9zM45.2 293.2h0.9v0.9h-0.9zM31.5 298.2h0.9v0.9h-0.9zM49.6 307.5h0.9v0.9h-0.9zM48.3 302.1h0.9v0.9h-0.9zM28.6 280.4h0.9v0.9h-0.9zM60.3 302.8h0.9v0.9h-0.9zM35.1 303.6h0.9v0.9h-0.9zM46.9 289.1h0.9v0.9h-0.9zM47.6 312.3h0.9v0.9h-0.9zM31.7 298.7h0.9v0.9h-0.9zM41.6 291.4h0.9v0.9h-0.9zM33.7 295.0h0.9v0.9h-0.9zM45.3 312.0h0.9v0.9h-0.9zM38.3 289.1h0.9v0.9h-0.9zM41.2 310.5h0.9v0.9h-0.9zM20.4 300.5h0.9v0.9h-0.9zM32.2 289.0h0.9v0.9h-0.9zM49.6 306.0h0.9v0.9h-0.9zM65.4 283.4h0.9v0.9h-0.9zM67.4 296.6h0.9v0.9h-0.9zM54.4 305.6h0.9v0.9h-0.9zM46.4 273.9h0.9v0.9h-0.9zM48.4 302.6h0.9v0.9h-0.9zM67.2 299.1h0.9v0.9h-0.9zM43.0 291.4h0.9v0.9h-0.9zM31.2 295.8h0.9v0.9h-0.9zM51.3 298.2h0.9v0.9h-0.9zM36.8 304.3h0.9v0.9h-0.9zM59.4 310.7h0.9v0.9h-0.9zM50.9 304.8h0.9v0.9h-0.9zM55.1 295.5h0.9v0.9h-0.9zM51.3 284.6h0.9v0.9h-0.9zM45.1 295.5h0.9v0.9h-0.9zM41.4 307.9h0.9v0.9h-0.9zM69.3 293.6h0.9v0.9h-0.9zM43.6 293.1h0.9v0.9h-0.9zM60.1 295.5h0.9v0.9h-0.9zM29.2 294.6h0.9v0.9h-0.9zM46.9 302.8h0.9v0.9h-0.9zM35.4 308.1h0.9v0.9h-0.9zM65.0 286.5h0.9v0.9h-0.9z" fill="rgb(195,195,195)"/>
<path d="M37.1 288.3h0.9v0.9h-0.9zM41.4 308.3h0.9v0.9h-0.9zM63.0 304.8h0.9v0.9h-0.9zM42.4 308.4h0.9v0.9h-0.9zM64.2 297.9h0.9v0.9h-0.9zM39.1 287.8h0.9v0.9h-0.9zM53.3 286.0h0.9v0.9h-0.9zM56.3 296.3h0.9v0.9h-0.9zM43.8 302.0h0.9v0.9h-0.9zM33.6 292.5h0.9v0.9h-0.9zM49.0 294.0h0.9v0.9h-0.9zM43.5 289.9h0.9v0.9h-0.9zM51.4 279.0h0.9v0.9h-0.9zM59.1 283.6h0.9v0.9h-0.9zM34.4 275.2h0.9v0.9h-0.9zM50.3 303.6h0.9v0.9h-0.9zM42.9 300.7h0.9v0.9h-0.9zM31.1 282.9h0.9v0.9h-0.9zM59.0 296.4h0.9v0.9h-0.9zM64.6 307.8h0.9v0.9h-0.9zM39.5 296.3h0.9v0.9h-0.9zM36.3 286.6h0.9v0.9h-0.9zM43.8 304.7h0.9v0.9h-0.9zM37.5 290.2h0.9v0.9h-0.9zM47.0 297.5h0.9v0.9h-0.9zM55.1 293.4h0.9v0.9h-0.9zM45.2 286.2h0.9v0.9h-0.9zM46.5 311.2h0.9v0.9h-0.9zM28.8 311.9h0.9v0.9h-0.9zM66.4 312.2h0.9v0.9h-0.9zM25.3 304.9h0.9v0.9h-0.9zM39.6 296.8h0.9v0.9h-0.9zM36.9 295.0h0.9v0.9h-0.9zM50.1 305.6h0.9v0.9h-0.9z" fill="rgb(135,135,135)"/>
<path d="M43.0 274.8h0.9v0.9h-0.9zM29.3 288.7h0.9v0.9h-0.9zM40.9 295.4h0.9v0.9h-0.9zM49.3 298.7h0.9v0.9h-0.9zM33.1 285.4h0.9v0.9h-0.9zM33.8 302.3h0.9v0.9h-0.9zM43.7 293.3h0.9v0.9h-0.9zM56.1 284.2h0.9v0.9h-0.9zM71.7 302.7h0.9v0.9h-0.9zM39.9 315.5h0.9v0.9h-0.9zM35.1 307.6h0.9v0.9h-0.9zM48.9 305.5h0.9v0.9h-0.9zM46.4 292.7h0.9v0.9h-0.9zM54.1 313.7h0.9v0.9h-0.9zM40.1 311.9h0.9v0.9h-0.9zM53.1 309.0h0.9v0.9h-0.9zM43.9 296.5h0.9v0.9h-0.9zM77.6 318.2h0.9v0.9h-0.9zM45.5 291.5h0.9v0.9h-0.9zM50.6 301.8h0.9v0.9h-0.9zM64.7 285.5h0.9v0.9h-0.9zM72.0 282.3h0.9v0.9h-0.9zM32.8 326.5h0.9v0.9h-0.9zM52.9 301.8h0.9v0.9h-0.9zM53.1 303.1h0.9v0.9h-0.9zM47.3 307.3h0.9v0.9h-0.9zM38.2 303.2h0.9v0.9h-0.9zM40.0 296.4h0.9v0.9h-0.9zM42.9 319.0h0.9v0.9h-0.9zM48.5 312.4h0.9v0.9h-0.9zM48.1 292.1h0.9v0.9h-0.9zM53.2 301.5h0.9v0.9h-0.9zM51.3 305.1h0.9v0.9h-0.9zM52.6 288.1h0.9v0.9h-0.9zM35.4 276.2h0.9v0.9h-0.9zM59.4 307.8h0.9v0.9h-0.9zM38.7 308.7h0.9v0.9h-0.9zM61.6 313.2h0.9v0.9h-0.9zM44.6 319.7h0.9v0.9h-0.9zM42.2 305.3h0.9v0.9h-0.9zM56.7 314.3h0.9v0.9h-0.9zM57.5 318.4h0.9v0.9h-0.9zM37.7 301.6h0.9v0.9h-0.9zM51.1 296.1h0.9v0.9h-0.9zM41.7 288.8h0.9v0.9h-0.9zM61.2 303.6h0.9v0.9h-0.9zM55.4 292.8h0.9v0.9h-0.9zM47.4 317.7h0.9v0.9h-0.9zM50.7 285.1h0.9v0.9h-0.9zM40.6 289.5h0.9v0.9h-0.9zM33.8 309.0h0.9v0.9h-0.9zM25.4 299.8h0.9v0.9h-0.9zM34.9 288.9h0.9v0.9h-0.9zM36.7 293.6h0.9v0.9h-0.9zM51.7 292.1h0.9v0.9h-0.9zM27.8 301.9h0.9v0.9h-0.9z" fill="rgb(165,165,165)"/>
<path d="M63.7 297.2h0.9v0.9h-0.9zM28.9 299.4h0.9v0.9h-0.9zM46.7 301.9h0.9v0.9h-0.9zM71.1 288.9h0.9v0.9h-0.9zM60.2 289.7h0.9v0.9h-0.9zM48.9 290.4h0.9v0.9h-0.9zM55.5 299.0h0.9v0.9h-0.9zM43.1 302.6h0.9v0.9h-0.9zM46.5 297.9h0.9v0.9h-0.9zM34.7 303.0h0.9v0.9h-0.9zM51.1 300.2h0.9v0.9h-0.9zM41.6 289.7h0.9v0.9h-0.9zM69.4 293.5h0.9v0.9h-0.9zM51.9 309.8h0.9v0.9h-0.9zM34.0 292.5h0.9v0.9h-0.9zM45.4 295.0h0.9v0.9h-0.9zM55.1 291.1h0.9v0.9h-0.9zM44.1 309.1h0.9v0.9h-0.9zM32.0 283.5h0.9v0.9h-0.9zM44.8 306.1h0.9v0.9h-0.9zM30.3 298.6h0.9v0.9h-0.9zM49.7 286.8h0.9v0.9h-0.9zM64.0 299.0h0.9v0.9h-0.9zM65.6 322.1h0.9v0.9h-0.9zM51.8 288.9h0.9v0.9h-0.9zM36.9 329.4h0.9v0.9h-0.9zM51.5 311.3h0.9v0.9h-0.9zM45.6 291.6h0.9v0.9h-0.9zM59.1 287.7h0.9v0.9h-0.9zM46.6 295.3h0.9v0.9h-0.9zM55.1 305.6h0.9v0.9h-0.9zM42.4 299.5h0.9v0.9h-0.9zM37.2 275.3h0.9v0.9h-0.9zM32.7 294.2h0.9v0.9h-0.9zM42.5 302.4h0.9v0.9h-0.9zM40.6 310.0h0.9v0.9h-0.9zM41.2 293.3h0.9v0.9h-0.9zM69.0 291.9h0.9v0.9h-0.9zM58.2 290.9h0.9v0.9h-0.9zM52.9 292.2h0.9v0.9h-0.9zM58.1 295.0h0.9v0.9h-0.9zM37.1 310.8h0.9v0.9h-0.9zM59.5 291.2h0.9v0.9h-0.9zM41.6 280.8h0.9v0.9h-0.9zM69.5 310.3h0.9v0.9h-0.9zM22.6 298.7h0.9v0.9h-0.9z" fill="rgb(180,180,180)"/>
<path d="M60.6 290.2h0.9v0.9h-0.9zM48.8 297.2h0.9v0.9h-0.9zM61.8 287.1h0.9v0.9h-0.9zM40.8 288.1h0.9v0.9h-0.9zM30.6 283.1h0.9v0.9h-0.9zM35.1 292.0h0.9v0.9h-0.9zM74.6 289.5h0.9v0.9h-0.9zM62.1 278.1h0.9v0.9h-0.9zM59.3 277.7h0.9v0.9h-0.9zM23.1 295.1h0.9v0.9h-0.9zM47.0 291.7h0.9v0.9h-0.9zM27.6 302.9h0.9v0.9h-0.9zM35.3 292.9h0.9v0.9h-0.9zM33.3 293.3h0.9v0.9h-0.9zM24.2 302.5h0.9v0.9h-0.9zM26.4 304.5h0.9v0.9h-0.9zM43.8 307.0h0.9v0.9h-0.9zM34.0 311.6h0.9v0.9h-0.9zM55.0 297.2h0.9v0.9h-0.9zM45.1 287.7h0.9v0.9h-0.9zM43.8 291.6h0.9v0.9h-0.9zM51.3 296.2h0.9v0.9h-0.9zM51.8 289.0h0.9v0.9h-0.9zM53.5 318.1h0.9v0.9h-0.9zM21.2 298.7h0.9v0.9h-0.9zM32.5 289.8h0.9v0.9h-0.9zM29.5 324.9h0.9v0.9h-0.9zM59.7 301.6h0.9v0.9h-0.9zM54.3 303.3h0.9v0.9h-0.9zM66.7 289.6h0.9v0.9h-0.9zM56.4 296.8h0.9v0.9h-0.9zM33.9 307.5h0.9v0.9h-0.9zM20.6 298.8h0.9v0.9h-0.9zM50.3 289.9h0.9v0.9h-0.9zM30.3 310.1h0.9v0.9h-0.9zM35.8 309.7h0.9v0.9h-0.9zM45.4 319.8h0.9v0.9h-0.9zM42.5 296.6h0.9v0.9h-0.9zM27.1 302.3h0.9v0.9h-0.9zM66.8 278.9h0.9v0.9h-0.9zM39.8 292.3h0.9v0.9h-0.9zM23.7 307.0h0.9v0.9h-0.9zM43.1 310.4h0.9v0.9h-0.9zM34.1 301.4h0.9v0.9h-0.9zM63.7 305.1h0.9v0.9h-0.9zM49.9 284.6h0.9v0.9h-0.9zM68.3 282.8h0.9v0.9h-0.9zM42.4 314.7h0.9v0.9h-0.9zM40.2 285.9h0.9v0.9h-0.9zM58.7 284.7h0.9v0.9h-0.9zM65.6 297.6h0.9v0.9h-0.9zM67.1 299.7h0.9v0.9h-0.9zM55.6 297.3h0.9v0.9h-0.9zM50.9 312.8h0.9v0.9h-0.9zM56.7 278.9h0.9v0.9h-0.9zM47.6 289.3h0.9v0.9h-0.9zM31.6 302.4h0.9v0.9h-0.9zM71.9 301.0h0.9v0.9h-0.9zM54.7 299.4h0.9v0.9h-0.9zM54.2 286.3h0.9v0.9h-0.9zM44.1 321.6h0.9v0.9h-0.9zM39.7 306.9h0.9v0.9h-0.9zM65.3 288.6h0.9v0.9h-0.9zM51.6 285.6h0.9v0.9h-0.9z" fill="rgb(150,150,150)"/>
<path d="M48.3 295.8h0.9v0.9h-0.9zM25.8 279.4h0.9v0.9h-0.9zM53.5 300.2h0.9v0.9h-0.9zM41.9 282.0h0.9v0.9h-0.9zM38.7 294.4h0.9v0.9h-0.9zM40.9 308.9h0.9v0.9h-0.9zM26.2 304.6h0.9v0.9h-0.9z" fill="rgb(210,210,210)"/>
<path d="M82.9 313.0h0.9v0.9h-0.9zM41.1 276.9h0.9v0.9h-0.9zM55.7 330.6h0.9v0.9h-0.9zM103.4 300.7h0.9v0.9h-0.9zM65.4 290.6h0.9v0.9h-0.9zM43.4 260.9h0.9v0.9h-0.9zM41.6 276.9h0.9v0.9h-0.9zM32.2 330.7h0.9v0.9h-0.9zM85.6 332.0h0.9v0.9h-0.9zM51.8 319.7h0.9v0.9h-0.9zM46.5 261.7h0.9v0.9h-0.9zM46.9 334.3h0.9v0.9h-0.9z" fill="rgb(165,165,165)"/>
<path d="M36.4 260.3h0.9v0.9h-0.9zM66.7 283.0h0.9v0.9h-0.9zM52.7 265.1h0.9v0.9h-0.9zM69.8 300.5h0.9v0.9h-0.9zM19.1 312.8h0.9v0.9h-0.9zM89.5 268.6h0.9v0.9h-0.9zM44.8 246.9h0.9v0.9h-0.9zM103.5 306.0h0.9v0.9h-0.9z" fill="rgb(180,180,180)"/>
<path d="M42.8 281.1h0.9v0.9h-0.9zM49.4 293.6h0.9v0.9h-0.9zM28.0 291.5h0.9v0.9h-0.9zM76.5 279.0h0.9v0.9h-0.9zM78.1 319.0h0.9v0.9h-0.9zM30.9 331.3h0.9v0.9h-0.9zM67.6 306.6h0.9v0.9h-0.9zM84.9 273.3h0.9v0.9h-0.9zM21.1 299.4h0.9v0.9h-0.9zM63.4 330.6h0.9v0.9h-0.9zM56.5 272.9h0.9v0.9h-0.9z" fill="rgb(150,150,150)"/>
<path d="M54.3 322.7h0.9v0.9h-0.9zM96.1 296.7h0.9v0.9h-0.9zM89.6 325.4h0.9v0.9h-0.9zM49.4 319.7h0.9v0.9h-0.9z" fill="rgb(135,135,135)"/>
<path d="M45.8 336.2h0.9v0.9h-0.9zM80.0 318.9h0.9v0.9h-0.9zM68.7 322.2h0.9v0.9h-0.9zM106.2 326.0h0.9v0.9h-0.9zM24.0 306.0h0.9v0.9h-0.9zM42.9 312.0h0.9v0.9h-0.9z" fill="rgb(195,195,195)"/>
<path d="M22.9 326.7h0.9v0.9h-0.9zM26.4 325.4h0.9v0.9h-0.9zM33.0 317.0h0.9v0.9h-0.9zM49.8 328.3h0.9v0.9h-0.9zM29.6 335.0h0.9v0.9h-0.9zM28.2 331.8h0.9v0.9h-0.9zM24.8 325.6h0.9v0.9h-0.9zM31.6 315.0h0.9v0.9h-0.9zM26.4 323.6h0.9v0.9h-0.9zM32.0 316.5h0.9v0.9h-0.9zM30.7 312.3h0.9v0.9h-0.9zM31.2 336.9h0.9v0.9h-0.9zM37.9 319.7h0.9v0.9h-0.9zM26.7 337.6h0.9v0.9h-0.9zM23.4 321.0h0.9v0.9h-0.9zM30.1 331.8h0.9v0.9h-0.9zM37.4 328.1h0.9v0.9h-0.9zM36.9 325.9h0.9v0.9h-0.9zM22.0 334.3h0.9v0.9h-0.9zM24.1 330.8h0.9v0.9h-0.9z" fill="rgb(150,150,150)"/>
<path d="M26.1 332.4h0.9v0.9h-0.9zM26.5 333.3h0.9v0.9h-0.9zM30.9 339.3h0.9v0.9h-0.9zM29.2 317.4h0.9v0.9h-0.9zM29.0 335.3h0.9v0.9h-0.9zM36.2 314.0h0.9v0.9h-0.9zM20.1 316.3h0.9v0.9h-0.9zM39.4 333.0h0.9v0.9h-0.9zM36.2 324.4h0.9v0.9h-0.9zM37.1 328.7h0.9v0.9h-0.9zM39.1 329.2h0.9v0.9h-0.9zM26.1 308.6h0.9v0.9h-0.9zM36.4 313.9h0.9v0.9h-0.9zM35.2 333.1h0.9v0.9h-0.9z" fill="rgb(180,180,180)"/>
<path d="M24.8 317.4h0.9v0.9h-0.9zM35.1 315.5h0.9v0.9h-0.9zM35.4 303.8h0.9v0.9h-0.9zM23.8 325.9h0.9v0.9h-0.9zM29.3 334.8h0.9v0.9h-0.9zM32.5 334.0h0.9v0.9h-0.9zM31.0 314.8h0.9v0.9h-0.9zM36.3 321.8h0.9v0.9h-0.9zM32.6 316.8h0.9v0.9h-0.9zM40.4 314.0h0.9v0.9h-0.9zM29.1 332.2h0.9v0.9h-0.9zM32.7 321.7h0.9v0.9h-0.9zM44.5 331.2h0.9v0.9h-0.9zM23.9 325.2h0.9v0.9h-0.9zM23.2 326.2h0.9v0.9h-0.9zM35.7 319.6h0.9v0.9h-0.9zM30.5 339.2h0.9v0.9h-0.9zM41.5 326.2h0.9v0.9h-0.9z" fill="rgb(195,195,195)"/>
<path d="M39.0 327.2h0.9v0.9h-0.9zM22.2 325.4h0.9v0.9h-0.9zM34.6 322.7h0.9v0.9h-0.9zM20.9 317.5h0.9v0.9h-0.9zM34.5 329.2h0.9v0.9h-0.9z" fill="rgb(135,135,135)"/>
<path d="M34.0 315.1h0.9v0.9h-0.9zM23.0 332.6h0.9v0.9h-0.9zM28.6 315.5h0.9v0.9h-0.9z" fill="rgb(210,210,210)"/>
<path d="M25.0 323.9h0.9v0.9h-0.9zM24.6 330.0h0.9v0.9h-0.9zM24.4 319.1h0.9v0.9h-0.9zM28.0 332.6h0.9v0.9h-0.9zM36.4 324.6h0.9v0.9h-0.9zM26.5 316.4h0.9v0.9h-0.9zM24.6 326.0h0.9v0.9h-0.9zM41.5 334.2h0.9v0.9h-0.9zM39.2 328.3h0.9v0.9h-0.9zM25.1 319.8h0.9v0.9h-0.9zM36.0 333.5h0.9v0.9h-0.9zM32.1 315.2h0.9v0.9h-0.9zM36.9 332.8h0.9v0.9h-0.9zM34.8 332.1h0.9v0.9h-0.9zM28.0 313.5h0.9v0.9h-0.9zM33.2 314.8h0.9v0.9h-0.9zM30.8 313.9h0.9v0.9h-0.9zM29.4 337.5h0.9v0.9h-0.9zM29.6 335.8h0.9v0.9h-0.9zM25.1 325.1h0.9v0.9h-0.9z" fill="rgb(165,165,165)"/>
<ellipse cx="31.0" cy="325.0" rx="6.30" ry="9.00" fill="rgb(180,180,180)" stroke="#2a2a2a" stroke-width="0.7"/>
<ellipse cx="31.0" cy="325.0" rx="5.04" ry="7.20" fill="rgb(120,120,120)" stroke="#2a2a2a" stroke-width="0.7"/>
<ellipse cx="31.0" cy="325.0" rx="3.78" ry="5.40" fill="rgb(80,80,80)" stroke="#2a2a2a" stroke-width="0.7"/>
<ellipse cx="31.0" cy="325.0" rx="2.52" ry="3.60" fill="rgb(95,95,95)" stroke="#2a2a2a" stroke-width="0.7"/>
<path d="M75.7,255.5C77.7,254.8 79.4,256.2 81.0,257.5C82.6,258.8 84.6,259.2 85.5,263.0C86.4,266.8 86.5,274.2 86.4,280.0C86.3,285.8 85.9,292.7 85.0,298.0C84.1,303.3 82.5,307.7 81.0,312.0C79.5,316.3 77.8,320.9 76.0,324.0C74.2,327.1 72.3,329.7 70.0,330.7C67.7,331.7 64.1,331.6 62.0,330.2C59.9,328.8 58.4,326.2 57.5,322.0C56.6,317.8 56.3,310.3 56.5,305.0C56.7,299.7 57.4,295.0 58.5,290.0C59.6,285.0 61.2,279.7 63.0,275.0C64.8,270.3 66.9,265.2 69.0,262.0C71.1,258.8 73.7,256.2 75.7,255.5Z" fill="rgb(250,250,250)" stroke="#2a2a2a" stroke-width="0.7"/>
<path d="M75.2,259.6C77.0,258.9 78.5,260.2 80.0,261.4C81.5,262.5 83.2,262.9 84.0,266.3C84.9,269.7 84.9,276.4 84.9,281.6C84.8,286.9 84.4,293.0 83.6,297.8C82.8,302.6 81.3,306.5 80.0,310.4C78.7,314.3 77.2,318.4 75.5,321.2C73.8,324.0 72.2,326.3 70.1,327.2C68.0,328.2 64.8,328.1 62.9,326.8C61.0,325.5 59.7,323.2 58.9,319.4C58.0,315.6 57.8,308.9 58.0,304.1C58.1,299.3 58.8,295.1 59.8,290.6C60.7,286.1 62.2,281.3 63.8,277.1C65.4,272.9 67.3,268.3 69.2,265.4C71.1,262.5 73.4,260.2 75.2,259.6Z" fill="rgb(246,246,246)" stroke="#2a2a2a" stroke-width="0.7"/>
<path d="M74.8,263.6C76.4,263.0 77.7,264.2 79.0,265.2C80.3,266.2 81.9,266.6 82.6,269.6C83.3,272.6 83.4,278.5 83.3,283.2C83.3,287.9 82.9,293.3 82.2,297.6C81.5,301.9 80.2,305.3 79.0,308.8C77.8,312.3 76.5,315.9 75.0,318.4C73.5,320.9 72.1,322.9 70.2,323.8C68.3,324.6 65.5,324.5 63.8,323.4C62.1,322.2 60.9,320.2 60.2,316.8C59.5,313.4 59.3,307.5 59.4,303.2C59.5,298.9 60.1,295.2 61.0,291.2C61.9,287.2 63.2,282.9 64.6,279.2C66.0,275.5 67.7,271.4 69.4,268.8C71.1,266.2 73.2,264.2 74.8,263.6Z" fill="rgb(240,240,240)" stroke="#2a2a2a" stroke-width="0.7"/>
<path d="M74.3,267.6C75.7,267.1 76.9,268.2 78.0,269.1C79.1,269.9 80.5,270.3 81.2,272.9C81.8,275.5 81.8,280.7 81.8,284.8C81.7,288.9 81.4,293.7 80.8,297.4C80.2,301.1 79.0,304.2 78.0,307.2C77.0,310.2 75.8,313.4 74.5,315.6C73.2,317.8 71.9,319.6 70.3,320.3C68.7,321.0 66.2,321.0 64.7,319.9C63.2,318.9 62.2,317.1 61.5,314.2C60.9,311.3 60.7,306.0 60.9,302.3C61.0,298.6 61.5,295.3 62.2,291.8C63.0,288.3 64.2,284.6 65.4,281.3C66.6,278.0 68.1,274.5 69.6,272.2C71.1,269.9 72.9,268.2 74.3,267.6Z" fill="rgb(230,230,230)" stroke="#2a2a2a" stroke-width="0.7"/>
<path d="M73.8,271.7C75.0,271.2 76.0,272.1 77.0,272.9C78.0,273.6 79.2,273.9 79.7,276.2C80.2,278.4 80.3,282.9 80.2,286.4C80.2,289.9 79.9,294.0 79.4,297.2C78.9,300.4 77.9,303.0 77.0,305.6C76.1,308.2 75.1,310.9 74.0,312.8C72.9,314.7 71.8,316.2 70.4,316.8C69.0,317.4 66.8,317.4 65.6,316.5C64.3,315.6 63.4,314.1 62.9,311.6C62.4,309.1 62.2,304.6 62.3,301.4C62.4,298.2 62.9,295.4 63.5,292.4C64.2,289.4 65.2,286.2 66.2,283.4C67.2,280.6 68.5,277.6 69.8,275.6C71.1,273.7 72.6,272.1 73.8,271.7Z" fill="rgb(215,215,215)" stroke="#2a2a2a" stroke-width="0.7"/>
<path d="M76.0,258.5C77.8,258.2 79.2,259.6 80.5,261.5C81.8,263.4 83.0,266.1 83.5,270.0C84.0,273.9 83.8,280.3 83.6,285.0C83.4,289.7 83.1,294.5 82.5,298.0C81.9,301.5 81.2,304.0 80.0,306.0C78.8,308.0 77.2,309.7 75.0,310.0C72.8,310.3 69.0,309.7 67.0,308.0C65.0,306.3 63.8,303.3 63.0,300.0C62.2,296.7 62.2,292.2 62.5,288.0C62.8,283.8 63.8,279.2 65.0,275.0C66.2,270.8 68.2,265.8 70.0,263.0C71.8,260.2 74.2,258.8 76.0,258.5Z" fill="rgb(110,110,110)" stroke="#2a2a2a" stroke-width="0.6"/>
<path d="M75.8,261.6C77.4,261.3 78.7,262.5 79.8,264.2C80.9,265.9 82.0,268.2 82.4,271.7C82.9,275.1 82.7,280.8 82.5,284.9C82.4,289.0 82.1,293.2 81.5,296.3C81.0,299.4 80.4,301.6 79.3,303.4C78.2,305.1 76.8,306.6 74.9,306.9C73.0,307.2 69.7,306.6 67.9,305.1C66.1,303.7 65.0,301.0 64.4,298.1C63.7,295.1 63.6,291.2 63.9,287.5C64.2,283.9 65.0,279.7 66.1,276.1C67.2,272.4 68.9,267.9 70.5,265.5C72.2,263.1 74.3,261.8 75.8,261.6Z" fill="rgb(80,80,80)" stroke="#2a2a2a" stroke-width="0.6"/>
<path d="M75.6,264.6C77.0,264.4 78.1,265.4 79.1,266.9C80.0,268.4 80.9,270.4 81.3,273.4C81.7,276.3 81.5,281.2 81.4,284.8C81.3,288.3 81.0,292.0 80.6,294.6C80.1,297.3 79.6,299.2 78.7,300.7C77.7,302.2 76.5,303.5 74.9,303.8C73.2,304.0 70.3,303.5 68.8,302.2C67.3,301.0 66.3,298.7 65.8,296.2C65.2,293.6 65.1,290.2 65.4,287.0C65.6,283.9 66.3,280.3 67.3,277.2C68.2,274.0 69.7,270.1 71.1,268.0C72.5,266.0 74.3,264.8 75.6,264.6Z" fill="rgb(62,62,62)" stroke="#2a2a2a" stroke-width="0.6"/>
<path d="M75.5,267.7C76.6,267.5 77.5,268.4 78.3,269.6C79.1,270.8 79.9,272.5 80.3,275.0C80.6,277.5 80.4,281.7 80.3,284.6C80.2,287.6 80.0,290.7 79.6,293.0C79.2,295.2 78.8,296.8 78.0,298.1C77.2,299.4 76.2,300.4 74.8,300.6C73.4,300.9 71.0,300.4 69.7,299.4C68.4,298.3 67.6,296.4 67.1,294.2C66.7,292.1 66.6,289.2 66.8,286.6C67.0,283.9 67.6,280.9 68.4,278.2C69.2,275.6 70.4,272.3 71.6,270.6C72.8,268.8 74.3,267.8 75.5,267.7Z" fill="rgb(52,52,52)" stroke="#2a2a2a" stroke-width="0.6"/>
<path d="M75.2,271.2C76.1,271.1 76.9,271.8 77.5,272.8C78.1,273.7 78.7,275.0 79.0,277.0C79.3,279.0 79.1,282.2 79.0,284.5C79.0,286.8 78.8,289.2 78.5,291.0C78.2,292.8 77.9,294.0 77.2,295.0C76.6,296.0 75.8,296.8 74.8,297.0C73.7,297.2 71.8,296.8 70.8,296.0C69.8,295.2 69.1,293.7 68.8,292.0C68.4,290.3 68.3,288.1 68.5,286.0C68.7,283.9 69.1,281.6 69.8,279.5C70.4,277.4 71.3,274.9 72.2,273.5C73.2,272.1 74.4,271.4 75.2,271.2Z" fill="rgb(50,50,50)" stroke="#2a2a2a" stroke-width="0.6"/>
<path d="M75.0,274.8C75.7,274.7 76.2,275.2 76.7,275.9C77.1,276.6 77.6,277.5 77.7,279.0C77.9,280.4 77.8,282.7 77.8,284.4C77.7,286.0 77.6,287.8 77.4,289.0C77.2,290.3 76.9,291.2 76.5,291.9C76.0,292.6 75.5,293.2 74.7,293.4C73.9,293.5 72.5,293.2 71.8,292.6C71.1,292.0 70.6,291.0 70.4,289.8C70.1,288.6 70.1,286.9 70.2,285.4C70.3,283.9 70.6,282.3 71.1,280.8C71.5,279.3 72.2,277.4 72.9,276.4C73.5,275.4 74.4,274.9 75.0,274.8Z" fill="rgb(65,65,65)" stroke="#2a2a2a" stroke-width="0.6"/>
<ellipse cx="74.5" cy="284" rx="0.9" ry="10" fill="#aaa"/>
<path d="M17.5 314.3H114.5" stroke="#a0a0cc" stroke-width="1.3"/>
<path d="M50.2 244.5V342.2" stroke="#7070d0" stroke-width="1"/>
<rect x="17.5" y="244.5" width="97.0" height="97.7" fill="none" stroke="#4a4a4a" stroke-width="1.2"/>
<text transform="translate(18.48,254.80) scale(0.944,1)" font-size="8.90">2%</text>
<text transform="translate(94.64,254.80) scale(0.964,1)" font-size="8.90">81%</text>
<text transform="translate(17.26,340.80) scale(0.957,1)" font-size="8.90">10%</text>
<text transform="translate(99.92,340.80) scale(1.004,1)" font-size="8.90">8%</text>
<path d="M21.5 342.8v1.8M23.5 342.8v1.8M25.5 342.8v1.8M27.5 342.8v1.8M29.5 342.8v1.8M31.5 342.8v1.8M33.5 342.8v1.8M35.5 342.8v1.8M37.5 342.8v1.8M41.5 342.8v1.8M47.5 342.8v1.8M51.5 342.8v1.8M57.5 342.8v1.8M67.5 342.8v1.8M77.5 342.8v1.8M87.5 342.8v1.8M97.5 342.8v1.8M107.5 342.8v1.8" stroke="#888" stroke-width="0.7"/>
<rect x="29.0" y="343.0" width="2.4" height="2" fill="#222"/>
<rect x="15.6" y="326.0" width="1.5" height="2" fill="#222"/>
<path d="M15.3 256.5h2.2M15.3 263.5h2.2M15.3 267.5h2.2M15.3 270.5h2.2M15.3 272.5h2.2M15.3 274.5h2.2M15.3 276.0h2.2M15.3 277.5h2.2M15.3 279.0h2.2M15.3 280.5h2.2M15.3 284.5h2.2M15.3 291.5h2.2M15.3 295.5h2.2M15.3 298.5h2.2M15.3 300.5h2.2M15.3 302.5h2.2M15.3 304.0h2.2M15.3 305.5h2.2M15.3 307.0h2.2M15.3 308.5h2.2M15.3 312.5h2.2M15.3 319.5h2.2M15.3 323.5h2.2M15.3 326.5h2.2M15.3 328.5h2.2M15.3 330.5h2.2M15.3 332.0h2.2M15.3 333.5h2.2M15.3 335.0h2.2M15.3 336.5h2.2" stroke="#777" stroke-width="0.7"/>
<path d="M136.2 312.0h0.9v0.9h-0.9zM179.7 287.5h0.9v0.9h-0.9zM156.9 286.9h0.9v0.9h-0.9zM143.1 306.5h0.9v0.9h-0.9zM175.9 280.4h0.9v0.9h-0.9zM182.9 302.3h0.9v0.9h-0.9zM122.0 321.6h0.9v0.9h-0.9zM155.2 278.1h0.9v0.9h-0.9zM167.4 285.8h0.9v0.9h-0.9zM133.7 311.1h0.9v0.9h-0.9zM139.4 330.6h0.9v0.9h-0.9zM130.1 324.4h0.9v0.9h-0.9zM179.9 327.2h0.9v0.9h-0.9zM146.5 299.5h0.9v0.9h-0.9zM184.3 324.6h0.9v0.9h-0.9zM123.7 332.4h0.9v0.9h-0.9zM128.4 331.9h0.9v0.9h-0.9zM134.8 312.6h0.9v0.9h-0.9zM169.0 284.6h0.9v0.9h-0.9zM152.1 296.5h0.9v0.9h-0.9zM177.5 279.2h0.9v0.9h-0.9zM160.7 280.5h0.9v0.9h-0.9zM144.6 335.1h0.9v0.9h-0.9zM184.3 305.2h0.9v0.9h-0.9zM137.5 327.9h0.9v0.9h-0.9zM183.0 294.3h0.9v0.9h-0.9zM132.9 317.4h0.9v0.9h-0.9zM189.6 323.9h0.9v0.9h-0.9zM129.2 320.2h0.9v0.9h-0.9zM126.9 334.4h0.9v0.9h-0.9zM139.0 302.1h0.9v0.9h-0.9zM142.7 305.6h0.9v0.9h-0.9zM127.4 306.1h0.9v0.9h-0.9zM136.5 332.9h0.9v0.9h-0.9zM131.0 309.6h0.9v0.9h-0.9zM172.3 333.9h0.9v0.9h-0.9zM127.8 334.9h0.9v0.9h-0.9zM186.7 321.6h0.9v0.9h-0.9zM125.5 307.3h0.9v0.9h-0.9zM176.1 336.8h0.9v0.9h-0.9zM169.4 282.2h0.9v0.9h-0.9zM165.7 279.8h0.9v0.9h-0.9zM135.5 331.4h0.9v0.9h-0.9zM146.0 336.9h0.9v0.9h-0.9zM167.9 284.5h0.9v0.9h-0.9zM143.1 331.7h0.9v0.9h-0.9zM183.6 282.2h0.9v0.9h-0.9zM147.1 305.0h0.9v0.9h-0.9zM141.3 330.8h0.9v0.9h-0.9zM188.4 325.1h0.9v0.9h-0.9zM179.6 337.1h0.9v0.9h-0.9zM149.3 292.3h0.9v0.9h-0.9zM130.9 318.0h0.9v0.9h-0.9zM177.2 330.8h0.9v0.9h-0.9zM124.0 326.0h0.9v0.9h-0.9zM183.6 298.5h0.9v0.9h-0.9zM132.0 312.3h0.9v0.9h-0.9zM128.3 316.5h0.9v0.9h-0.9zM140.4 330.9h0.9v0.9h-0.9zM184.0 303.3h0.9v0.9h-0.9zM150.7 292.7h0.9v0.9h-0.9zM182.3 296.9h0.9v0.9h-0.9zM152.6 298.3h0.9v0.9h-0.9zM129.5 308.7h0.9v0.9h-0.9zM184.2 325.0h0.9v0.9h-0.9zM161.7 333.2h0.9v0.9h-0.9zM131.8 335.4h0.9v0.9h-0.9zM169.1 284.5h0.9v0.9h-0.9zM175.5 285.0h0.9v0.9h-0.9zM191.8 285.4h0.9v0.9h-0.9zM148.9 330.9h0.9v0.9h-0.9zM144.4 332.6h0.9v0.9h-0.9zM151.2 305.5h0.9v0.9h-0.9zM145.5 330.5h0.9v0.9h-0.9zM164.4 290.7h0.9v0.9h-0.9zM156.2 278.4h0.9v0.9h-0.9zM178.1 329.0h0.9v0.9h-0.9zM161.7 292.5h0.9v0.9h-0.9zM133.5 334.3h0.9v0.9h-0.9zM134.2 333.8h0.9v0.9h-0.9zM172.8 280.3h0.9v0.9h-0.9zM124.2 316.1h0.9v0.9h-0.9zM171.0 282.0h0.9v0.9h-0.9zM124.1 309.3h0.9v0.9h-0.9zM142.7 331.7h0.9v0.9h-0.9zM180.2 268.0h0.9v0.9h-0.9zM155.1 303.7h0.9v0.9h-0.9zM154.5 297.1h0.9v0.9h-0.9zM179.3 283.1h0.9v0.9h-0.9zM148.0 301.8h0.9v0.9h-0.9zM137.0 333.6h0.9v0.9h-0.9zM166.5 286.6h0.9v0.9h-0.9zM173.5 273.5h0.9v0.9h-0.9zM163.0 286.2h0.9v0.9h-0.9zM189.8 315.9h0.9v0.9h-0.9zM141.8 339.2h0.9v0.9h-0.9zM135.2 309.6h0.9v0.9h-0.9zM170.6 275.1h0.9v0.9h-0.9zM156.2 295.9h0.9v0.9h-0.9zM168.1 337.0h0.9v0.9h-0.9zM178.8 266.5h0.9v0.9h-0.9zM157.6 291.2h0.9v0.9h-0.9zM162.1 289.4h0.9v0.9h-0.9zM148.6 336.0h0.9v0.9h-0.9zM152.0 331.6h0.9v0.9h-0.9zM175.0 283.3h0.9v0.9h-0.9zM146.3 293.2h0.9v0.9h-0.9zM184.1 300.1h0.9v0.9h-0.9zM125.0 308.6h0.9v0.9h-0.9zM148.5 303.0h0.9v0.9h-0.9zM155.4 297.1h0.9v0.9h-0.9zM138.0 312.9h0.9v0.9h-0.9zM169.2 335.8h0.9v0.9h-0.9zM184.3 320.4h0.9v0.9h-0.9zM138.6 309.7h0.9v0.9h-0.9zM147.5 305.1h0.9v0.9h-0.9z" fill="rgb(195,195,195)"/>
<path d="M129.2 327.7h0.9v0.9h-0.9zM138.0 299.3h0.9v0.9h-0.9zM156.6 287.4h0.9v0.9h-0.9zM156.1 299.7h0.9v0.9h-0.9zM171.8 280.1h0.9v0.9h-0.9zM180.8 331.6h0.9v0.9h-0.9zM136.6 311.6h0.9v0.9h-0.9zM160.7 291.4h0.9v0.9h-0.9zM148.9 303.0h0.9v0.9h-0.9zM153.9 298.9h0.9v0.9h-0.9zM143.5 297.3h0.9v0.9h-0.9zM137.1 310.4h0.9v0.9h-0.9zM140.4 305.2h0.9v0.9h-0.9zM152.7 333.3h0.9v0.9h-0.9zM184.8 325.7h0.9v0.9h-0.9zM185.5 296.1h0.9v0.9h-0.9zM142.7 311.4h0.9v0.9h-0.9zM148.0 332.9h0.9v0.9h-0.9zM142.5 331.4h0.9v0.9h-0.9zM158.7 287.9h0.9v0.9h-0.9zM185.7 320.8h0.9v0.9h-0.9zM182.6 296.0h0.9v0.9h-0.9zM167.6 288.0h0.9v0.9h-0.9zM133.3 331.7h0.9v0.9h-0.9zM171.3 277.2h0.9v0.9h-0.9zM177.7 271.9h0.9v0.9h-0.9zM182.9 290.9h0.9v0.9h-0.9zM123.1 317.6h0.9v0.9h-0.9zM159.4 337.2h0.9v0.9h-0.9zM122.9 335.2h0.9v0.9h-0.9zM164.1 333.9h0.9v0.9h-0.9zM184.6 309.8h0.9v0.9h-0.9zM183.3 299.1h0.9v0.9h-0.9zM134.5 311.3h0.9v0.9h-0.9zM125.9 321.3h0.9v0.9h-0.9zM172.6 280.6h0.9v0.9h-0.9zM166.0 332.5h0.9v0.9h-0.9zM160.4 332.6h0.9v0.9h-0.9zM124.0 324.8h0.9v0.9h-0.9zM131.6 336.9h0.9v0.9h-0.9zM128.0 333.7h0.9v0.9h-0.9zM177.2 290.2h0.9v0.9h-0.9zM152.0 333.2h0.9v0.9h-0.9zM157.9 333.5h0.9v0.9h-0.9zM155.6 280.9h0.9v0.9h-0.9zM170.6 334.8h0.9v0.9h-0.9zM181.7 287.3h0.9v0.9h-0.9zM181.7 274.1h0.9v0.9h-0.9zM130.6 315.5h0.9v0.9h-0.9zM172.1 335.3h0.9v0.9h-0.9zM126.4 321.1h0.9v0.9h-0.9zM138.3 307.7h0.9v0.9h-0.9zM181.0 331.1h0.9v0.9h-0.9zM152.6 332.2h0.9v0.9h-0.9zM141.7 305.2h0.9v0.9h-0.9zM154.0 299.2h0.9v0.9h-0.9zM129.7 327.3h0.9v0.9h-0.9zM179.4 295.8h0.9v0.9h-0.9zM128.0 316.6h0.9v0.9h-0.9zM127.4 322.6h0.9v0.9h-0.9zM157.9 266.9h0.9v0.9h-0.9zM169.0 273.4h0.9v0.9h-0.9zM175.7 335.6h0.9v0.9h-0.9zM128.3 327.7h0.9v0.9h-0.9zM133.1 311.5h0.9v0.9h-0.9zM183.2 323.3h0.9v0.9h-0.9zM163.1 337.2h0.9v0.9h-0.9zM176.3 279.8h0.9v0.9h-0.9zM149.4 302.6h0.9v0.9h-0.9zM154.8 291.2h0.9v0.9h-0.9zM176.5 286.5h0.9v0.9h-0.9zM174.6 275.9h0.9v0.9h-0.9zM132.9 335.4h0.9v0.9h-0.9zM153.0 330.1h0.9v0.9h-0.9zM186.4 313.0h0.9v0.9h-0.9zM187.9 323.4h0.9v0.9h-0.9zM182.8 327.3h0.9v0.9h-0.9zM164.6 289.6h0.9v0.9h-0.9zM184.4 326.9h0.9v0.9h-0.9zM135.3 332.9h0.9v0.9h-0.9zM130.8 322.0h0.9v0.9h-0.9zM174.1 330.9h0.9v0.9h-0.9zM185.2 327.1h0.9v0.9h-0.9zM179.2 282.5h0.9v0.9h-0.9zM186.6 296.7h0.9v0.9h-0.9zM133.6 330.9h0.9v0.9h-0.9zM184.2 317.2h0.9v0.9h-0.9zM139.9 331.1h0.9v0.9h-0.9zM196.7 288.0h0.9v0.9h-0.9zM149.6 296.8h0.9v0.9h-0.9zM179.3 279.1h0.9v0.9h-0.9zM183.8 294.4h0.9v0.9h-0.9zM177.0 283.0h0.9v0.9h-0.9zM173.7 271.5h0.9v0.9h-0.9zM182.7 286.2h0.9v0.9h-0.9zM164.0 288.2h0.9v0.9h-0.9zM130.5 310.3h0.9v0.9h-0.9zM131.1 323.5h0.9v0.9h-0.9zM129.1 320.5h0.9v0.9h-0.9zM189.2 336.2h0.9v0.9h-0.9z" fill="rgb(150,150,150)"/>
<path d="M159.4 335.6h0.9v0.9h-0.9zM186.2 300.3h0.9v0.9h-0.9zM191.2 290.7h0.9v0.9h-0.9zM141.4 311.2h0.9v0.9h-0.9zM140.9 307.3h0.9v0.9h-0.9zM123.6 330.9h0.9v0.9h-0.9zM184.1 295.9h0.9v0.9h-0.9zM186.1 284.5h0.9v0.9h-0.9zM178.8 274.7h0.9v0.9h-0.9zM155.0 331.9h0.9v0.9h-0.9zM123.8 325.4h0.9v0.9h-0.9zM168.4 262.3h0.9v0.9h-0.9zM180.2 295.8h0.9v0.9h-0.9zM173.6 277.2h0.9v0.9h-0.9zM152.8 304.0h0.9v0.9h-0.9zM140.7 331.2h0.9v0.9h-0.9zM137.4 331.6h0.9v0.9h-0.9zM197.7 336.6h0.9v0.9h-0.9zM126.1 331.0h0.9v0.9h-0.9zM154.5 301.6h0.9v0.9h-0.9zM158.6 294.1h0.9v0.9h-0.9zM154.2 330.4h0.9v0.9h-0.9zM184.9 297.4h0.9v0.9h-0.9zM141.0 340.3h0.9v0.9h-0.9zM137.7 331.9h0.9v0.9h-0.9zM153.0 298.6h0.9v0.9h-0.9zM164.3 289.6h0.9v0.9h-0.9zM133.4 308.2h0.9v0.9h-0.9zM128.8 317.3h0.9v0.9h-0.9zM185.7 316.8h0.9v0.9h-0.9zM153.6 289.3h0.9v0.9h-0.9zM145.5 335.5h0.9v0.9h-0.9zM176.1 281.5h0.9v0.9h-0.9zM202.0 310.1h0.9v0.9h-0.9zM182.9 285.2h0.9v0.9h-0.9zM131.9 334.9h0.9v0.9h-0.9zM137.3 308.3h0.9v0.9h-0.9zM124.2 318.4h0.9v0.9h-0.9zM197.6 290.4h0.9v0.9h-0.9zM163.7 334.7h0.9v0.9h-0.9zM148.9 301.8h0.9v0.9h-0.9zM133.1 313.0h0.9v0.9h-0.9zM182.7 291.3h0.9v0.9h-0.9zM142.6 334.2h0.9v0.9h-0.9zM168.4 282.2h0.9v0.9h-0.9zM139.8 309.7h0.9v0.9h-0.9zM131.5 319.7h0.9v0.9h-0.9zM182.0 302.7h0.9v0.9h-0.9zM180.1 286.1h0.9v0.9h-0.9zM184.6 297.6h0.9v0.9h-0.9zM154.8 333.9h0.9v0.9h-0.9zM185.8 297.6h0.9v0.9h-0.9zM180.8 313.4h0.9v0.9h-0.9zM175.7 281.6h0.9v0.9h-0.9zM149.1 338.1h0.9v0.9h-0.9zM133.5 337.8h0.9v0.9h-0.9zM180.0 290.5h0.9v0.9h-0.9zM127.4 314.0h0.9v0.9h-0.9zM188.3 302.1h0.9v0.9h-0.9zM138.0 293.9h0.9v0.9h-0.9zM187.0 327.7h0.9v0.9h-0.9zM177.4 278.6h0.9v0.9h-0.9zM134.8 311.1h0.9v0.9h-0.9zM123.4 307.1h0.9v0.9h-0.9zM134.8 333.4h0.9v0.9h-0.9zM126.5 328.0h0.9v0.9h-0.9zM158.1 293.5h0.9v0.9h-0.9zM175.1 281.8h0.9v0.9h-0.9zM165.9 287.0h0.9v0.9h-0.9zM152.5 298.9h0.9v0.9h-0.9zM124.5 320.7h0.9v0.9h-0.9zM156.1 290.1h0.9v0.9h-0.9zM184.8 333.4h0.9v0.9h-0.9zM181.4 287.4h0.9v0.9h-0.9zM193.9 315.3h0.9v0.9h-0.9zM196.4 290.3h0.9v0.9h-0.9zM133.0 282.1h0.9v0.9h-0.9zM172.9 283.6h0.9v0.9h-0.9zM158.7 334.0h0.9v0.9h-0.9zM127.3 323.4h0.9v0.9h-0.9zM137.7 295.2h0.9v0.9h-0.9zM184.4 330.0h0.9v0.9h-0.9zM183.0 290.8h0.9v0.9h-0.9zM182.7 265.3h0.9v0.9h-0.9zM185.6 331.4h0.9v0.9h-0.9zM193.4 295.9h0.9v0.9h-0.9zM139.8 294.6h0.9v0.9h-0.9zM140.2 309.1h0.9v0.9h-0.9zM127.9 318.9h0.9v0.9h-0.9zM166.0 335.3h0.9v0.9h-0.9zM130.1 311.3h0.9v0.9h-0.9zM165.7 286.8h0.9v0.9h-0.9zM155.1 302.2h0.9v0.9h-0.9zM167.2 333.6h0.9v0.9h-0.9zM147.9 333.9h0.9v0.9h-0.9zM134.4 335.3h0.9v0.9h-0.9zM149.5 301.7h0.9v0.9h-0.9zM172.6 332.6h0.9v0.9h-0.9zM134.5 330.7h0.9v0.9h-0.9zM190.2 329.2h0.9v0.9h-0.9zM130.7 317.9h0.9v0.9h-0.9zM167.6 283.3h0.9v0.9h-0.9zM182.9 291.5h0.9v0.9h-0.9zM158.3 291.7h0.9v0.9h-0.9zM139.2 311.4h0.9v0.9h-0.9zM161.6 288.8h0.9v0.9h-0.9zM121.8 335.9h0.9v0.9h-0.9zM170.0 284.3h0.9v0.9h-0.9zM152.4 333.6h0.9v0.9h-0.9zM187.3 299.0h0.9v0.9h-0.9zM189.0 329.3h0.9v0.9h-0.9zM162.0 335.0h0.9v0.9h-0.9zM134.2 316.3h0.9v0.9h-0.9zM130.1 313.1h0.9v0.9h-0.9zM136.7 312.3h0.9v0.9h-0.9zM131.0 316.1h0.9v0.9h-0.9zM171.3 282.6h0.9v0.9h-0.9zM183.6 311.3h0.9v0.9h-0.9zM156.5 289.2h0.9v0.9h-0.9z" fill="rgb(165,165,165)"/>
<path d="M172.5 275.3h0.9v0.9h-0.9zM145.1 302.7h0.9v0.9h-0.9zM183.6 289.1h0.9v0.9h-0.9zM139.3 309.1h0.9v0.9h-0.9zM165.5 284.9h0.9v0.9h-0.9zM139.4 310.2h0.9v0.9h-0.9zM130.2 312.0h0.9v0.9h-0.9zM163.3 332.8h0.9v0.9h-0.9zM140.0 331.4h0.9v0.9h-0.9zM146.2 296.5h0.9v0.9h-0.9zM174.7 339.8h0.9v0.9h-0.9zM160.0 334.6h0.9v0.9h-0.9zM162.2 292.1h0.9v0.9h-0.9zM144.0 310.6h0.9v0.9h-0.9zM163.4 289.8h0.9v0.9h-0.9zM154.6 330.3h0.9v0.9h-0.9zM137.5 331.0h0.9v0.9h-0.9zM177.5 280.2h0.9v0.9h-0.9zM147.0 302.1h0.9v0.9h-0.9zM138.6 311.7h0.9v0.9h-0.9zM178.3 280.1h0.9v0.9h-0.9zM187.2 292.3h0.9v0.9h-0.9zM133.6 310.6h0.9v0.9h-0.9zM182.9 277.1h0.9v0.9h-0.9zM130.5 305.5h0.9v0.9h-0.9zM190.4 284.6h0.9v0.9h-0.9zM165.0 292.7h0.9v0.9h-0.9zM138.8 308.7h0.9v0.9h-0.9zM134.6 330.7h0.9v0.9h-0.9zM170.1 331.6h0.9v0.9h-0.9zM183.6 311.0h0.9v0.9h-0.9zM149.0 337.9h0.9v0.9h-0.9zM126.6 333.3h0.9v0.9h-0.9zM184.4 281.5h0.9v0.9h-0.9zM183.3 301.0h0.9v0.9h-0.9zM176.6 285.3h0.9v0.9h-0.9zM137.6 311.9h0.9v0.9h-0.9zM185.6 332.6h0.9v0.9h-0.9zM139.1 306.7h0.9v0.9h-0.9zM138.0 304.6h0.9v0.9h-0.9zM148.9 298.7h0.9v0.9h-0.9zM127.3 320.3h0.9v0.9h-0.9zM143.2 331.2h0.9v0.9h-0.9zM188.9 331.0h0.9v0.9h-0.9zM127.0 309.5h0.9v0.9h-0.9zM168.7 335.5h0.9v0.9h-0.9zM137.7 335.4h0.9v0.9h-0.9zM145.9 308.0h0.9v0.9h-0.9zM129.9 333.5h0.9v0.9h-0.9zM136.0 313.3h0.9v0.9h-0.9zM178.8 288.9h0.9v0.9h-0.9zM160.8 289.2h0.9v0.9h-0.9zM169.6 330.9h0.9v0.9h-0.9zM176.7 275.7h0.9v0.9h-0.9zM125.6 327.4h0.9v0.9h-0.9zM164.2 332.4h0.9v0.9h-0.9zM128.5 323.1h0.9v0.9h-0.9z" fill="rgb(210,210,210)"/>
<path d="M180.9 268.9h0.9v0.9h-0.9zM134.0 331.5h0.9v0.9h-0.9zM157.5 295.3h0.9v0.9h-0.9zM155.7 293.5h0.9v0.9h-0.9zM183.1 302.6h0.9v0.9h-0.9zM177.8 330.4h0.9v0.9h-0.9zM156.8 299.4h0.9v0.9h-0.9zM189.8 334.1h0.9v0.9h-0.9zM152.2 333.4h0.9v0.9h-0.9zM157.1 278.9h0.9v0.9h-0.9zM123.2 331.4h0.9v0.9h-0.9zM143.5 308.2h0.9v0.9h-0.9zM186.0 287.3h0.9v0.9h-0.9zM165.3 288.7h0.9v0.9h-0.9zM182.3 291.1h0.9v0.9h-0.9zM150.2 339.9h0.9v0.9h-0.9zM143.6 337.0h0.9v0.9h-0.9zM152.8 302.5h0.9v0.9h-0.9zM153.0 331.5h0.9v0.9h-0.9zM134.4 303.7h0.9v0.9h-0.9zM143.0 306.0h0.9v0.9h-0.9zM181.6 323.1h0.9v0.9h-0.9zM173.6 281.3h0.9v0.9h-0.9zM130.2 315.1h0.9v0.9h-0.9zM152.4 337.6h0.9v0.9h-0.9zM182.6 274.0h0.9v0.9h-0.9zM136.6 331.5h0.9v0.9h-0.9zM128.1 316.5h0.9v0.9h-0.9zM183.6 326.8h0.9v0.9h-0.9zM181.0 326.5h0.9v0.9h-0.9zM135.1 309.4h0.9v0.9h-0.9zM184.9 291.9h0.9v0.9h-0.9zM149.3 338.6h0.9v0.9h-0.9zM147.1 329.7h0.9v0.9h-0.9zM141.6 297.1h0.9v0.9h-0.9zM132.6 311.1h0.9v0.9h-0.9zM182.8 280.2h0.9v0.9h-0.9zM129.8 313.5h0.9v0.9h-0.9zM159.6 274.8h0.9v0.9h-0.9zM196.5 276.8h0.9v0.9h-0.9zM186.7 283.6h0.9v0.9h-0.9zM138.3 311.8h0.9v0.9h-0.9zM184.2 285.6h0.9v0.9h-0.9zM128.7 309.7h0.9v0.9h-0.9zM190.4 280.4h0.9v0.9h-0.9zM127.0 330.1h0.9v0.9h-0.9zM178.7 293.5h0.9v0.9h-0.9zM131.4 317.2h0.9v0.9h-0.9zM139.7 309.2h0.9v0.9h-0.9zM164.8 333.5h0.9v0.9h-0.9zM128.9 322.7h0.9v0.9h-0.9zM176.4 280.5h0.9v0.9h-0.9zM125.9 333.3h0.9v0.9h-0.9zM174.6 274.1h0.9v0.9h-0.9zM181.3 282.3h0.9v0.9h-0.9zM128.5 316.4h0.9v0.9h-0.9zM149.1 296.2h0.9v0.9h-0.9zM123.9 335.7h0.9v0.9h-0.9zM184.2 314.6h0.9v0.9h-0.9zM155.7 301.3h0.9v0.9h-0.9zM170.5 332.4h0.9v0.9h-0.9zM167.3 287.6h0.9v0.9h-0.9zM165.0 289.4h0.9v0.9h-0.9z" fill="rgb(135,135,135)"/>
<path d="M159.7 294.8h0.9v0.9h-0.9zM131.2 309.3h0.9v0.9h-0.9zM135.7 310.4h0.9v0.9h-0.9zM139.2 310.0h0.9v0.9h-0.9zM188.6 284.9h0.9v0.9h-0.9zM150.0 299.9h0.9v0.9h-0.9zM123.1 329.9h0.9v0.9h-0.9zM157.2 331.3h0.9v0.9h-0.9zM129.2 325.4h0.9v0.9h-0.9zM131.7 332.6h0.9v0.9h-0.9zM132.7 309.5h0.9v0.9h-0.9zM124.0 318.8h0.9v0.9h-0.9zM150.6 302.5h0.9v0.9h-0.9zM146.8 332.4h0.9v0.9h-0.9zM137.0 308.7h0.9v0.9h-0.9zM144.4 302.1h0.9v0.9h-0.9zM155.7 299.6h0.9v0.9h-0.9zM177.6 284.0h0.9v0.9h-0.9zM169.1 276.7h0.9v0.9h-0.9zM152.6 335.2h0.9v0.9h-0.9zM126.1 335.5h0.9v0.9h-0.9zM145.6 332.1h0.9v0.9h-0.9zM124.4 335.2h0.9v0.9h-0.9zM186.3 298.8h0.9v0.9h-0.9zM181.8 314.1h0.9v0.9h-0.9zM182.9 293.4h0.9v0.9h-0.9zM185.7 326.0h0.9v0.9h-0.9zM143.3 292.5h0.9v0.9h-0.9zM125.3 317.0h0.9v0.9h-0.9zM133.7 308.3h0.9v0.9h-0.9zM150.9 337.1h0.9v0.9h-0.9zM180.6 264.1h0.9v0.9h-0.9zM167.3 332.5h0.9v0.9h-0.9zM159.6 298.5h0.9v0.9h-0.9zM132.8 309.1h0.9v0.9h-0.9zM175.9 329.4h0.9v0.9h-0.9zM126.5 317.8h0.9v0.9h-0.9zM146.7 304.5h0.9v0.9h-0.9zM129.3 335.2h0.9v0.9h-0.9zM141.0 335.4h0.9v0.9h-0.9zM172.5 282.9h0.9v0.9h-0.9zM161.4 333.1h0.9v0.9h-0.9zM161.0 338.5h0.9v0.9h-0.9zM144.5 303.7h0.9v0.9h-0.9zM126.1 308.4h0.9v0.9h-0.9zM174.6 277.4h0.9v0.9h-0.9zM133.4 307.6h0.9v0.9h-0.9zM171.0 276.5h0.9v0.9h-0.9zM185.4 297.5h0.9v0.9h-0.9zM180.3 286.6h0.9v0.9h-0.9zM141.6 310.3h0.9v0.9h-0.9zM178.1 284.7h0.9v0.9h-0.9zM185.1 294.3h0.9v0.9h-0.9zM132.4 315.6h0.9v0.9h-0.9zM138.6 337.1h0.9v0.9h-0.9zM137.8 311.6h0.9v0.9h-0.9zM134.9 332.0h0.9v0.9h-0.9zM204.6 284.7h0.9v0.9h-0.9zM137.7 331.4h0.9v0.9h-0.9zM128.8 317.0h0.9v0.9h-0.9zM144.8 335.2h0.9v0.9h-0.9zM126.2 319.0h0.9v0.9h-0.9zM182.2 339.9h0.9v0.9h-0.9zM133.6 311.8h0.9v0.9h-0.9zM161.5 331.3h0.9v0.9h-0.9zM124.2 334.5h0.9v0.9h-0.9zM137.7 333.8h0.9v0.9h-0.9zM178.3 278.6h0.9v0.9h-0.9zM184.9 289.2h0.9v0.9h-0.9zM132.9 311.4h0.9v0.9h-0.9zM185.7 316.0h0.9v0.9h-0.9zM135.5 306.5h0.9v0.9h-0.9zM185.4 290.7h0.9v0.9h-0.9zM181.3 338.0h0.9v0.9h-0.9zM144.2 301.9h0.9v0.9h-0.9zM169.7 283.1h0.9v0.9h-0.9zM196.2 338.2h0.9v0.9h-0.9zM168.8 288.7h0.9v0.9h-0.9zM168.8 284.0h0.9v0.9h-0.9zM125.2 337.1h0.9v0.9h-0.9zM132.3 305.0h0.9v0.9h-0.9zM147.9 304.6h0.9v0.9h-0.9zM160.4 336.2h0.9v0.9h-0.9zM168.1 286.6h0.9v0.9h-0.9zM182.2 300.5h0.9v0.9h-0.9zM137.0 299.5h0.9v0.9h-0.9zM178.3 268.7h0.9v0.9h-0.9zM171.3 332.5h0.9v0.9h-0.9zM141.8 310.4h0.9v0.9h-0.9zM176.1 280.1h0.9v0.9h-0.9zM133.7 311.4h0.9v0.9h-0.9zM134.9 297.3h0.9v0.9h-0.9zM184.2 333.3h0.9v0.9h-0.9zM143.9 300.4h0.9v0.9h-0.9zM142.7 305.6h0.9v0.9h-0.9zM170.3 274.0h0.9v0.9h-0.9zM133.1 314.1h0.9v0.9h-0.9zM172.4 333.8h0.9v0.9h-0.9zM137.9 330.8h0.9v0.9h-0.9zM132.5 309.5h0.9v0.9h-0.9zM177.1 282.5h0.9v0.9h-0.9zM126.3 306.9h0.9v0.9h-0.9zM173.4 280.5h0.9v0.9h-0.9zM133.0 311.0h0.9v0.9h-0.9zM150.7 307.2h0.9v0.9h-0.9zM128.2 336.6h0.9v0.9h-0.9zM150.0 333.4h0.9v0.9h-0.9zM132.6 330.3h0.9v0.9h-0.9zM178.0 284.9h0.9v0.9h-0.9zM155.8 286.1h0.9v0.9h-0.9zM134.4 333.5h0.9v0.9h-0.9zM134.1 311.9h0.9v0.9h-0.9zM172.4 279.8h0.9v0.9h-0.9zM183.9 291.7h0.9v0.9h-0.9zM130.7 314.2h0.9v0.9h-0.9z" fill="rgb(180,180,180)"/>
<path d="M173.0 327.4h0.9v0.9h-0.9zM164.8 301.2h0.9v0.9h-0.9zM182.0 298.4h0.9v0.9h-0.9zM143.2 273.3h0.9v0.9h-0.9zM141.4 251.6h0.9v0.9h-0.9zM202.1 265.0h0.9v0.9h-0.9zM197.4 277.8h0.9v0.9h-0.9z" fill="rgb(150,150,150)"/>
<path d="M130.6 276.7h0.9v0.9h-0.9zM164.4 280.3h0.9v0.9h-0.9zM201.2 290.5h0.9v0.9h-0.9zM160.2 270.4h0.9v0.9h-0.9zM210.5 323.7h0.9v0.9h-0.9zM138.4 284.6h0.9v0.9h-0.9zM176.9 294.6h0.9v0.9h-0.9zM156.1 246.4h0.9v0.9h-0.9zM139.6 311.0h0.9v0.9h-0.9z" fill="rgb(135,135,135)"/>
<path d="M186.9 283.5h0.9v0.9h-0.9zM165.8 249.8h0.9v0.9h-0.9zM162.0 313.6h0.9v0.9h-0.9zM194.8 315.7h0.9v0.9h-0.9zM130.6 252.6h0.9v0.9h-0.9zM199.0 247.0h0.9v0.9h-0.9z" fill="rgb(180,180,180)"/>
<path d="M161.2 272.1h0.9v0.9h-0.9zM187.7 275.7h0.9v0.9h-0.9zM214.0 274.4h0.9v0.9h-0.9zM126.7 274.9h0.9v0.9h-0.9zM180.8 255.0h0.9v0.9h-0.9zM171.3 293.0h0.9v0.9h-0.9zM139.9 295.8h0.9v0.9h-0.9z" fill="rgb(195,195,195)"/>
<path d="M153.8 296.0h0.9v0.9h-0.9zM207.5 318.5h0.9v0.9h-0.9zM179.7 278.8h0.9v0.9h-0.9zM186.1 312.4h0.9v0.9h-0.9zM143.7 254.0h0.9v0.9h-0.9zM146.6 287.2h0.9v0.9h-0.9zM186.0 302.5h0.9v0.9h-0.9z" fill="rgb(165,165,165)"/>
<path d="M129.7 289.2h0.9v0.9h-0.9z" fill="rgb(210,210,210)"/>
<path d="M128.8,320.6C129.5,317.3 131.8,313.3 133.6,311.8C135.4,310.3 137.3,312.6 139.5,311.6C141.7,310.6 144.6,307.6 147.0,306.0C149.4,304.4 151.3,304.1 154.0,301.8C156.7,299.5 160.2,294.9 163.0,292.0C165.8,289.1 168.4,285.9 170.6,284.4C172.8,282.9 174.6,281.8 176.4,283.0C178.2,284.2 180.3,287.7 181.4,291.4C182.5,295.1 182.8,298.8 183.0,305.0C183.2,311.2 184.8,323.7 182.4,328.4C180.0,333.1 173.2,332.7 168.6,333.3C164.0,333.9 159.4,332.4 155.0,332.0C150.6,331.6 146.2,331.3 142.0,331.2C137.8,331.1 131.9,333.2 129.7,331.4C127.5,329.6 128.2,323.9 128.8,320.6Z" fill="rgb(250,250,250)" stroke="#2a2a2a" stroke-width="0.65"/>
<path d="M132.0,320.6C132.6,317.6 134.8,313.8 136.5,312.4C138.2,311.0 139.9,313.2 142.0,312.3C144.1,311.4 146.7,308.6 149.0,307.1C151.2,305.5 153.0,305.3 155.5,303.1C157.9,301.0 161.3,296.7 163.8,294.0C166.4,291.3 168.8,288.4 170.9,287.0C173.0,285.6 174.6,284.6 176.3,285.7C178.0,286.7 179.9,290.1 181.0,293.5C182.0,296.9 182.3,300.4 182.4,306.1C182.6,311.9 184.1,323.5 181.9,327.9C179.7,332.3 173.3,331.9 169.0,332.4C164.8,333.0 160.5,331.6 156.4,331.2C152.3,330.9 148.2,330.6 144.3,330.5C140.4,330.4 134.9,332.3 132.9,330.7C130.8,329.0 131.4,323.7 132.0,320.6Z" fill="rgb(246,246,246)" stroke="#2a2a2a" stroke-width="0.65"/>
<path d="M135.3,320.7C135.8,317.8 137.9,314.4 139.4,313.1C140.9,311.8 142.5,313.7 144.5,312.9C146.4,312.1 148.8,309.5 150.9,308.1C153.0,306.7 154.6,306.5 156.9,304.5C159.2,302.5 162.3,298.6 164.7,296.1C167.1,293.6 169.3,290.8 171.2,289.5C173.1,288.2 174.7,287.3 176.2,288.3C177.8,289.3 179.6,292.4 180.5,295.5C181.5,298.7 181.7,301.9 181.9,307.2C182.0,312.5 183.4,323.3 181.4,327.4C179.3,331.4 173.4,331.1 169.5,331.6C165.6,332.1 161.6,330.8 157.8,330.5C154.0,330.2 150.2,329.9 146.6,329.8C143.0,329.7 137.9,331.5 136.0,329.9C134.1,328.4 134.7,323.5 135.3,320.7Z" fill="rgb(238,238,238)" stroke="#2a2a2a" stroke-width="0.65"/>
<path d="M138.5,320.7C139.0,318.1 140.9,314.9 142.3,313.7C143.7,312.5 145.2,314.3 147.0,313.6C148.7,312.8 151.0,310.4 152.9,309.1C154.8,307.9 156.3,307.7 158.4,305.8C160.5,304.0 163.3,300.4 165.5,298.1C167.7,295.8 169.8,293.3 171.5,292.1C173.3,290.9 174.7,290.1 176.1,291.0C177.5,291.9 179.2,294.7 180.1,297.6C180.9,300.5 181.2,303.5 181.3,308.4C181.5,313.2 182.7,323.1 180.8,326.8C178.9,330.6 173.6,330.2 169.9,330.7C166.3,331.2 162.7,330.0 159.2,329.7C155.7,329.4 152.3,329.1 148.9,329.1C145.6,329.0 141.0,330.6 139.2,329.2C137.5,327.8 138.0,323.3 138.5,320.7Z" fill="rgb(226,226,226)" stroke="#2a2a2a" stroke-width="0.65"/>
<path d="M141.7,320.7C142.2,318.4 143.9,315.5 145.2,314.4C146.5,313.3 147.8,314.9 149.4,314.2C151.0,313.5 153.1,311.4 154.8,310.2C156.6,309.0 158.0,308.9 159.9,307.2C161.8,305.5 164.4,302.2 166.4,300.1C168.4,298.0 170.2,295.7 171.8,294.6C173.4,293.6 174.7,292.8 176.0,293.6C177.3,294.5 178.8,297.0 179.6,299.7C180.4,302.3 180.6,305.0 180.8,309.5C180.9,313.9 182.1,322.9 180.3,326.3C178.6,329.7 173.7,329.4 170.4,329.9C167.1,330.3 163.8,329.2 160.6,328.9C157.4,328.7 154.3,328.4 151.2,328.3C148.2,328.3 144.0,329.8 142.4,328.5C140.8,327.2 141.3,323.1 141.7,320.7Z" fill="rgb(210,210,210)" stroke="#2a2a2a" stroke-width="0.65"/>
<path d="M145.0,320.7C145.4,318.6 146.9,316.0 148.1,315.0C149.2,314.0 150.5,315.5 151.9,314.9C153.4,314.3 155.2,312.3 156.8,311.2C158.4,310.2 159.6,310.0 161.3,308.5C163.1,307.0 165.4,304.0 167.2,302.1C169.0,300.3 170.7,298.2 172.1,297.2C173.6,296.2 174.7,295.5 175.9,296.3C177.1,297.1 178.4,299.4 179.2,301.8C179.9,304.1 180.1,306.6 180.2,310.6C180.3,314.6 181.4,322.7 179.8,325.8C178.2,328.9 173.8,328.6 170.8,329.0C167.9,329.4 164.9,328.4 162.0,328.1C159.1,327.9 156.3,327.7 153.6,327.6C150.8,327.6 147.0,328.9 145.6,327.8C144.1,326.6 144.5,322.9 145.0,320.7Z" fill="rgb(190,190,190)" stroke="#2a2a2a" stroke-width="0.65"/>
<path d="M148.2,320.8C148.6,318.9 150.0,316.5 151.0,315.7C152.0,314.8 153.1,316.1 154.4,315.5C155.7,315.0 157.4,313.2 158.8,312.3C160.2,311.4 161.3,311.2 162.8,309.9C164.4,308.5 166.4,305.9 168.0,304.2C169.6,302.5 171.2,300.6 172.4,299.8C173.7,298.9 174.8,298.3 175.8,299.0C176.9,299.6 178.1,301.7 178.7,303.8C179.3,306.0 179.5,308.1 179.6,311.7C179.7,315.3 180.7,322.6 179.3,325.3C177.9,328.0 173.9,327.8 171.3,328.1C168.6,328.5 166.0,327.6 163.4,327.4C160.8,327.2 158.3,327.0 155.9,326.9C153.4,326.9 150.0,328.1 148.7,327.0C147.4,326.0 147.8,322.7 148.2,320.8Z" fill="rgb(165,165,165)" stroke="#2a2a2a" stroke-width="0.65"/>
<path d="M151.4,320.8C151.8,319.1 153.0,317.1 153.9,316.3C154.8,315.5 155.8,316.7 156.9,316.2C158.0,315.7 159.5,314.2 160.7,313.4C162.0,312.5 162.9,312.4 164.3,311.2C165.6,310.0 167.5,307.7 168.9,306.2C170.3,304.7 171.6,303.1 172.8,302.3C173.9,301.6 174.8,301.0 175.7,301.6C176.6,302.2 177.7,304.0 178.3,305.9C178.8,307.8 179.0,309.7 179.1,312.8C179.2,316.0 180.0,322.4 178.8,324.8C177.6,327.2 174.1,327.0 171.7,327.3C169.4,327.6 167.1,326.8 164.8,326.6C162.5,326.4 160.3,326.3 158.2,326.2C156.0,326.2 153.0,327.2 151.9,326.3C150.8,325.4 151.1,322.5 151.4,320.8Z" fill="rgb(138,138,138)" stroke="#2a2a2a" stroke-width="0.65"/>
<path d="M154.7,320.8C155.0,319.4 156.0,317.6 156.8,317.0C157.6,316.3 158.4,317.3 159.4,316.9C160.4,316.4 161.6,315.1 162.7,314.4C163.7,313.7 164.6,313.6 165.8,312.6C166.9,311.5 168.5,309.5 169.7,308.2C170.9,307.0 172.1,305.6 173.1,304.9C174.0,304.2 174.8,303.8 175.6,304.3C176.4,304.8 177.3,306.4 177.8,308.0C178.3,309.6 178.4,311.2 178.5,314.0C178.6,316.7 179.3,322.2 178.3,324.3C177.2,326.3 174.2,326.1 172.2,326.4C170.2,326.7 168.2,326.0 166.2,325.8C164.2,325.7 162.3,325.5 160.5,325.5C158.6,325.4 156.0,326.4 155.1,325.6C154.1,324.8 154.4,322.3 154.7,320.8Z" fill="rgb(110,110,110)" stroke="#2a2a2a" stroke-width="0.65"/>
<path d="M157.9,320.9C158.1,319.6 159.0,318.2 159.7,317.6C160.3,317.0 161.0,317.9 161.9,317.5C162.7,317.2 163.7,316.1 164.6,315.4C165.5,314.8 166.2,314.8 167.2,313.9C168.2,313.0 169.5,311.3 170.6,310.3C171.6,309.2 172.5,308.0 173.4,307.5C174.2,306.9 174.9,306.5 175.5,306.9C176.2,307.4 177.0,308.7 177.4,310.0C177.8,311.4 177.9,312.8 178.0,315.1C178.0,317.4 178.6,322.0 177.7,323.7C176.8,325.5 174.3,325.3 172.6,325.6C170.9,325.8 169.2,325.2 167.6,325.1C166.0,324.9 164.4,324.8 162.8,324.8C161.2,324.7 159.1,325.5 158.2,324.8C157.4,324.2 157.7,322.1 157.9,320.9Z" fill="rgb(88,88,88)" stroke="#2a2a2a" stroke-width="0.65"/>
<ellipse cx="132.6" cy="326.4" rx="6.00" ry="6.80" fill="rgb(130,130,130)" stroke="#2a2a2a" stroke-width="0.6"/>
<ellipse cx="132.6" cy="326.4" rx="4.50" ry="5.10" fill="rgb(85,85,85)" stroke="#2a2a2a" stroke-width="0.6"/>
<ellipse cx="132.6" cy="326.4" rx="3.00" ry="3.40" fill="rgb(60,60,60)" stroke="#2a2a2a" stroke-width="0.6"/>
<ellipse cx="132.6" cy="326.4" rx="1.80" ry="2.04" fill="rgb(90,90,90)" stroke="#2a2a2a" stroke-width="0.6"/>
<ellipse cx="168.0" cy="327.0" rx="14.00" ry="5.50" fill="rgb(75,75,75)" stroke="#2a2a2a" stroke-width="0.5"/>
<ellipse cx="168.0" cy="327.0" rx="10.50" ry="4.12" fill="rgb(50,50,50)" stroke="#2a2a2a" stroke-width="0.5"/>
<ellipse cx="168.0" cy="327.0" rx="7.00" ry="2.75" fill="rgb(38,38,38)" stroke="#2a2a2a" stroke-width="0.5"/>
<path d="M120.5 313.8H217.5" stroke="#a0a0cc" stroke-width="1.3"/>
<path d="M153.2 244.5V342.2" stroke="#7070d0" stroke-width="1"/>
<rect x="120.5" y="244.5" width="97.0" height="97.7" fill="none" stroke="#4a4a4a" stroke-width="1.2"/>
<text transform="translate(124.61,254.80) scale(0.878,1)" font-size="8.90">3%</text>
<text transform="translate(199.71,254.40) scale(0.874,1)" font-size="8.90">30%</text>
<text transform="translate(121.25,340.80) scale(0.969,1)" font-size="8.90">14%</text>
<text transform="translate(199.07,340.80) scale(0.940,1)" font-size="8.90">53%</text>
<path d="M124.5 342.8v1.8M126.5 342.8v1.8M128.5 342.8v1.8M130.5 342.8v1.8M132.5 342.8v1.8M134.5 342.8v1.8M136.5 342.8v1.8M138.5 342.8v1.8M140.5 342.8v1.8M144.5 342.8v1.8M150.5 342.8v1.8M154.5 342.8v1.8M160.5 342.8v1.8M170.5 342.8v1.8M180.5 342.8v1.8M190.5 342.8v1.8M200.5 342.8v1.8M210.5 342.8v1.8" stroke="#888" stroke-width="0.7"/>
<rect x="132.0" y="343.0" width="2.4" height="2" fill="#222"/>
<rect x="118.6" y="326.0" width="1.5" height="2" fill="#222"/>
<path d="M118.3 256.5h2.2M118.3 263.5h2.2M118.3 267.5h2.2M118.3 270.5h2.2M118.3 272.5h2.2M118.3 274.5h2.2M118.3 276.0h2.2M118.3 277.5h2.2M118.3 279.0h2.2M118.3 280.5h2.2M118.3 284.5h2.2M118.3 291.5h2.2M118.3 295.5h2.2M118.3 298.5h2.2M118.3 300.5h2.2M118.3 302.5h2.2M118.3 304.0h2.2M118.3 305.5h2.2M118.3 307.0h2.2M118.3 308.5h2.2M118.3 312.5h2.2M118.3 319.5h2.2M118.3 323.5h2.2M118.3 326.5h2.2M118.3 328.5h2.2M118.3 330.5h2.2M118.3 332.0h2.2M118.3 333.5h2.2M118.3 335.0h2.2M118.3 336.5h2.2" stroke="#777" stroke-width="0.7"/>
<text transform="translate(12.7,86.7) rotate(-90)" font-size="9.4" text-anchor="middle" style="stroke:none">CTLA-4</text>
<text transform="translate(12.7,187.3) rotate(-90)" font-size="9.4" text-anchor="middle" style="stroke:none">BTLA</text>
<text transform="translate(12.7,289.2) rotate(-90)" font-size="9.4" text-anchor="middle" style="stroke:none">PD-1</text>
<text transform="translate(56.83,355.00) scale(0.961,1)" font-size="9.80">CD4</text>
<text transform="translate(157.63,353.80) scale(0.961,1)" font-size="9.80">CD4</text>
<text transform="translate(226.00,13.75)" font-size="17.40" font-weight="bold">B</text>
<path d="M252.5 21.6V143.5H363.5" fill="none" stroke="#888" stroke-width="1"/>
<text transform="translate(249.70,146.40) scale(1.030,1)" font-size="8.50" text-anchor="end" fill="#111" style="stroke:none">0</text>
<text transform="translate(249.70,122.02) scale(1.030,1)" font-size="8.50" text-anchor="end" fill="#111" style="stroke:none">20</text>
<text transform="translate(249.70,97.64) scale(1.030,1)" font-size="8.50" text-anchor="end" fill="#111" style="stroke:none">40</text>
<text transform="translate(249.70,73.26) scale(1.030,1)" font-size="8.50" text-anchor="end" fill="#111" style="stroke:none">60</text>
<text transform="translate(249.70,48.88) scale(1.030,1)" font-size="8.50" text-anchor="end" fill="#111" style="stroke:none">80</text>
<text transform="translate(249.70,24.50) scale(1.030,1)" font-size="8.50" text-anchor="end" fill="#111" style="stroke:none">100</text>
<path d="M266.2 31.9V43.6M261.8 31.9h9" stroke="#777" stroke-width="1"/>
<rect x="257.4" y="44.1" width="17.7" height="99.4" fill="#d6d6d6" stroke="#888" stroke-width="1"/>
<path d="M294.4 98.4V103M289.9 98.4h9" stroke="#777" stroke-width="1"/>
<rect x="285.4" y="103.5" width="17.9" height="40.0" fill="#d6d6d6" stroke="#888" stroke-width="1"/>
<path d="M322.5 66.7V74.8M318.0 66.7h9" stroke="#777" stroke-width="1"/>
<rect x="312.8" y="74.8" width="19.3" height="68.7" fill="#000"/>
<path d="M350.5 129.6V131.3M346.0 129.6h9" stroke="#777" stroke-width="1"/>
<rect x="341.1" y="131.3" width="18.8" height="12.2" fill="#000"/>
<path d="M249.9 143.5h2.6M249.9 119.1h2.6M249.9 94.7h2.6M249.9 70.4h2.6M249.9 46.0h2.6M249.9 21.6h2.6M266.2 143.5v2.6M294.4 143.5v2.6M322.5 143.5v2.6M350.5 143.5v2.6" stroke="#888" stroke-width="1"/>
<path d="M266.1 22.0V29.2M294.4 22.0V29.2M266.1 25.4H294.4" fill="none" stroke="#777" stroke-width="0.9"/>
<path d="M322.3 53.7V61.1M350.9 53.7V61.1M322.3 57.3H350.9" fill="none" stroke="#777" stroke-width="0.9"/>
<text transform="translate(375.90,13.90)" font-size="17.40" font-weight="bold">C</text>
<path d="M403.5 21.5V143.5H514.5" fill="none" stroke="#888" stroke-width="1"/>
<text transform="translate(399.80,146.40) scale(1.030,1)" font-size="8.50" text-anchor="end" fill="#111" style="stroke:none">0</text>
<text transform="translate(399.80,122.00) scale(1.030,1)" font-size="8.50" text-anchor="end" fill="#111" style="stroke:none">20</text>
<text transform="translate(399.80,97.60) scale(1.030,1)" font-size="8.50" text-anchor="end" fill="#111" style="stroke:none">40</text>
<text transform="translate(399.80,73.20) scale(1.030,1)" font-size="8.50" text-anchor="end" fill="#111" style="stroke:none">60</text>
<text transform="translate(399.80,48.80) scale(1.030,1)" font-size="8.50" text-anchor="end" fill="#111" style="stroke:none">80</text>
<text transform="translate(399.80,24.40) scale(1.030,1)" font-size="8.50" text-anchor="end" fill="#111" style="stroke:none">100</text>
<path d="M417.1 57.3V58.7M412.6 57.3h9" stroke="#777" stroke-width="1"/>
<rect x="407.8" y="59.2" width="18.5" height="84.3" fill="#d6d6d6" stroke="#888" stroke-width="1"/>
<path d="M445.2 98.1V100.2M440.8 98.1h9" stroke="#777" stroke-width="1"/>
<rect x="436.0" y="100.7" width="18.5" height="42.8" fill="#d6d6d6" stroke="#888" stroke-width="1"/>
<path d="M473.5 58.1V60.7M469.0 58.1h9" stroke="#777" stroke-width="1"/>
<rect x="464" y="60.7" width="19.0" height="82.8" fill="#000"/>
<path d="M501.9 47.7V52.5M497.4 47.7h9" stroke="#777" stroke-width="1"/>
<rect x="492.5" y="52.5" width="18.8" height="91.0" fill="#000"/>
<path d="M400.9 143.5h2.6M400.9 119.1h2.6M400.9 94.7h2.6M400.9 70.3h2.6M400.9 45.9h2.6M400.9 21.5h2.6M417.1 143.5v2.6M445.2 143.5v2.6M473.5 143.5v2.6M501.9 143.5v2.6" stroke="#888" stroke-width="1"/>
<path d="M417.3 45.9V53.6M445.5 45.9V53.6M417.3 49.7H445.5" fill="none" stroke="#777" stroke-width="0.9"/>
<path d="M473.6 36.2V43.4M501.7 36.2V43.4M473.6 40H501.7" fill="none" stroke="#777" stroke-width="0.9"/>
<text transform="translate(268.91,20.10) scale(1.083,1)" font-size="7.90" font-style="italic">p&lt;0.019</text>
<text transform="translate(325.72,51.50) scale(1.089,1)" font-size="7.90" font-style="italic">p&lt;0.011</text>
<text transform="translate(423.32,42.00) scale(1.102,1)" font-size="7.90" font-style="italic">p&lt;0.001</text>
<text transform="translate(480.84,38.40) scale(1.093,1)" font-size="8.20" font-style="italic">n.s.</text>
<text transform="translate(257.88,155.20) scale(1.029,1)" font-size="9.70">LN</text>
<text transform="translate(278.03,155.20) scale(0.965,1)" font-size="9.70">PBMC</text>
<text transform="translate(409.95,155.20) scale(1.066,1)" font-size="9.70">LN</text>
<text transform="translate(429.32,155.20) scale(0.976,1)" font-size="9.70">PBMC</text>
<text transform="translate(312.46,154.60) scale(0.993,1)" font-size="9.70">tonsil</text>
<text transform="translate(337.05,154.60) scale(0.942,1)" font-size="9.70">PBMC</text>
<text transform="translate(464.46,154.60) scale(0.993,1)" font-size="9.70">tonsil</text>
<text transform="translate(488.63,154.60) scale(0.957,1)" font-size="9.70">PBMC</text>
<path d="M257.6 157H304.2M312.4 157.8H362M409.6 157.4H455.2M464 157.8H513.6" stroke="#000" stroke-width="1.5"/>
<text transform="translate(276.98,168.00) scale(0.981,1)" font-size="10.90" font-weight="bold">FL</text>
<text transform="translate(429.06,168.10) scale(1.005,1)" font-size="10.90" font-weight="bold">FL</text>
<text transform="translate(318.14,167.20) scale(1.065,1)" font-size="10.20" font-weight="bold">healthy</text>
<text transform="translate(469.05,167.20) scale(1.056,1)" font-size="10.20" font-weight="bold">healthy</text>
<text transform="translate(236.2,85.4) rotate(-90) scale(1.0,1)" font-size="9.6" text-anchor="middle" style="stroke-width:0.08px">PD-1<tspan font-size="7" dy="-3.4">+</tspan><tspan dy="3.4"> cells (% of CD4</tspan><tspan font-size="7" dy="-3.4">+</tspan><tspan dy="3.4">)</tspan></text>
<text transform="translate(386.2,84.2) rotate(-90) scale(1.0,1)" font-size="9.6" text-anchor="middle" style="stroke-width:0.08px">BTLA<tspan font-size="7" dy="-3.4">+</tspan><tspan dy="3.4"> cells (% of CD4</tspan><tspan font-size="7" dy="-3.4">+</tspan><tspan dy="3.4">)</tspan></text>
<text transform="translate(226.20,190.80)" font-size="17.40" font-weight="bold">D</text>
<text transform="translate(376.20,190.80)" font-size="17.40" font-weight="bold">E</text>
<path d="M252.5 202.4V302.5H364.8" fill="none" stroke="#888" stroke-width="1"/>
<text transform="translate(249.80,305.50)" font-size="8.70" text-anchor="end" fill="#111" style="stroke:none">0</text>
<text transform="translate(252.50,312.10)" font-size="8.50" text-anchor="middle" fill="#555" style="stroke:none">0</text>
<text transform="translate(249.80,285.48)" font-size="8.70" text-anchor="end" fill="#111" style="stroke:none">20</text>
<text transform="translate(274.96,312.10)" font-size="8.50" text-anchor="middle" fill="#555" style="stroke:none">20</text>
<text transform="translate(249.80,265.46)" font-size="8.70" text-anchor="end" fill="#111" style="stroke:none">40</text>
<text transform="translate(297.42,312.10)" font-size="8.50" text-anchor="middle" fill="#555" style="stroke:none">40</text>
<text transform="translate(249.80,245.44)" font-size="8.70" text-anchor="end" fill="#111" style="stroke:none">60</text>
<text transform="translate(319.88,312.10)" font-size="8.50" text-anchor="middle" fill="#555" style="stroke:none">60</text>
<text transform="translate(249.80,225.42)" font-size="8.70" text-anchor="end" fill="#111" style="stroke:none">80</text>
<text transform="translate(342.34,312.10)" font-size="8.50" text-anchor="middle" fill="#555" style="stroke:none">80</text>
<text transform="translate(249.80,205.40)" font-size="8.70" text-anchor="end" fill="#111" style="stroke:none">100</text>
<text transform="translate(361.50,312.10)" font-size="8.50" text-anchor="middle" fill="#555" style="stroke:none">100</text>
<path d="M249.9 302.5h2.6M252.5 302.5v2M249.9 282.5h2.6M275.0 302.5v2M249.9 262.5h2.6M297.4 302.5v2M249.9 242.4h2.6M319.9 302.5v2M249.9 222.4h2.6M342.3 302.5v2M249.9 202.4h2.6M364.8 302.5v2" stroke="#888" stroke-width="1"/>
<path d="M300.6 204.6L303.2 207.2L300.6 209.8L298.1 207.2Z" fill="#d4202c"/>
<path d="M308.5 211.8L311.1 214.3L308.5 216.9L305.9 214.3Z" fill="#d4202c"/>
<path d="M294.5 224.5L297.1 227.1L294.5 229.7L291.9 227.1Z" fill="#d4202c"/>
<path d="M310.4 230.6L312.9 233.2L310.4 235.8L307.8 233.2Z" fill="#d4202c"/>
<path d="M306.1 240.8L308.7 243.3L306.1 245.9L303.6 243.3Z" fill="#d4202c"/>
<path d="M295.0 237.9L297.6 240.5L295.0 243.1L292.4 240.5Z" fill="#34b04a"/>
<path d="M297.5 237.2L300.1 239.8L297.5 242.4L294.9 239.8Z" fill="#34b04a"/>
<path d="M285.3 256.1L287.9 258.6L285.3 261.2L282.8 258.6Z" fill="#34b04a"/>
<circle cx="324.1" cy="260.7" r="2.2" fill="none" stroke="#d4202c" stroke-width="1.2"/>
<circle cx="315.0" cy="270.8" r="2.2" fill="none" stroke="#d4202c" stroke-width="1.2"/>
<circle cx="327.5" cy="274.5" r="2.2" fill="none" stroke="#d4202c" stroke-width="1.2"/>
<circle cx="333.6" cy="290.7" r="2.2" fill="none" stroke="#34b04a" stroke-width="1.2"/>
<circle cx="337.9" cy="295.0" r="2.2" fill="none" stroke="#34b04a" stroke-width="1.2"/>
<circle cx="341.0" cy="293.8" r="2.2" fill="none" stroke="#000" stroke-width="1.2"/>
<circle cx="356.2" cy="292.2" r="2.2" fill="none" stroke="#000" stroke-width="1.2"/>
<line x1="285.9" y1="223.4" x2="356.1" y2="301.8" stroke="#000" stroke-width="1.1"/>
<text transform="translate(260.2,295.5) scale(1.1,1)" font-size="8.4">r<tspan font-size="6.6" dy="-3.3">2</tspan><tspan dy="3.3">=0.617</tspan></text>
<path d="M403.5 202.4V302.5H515.1" fill="none" stroke="#888" stroke-width="1"/>
<text transform="translate(399.80,305.50)" font-size="8.70" text-anchor="end" fill="#111" style="stroke:none">0</text>
<text transform="translate(403.50,312.10)" font-size="8.50" text-anchor="middle" fill="#555" style="stroke:none">0</text>
<text transform="translate(399.80,285.48)" font-size="8.70" text-anchor="end" fill="#111" style="stroke:none">20</text>
<text transform="translate(425.82,312.10)" font-size="8.50" text-anchor="middle" fill="#555" style="stroke:none">20</text>
<text transform="translate(399.80,265.46)" font-size="8.70" text-anchor="end" fill="#111" style="stroke:none">40</text>
<text transform="translate(448.14,312.10)" font-size="8.50" text-anchor="middle" fill="#555" style="stroke:none">40</text>
<text transform="translate(399.80,245.44)" font-size="8.70" text-anchor="end" fill="#111" style="stroke:none">60</text>
<text transform="translate(470.46,312.10)" font-size="8.50" text-anchor="middle" fill="#555" style="stroke:none">60</text>
<text transform="translate(399.80,225.42)" font-size="8.70" text-anchor="end" fill="#111" style="stroke:none">80</text>
<text transform="translate(492.78,312.10)" font-size="8.50" text-anchor="middle" fill="#555" style="stroke:none">80</text>
<text transform="translate(399.80,205.40)" font-size="8.70" text-anchor="end" fill="#111" style="stroke:none">100</text>
<text transform="translate(511.80,312.10)" font-size="8.50" text-anchor="middle" fill="#555" style="stroke:none">100</text>
<path d="M400.9 302.5h2.6M403.5 302.5v2M400.9 282.5h2.6M425.8 302.5v2M400.9 262.5h2.6M448.1 302.5v2M400.9 242.4h2.6M470.5 302.5v2M400.9 222.4h2.6M492.8 302.5v2M400.9 202.4h2.6M515.1 302.5v2" stroke="#888" stroke-width="1"/>
<path d="M435.9 233.1L438.4 235.7L435.9 238.2L433.3 235.7Z" fill="#34b04a"/>
<path d="M446.0 227.0L448.6 229.6L446.0 232.2L443.4 229.6Z" fill="#d4202c"/>
<path d="M446.9 228.2L449.4 230.8L446.9 233.4L444.3 230.8Z" fill="#34b04a"/>
<path d="M445.5 230.9L448.1 233.5L445.5 236.1L442.9 233.5Z" fill="#34b04a"/>
<path d="M445.1 235.2L447.7 237.8L445.1 240.4L442.6 237.8Z" fill="#d4202c"/>
<path d="M451.5 232.8L454.1 235.4L451.5 238.0L448.9 235.4Z" fill="#d4202c"/>
<path d="M459.1 229.8L461.7 232.3L459.1 234.9L456.6 232.3Z" fill="#d4202c"/>
<path d="M460.7 240.4L463.2 243.0L460.7 245.6L458.1 243.0Z" fill="#d4202c"/>
<path d="M456.7 247.4L459.2 250.0L456.7 252.6L454.1 250.0Z" fill="#d4202c"/>
<circle cx="484.8" cy="229.6" r="2.2" fill="none" stroke="#34b04a" stroke-width="1.2"/>
<circle cx="488.8" cy="231.7" r="2.2" fill="none" stroke="#34b04a" stroke-width="1.2"/>
<circle cx="465.3" cy="267.8" r="2.2" fill="none" stroke="#d4202c" stroke-width="1.2"/>
<circle cx="474.4" cy="267.8" r="2.2" fill="none" stroke="#d4202c" stroke-width="1.2"/>
<circle cx="478.1" cy="263.8" r="2.2" fill="none" stroke="#d4202c" stroke-width="1.2"/>
<circle cx="491.3" cy="292.9" r="2.2" fill="none" stroke="#000" stroke-width="1.2"/>
<line x1="435.9" y1="231.1" x2="491.3" y2="261.7" stroke="#000" stroke-width="1.1"/>
<text transform="translate(410.2,297.9) scale(1.1,1)" font-size="8.4">r<tspan font-size="6.6" dy="-3.3">2</tspan><tspan dy="3.3">=0.271</tspan></text>
<text transform="translate(236.4,254.6) rotate(-90) scale(1.0,1)" font-size="9.6" text-anchor="middle" style="stroke-width:0.08px">PD-1<tspan font-size="7" dy="-3.4">+</tspan><tspan dy="3.4"> cells (% of CD4</tspan><tspan font-size="7" dy="-3.4">+</tspan><tspan dy="3.4">)</tspan></text>
<text transform="translate(386.8,253.0) rotate(-90) scale(1.0,1)" font-size="9.6" text-anchor="middle" style="stroke-width:0.08px">BTLA<tspan font-size="7" dy="-3.4">+</tspan><tspan dy="3.4"> cells (% of CD4</tspan><tspan font-size="7" dy="-3.4">+</tspan><tspan dy="3.4">)</tspan></text>
<text transform="translate(241.7,322.2) scale(1.02,1)" font-size="9.4" style="stroke-width:0.1px">IL-4-ind. p-STAT6 (% of CD4<tspan font-size="7" dy="-3.4">+</tspan><tspan dy="3.4">)</tspan></text>
<text transform="translate(391.09999999999997,322.2) scale(1.02,1)" font-size="9.4" style="stroke-width:0.1px">IL-4-ind. p-STAT6 (% of CD4<tspan font-size="7" dy="-3.4">+</tspan><tspan dy="3.4">)</tspan></text>
<path d="M235.5 334.6L240.2 339.2L235.5 343.8L230.8 339.2Z" fill="#d42a2a" stroke="#7a1a1a" stroke-width="0.8"/>
<circle cx="235.5" cy="351.3" r="3.0" fill="none" stroke="#c8203a" stroke-width="1.5"/>
<text transform="translate(247.04,342.20) scale(1.030,1)" font-size="8.90">LN</text>
<text transform="translate(245.78,354.20) scale(0.987,1)" font-size="8.90">PBMC</text>
<path d="M275.5 334.5V355M346.5 333.5V355.5" stroke="#000" stroke-width="1.2"/>
<text transform="translate(279.61,348.80) scale(1.058,1)" font-size="9.00">FL</text>
<path d="M309.5 333.4L314.6 338.5L309.5 343.6L304.4 338.5Z" fill="#1a9060" stroke="#0e5a3c" stroke-width="0.6"/>
<circle cx="309.3" cy="351.3" r="3.0" fill="none" stroke="#3d7a68" stroke-width="1.5"/>
<text transform="translate(318.67,341.60) scale(1.032,1)" font-size="8.60">tonsil</text>
<text transform="translate(316.17,354.20)" font-size="8.90">PBMC</text>
<text transform="translate(351.23,348.20) scale(0.990,1)" font-size="9.60">healthy donor</text>
<circle cx="427.3" cy="351.8" r="2.9" fill="none" stroke="#000" stroke-width="1.7"/>
<text transform="translate(436.97,354.60) scale(0.967,1)" font-size="9.10">PBMC, healthy donor</text>
</svg></body></html>
